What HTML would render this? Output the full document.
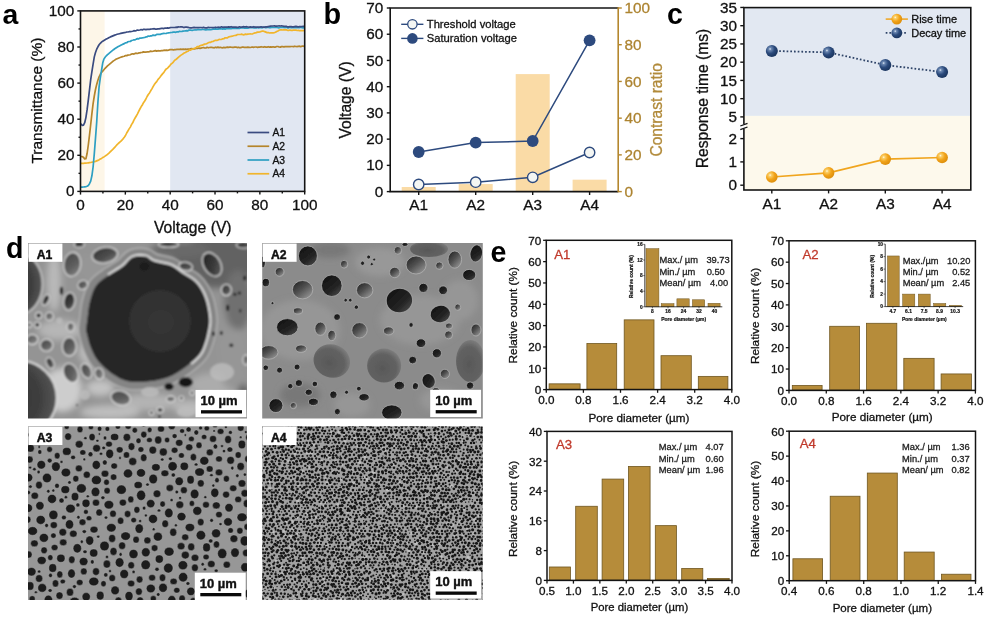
<!DOCTYPE html>
<html lang="en"><head><meta charset="utf-8"><title>Figure</title>
<style>html,body{margin:0;padding:0;background:#fff}svg{display:block}</style></head>
<body>
<svg width="987" height="618" viewBox="0 0 987 618" font-family='"Liberation Sans", Arial, sans-serif' fill="#111">
<rect width="987" height="618" fill="#fff"/>
<rect x="80.50" y="10.90" width="24.10" height="180.50" fill="#fdf6e8"/>
<rect x="170.18" y="10.90" width="134.52" height="180.50" fill="#e1e7f2"/>
<clipPath id="clipA"><rect x="80.5" y="10.9" width="224.2" height="180.5"/></clipPath>
<g clip-path="url(#clipA)" fill="none" stroke-width="1.7" stroke-linejoin="round" stroke-linecap="round">
<path d="M81.1,156.5 L82.3,156.7 L83.5,157.2 L84.7,158.9 L85.9,158.7 L87.1,153.5 L88.3,145.0 L89.5,135.2 L90.7,124.5 L91.9,113.7 L93.1,103.7 L94.3,96.0 L95.5,89.5 L96.7,84.4 L97.9,80.2 L99.1,76.8 L100.3,74.3 L101.5,72.5 L102.7,71.1 L103.9,69.7 L105.1,68.3 L106.3,67.1 L107.5,65.9 L108.7,64.9 L109.9,63.8 L111.1,62.8 L112.3,61.8 L113.5,60.9 L114.7,60.1 L115.9,59.3 L117.1,58.7 L118.3,58.2 L119.5,57.7 L120.7,57.3 L121.9,56.9 L123.1,56.5 L124.3,56.2 L125.5,55.6 L126.7,55.6 L127.9,55.1 L129.1,55.0 L130.3,54.7 L131.5,54.1 L132.7,53.8 L133.9,54.1 L135.1,53.4 L136.3,53.2 L137.5,53.5 L138.7,52.9 L139.9,52.9 L141.1,52.5 L142.3,52.4 L143.5,51.9 L144.7,52.1 L145.9,52.2 L147.1,51.8 L148.3,51.8 L149.5,51.6 L150.7,51.1 L151.9,51.5 L153.1,51.2 L154.3,50.9 L155.5,50.6 L156.7,51.1 L157.9,50.7 L159.1,50.8 L160.3,50.8 L161.5,50.6 L162.7,50.7 L163.9,50.2 L165.1,50.4 L166.3,50.1 L167.5,50.4 L168.7,50.2 L169.9,49.6 L171.1,49.6 L172.3,49.6 L173.5,50.0 L174.7,49.6 L175.9,49.6 L177.1,49.3 L178.3,49.4 L179.5,49.3 L180.7,49.2 L181.9,49.3 L183.1,49.2 L184.3,49.4 L185.5,49.1 L186.7,49.3 L187.9,49.1 L189.1,49.2 L190.3,48.9 L191.5,48.5 L192.7,48.9 L193.9,48.9 L195.1,48.8 L196.3,48.5 L197.5,48.5 L198.7,48.0 L199.9,48.4 L201.1,48.1 L202.3,47.8 L203.5,47.5 L204.7,48.0 L205.9,48.0 L207.1,47.3 L208.3,47.8 L209.5,47.5 L210.7,47.3 L211.9,47.4 L213.1,47.7 L214.3,47.8 L215.5,47.2 L216.7,47.6 L217.9,47.1 L219.1,47.6 L220.3,47.3 L221.5,47.7 L222.7,47.8 L223.9,47.4 L225.1,47.8 L226.3,47.3 L227.5,47.1 L228.7,47.4 L229.9,47.0 L231.1,47.2 L232.3,47.3 L233.5,47.4 L234.7,47.1 L235.9,47.0 L237.1,47.6 L238.3,47.2 L239.5,47.6 L240.7,47.6 L241.9,47.2 L243.1,47.2 L244.3,47.3 L245.5,47.3 L246.7,47.3 L247.9,47.2 L249.1,47.3 L250.3,47.5 L251.5,47.2 L252.7,47.1 L253.9,47.3 L255.1,47.0 L256.3,47.0 L257.5,47.4 L258.7,47.1 L259.9,47.1 L261.1,46.7 L262.3,47.0 L263.5,47.1 L264.7,46.7 L265.9,47.1 L267.1,47.1 L268.3,46.7 L269.5,47.1 L270.7,46.9 L271.9,47.1 L273.1,46.8 L274.3,47.1 L275.5,47.1 L276.7,46.5 L277.9,46.5 L279.1,47.0 L280.3,47.1 L281.5,46.6 L282.7,46.7 L283.9,46.8 L285.1,46.6 L286.3,46.6 L287.5,46.6 L288.7,46.6 L289.9,46.7 L291.1,46.5 L292.3,46.5 L293.5,46.7 L294.7,46.2 L295.9,46.5 L297.1,46.6 L298.3,46.3 L299.5,46.2 L300.7,46.6 L301.9,46.2 L303.1,46.1 L304.3,46.3" stroke="#b5852b"/>
<path d="M81.1,163.4 L82.3,163.4 L83.5,163.3 L84.7,163.2 L85.9,163.1 L87.1,163.0 L88.3,162.8 L89.5,162.6 L90.7,162.5 L91.9,162.2 L93.1,162.0 L94.3,161.7 L95.5,161.4 L96.7,160.9 L97.9,160.4 L99.1,159.8 L100.3,159.1 L101.5,158.4 L102.7,157.6 L103.9,156.9 L105.1,156.1 L106.3,155.3 L107.5,154.3 L108.7,153.3 L109.9,152.1 L111.1,151.0 L112.3,149.8 L113.5,148.6 L114.7,147.3 L115.9,146.0 L117.1,144.7 L118.3,143.5 L119.5,142.4 L120.7,141.3 L121.9,140.1 L123.1,138.8 L124.3,137.2 L125.5,135.5 L126.7,133.0 L127.9,131.0 L129.1,128.9 L130.3,127.1 L131.5,124.6 L132.7,122.8 L133.9,120.1 L135.1,118.0 L136.3,116.0 L137.5,113.9 L138.7,111.4 L139.9,109.0 L141.1,106.8 L142.3,105.0 L143.5,102.7 L144.7,101.0 L145.9,99.0 L147.1,96.5 L148.3,94.5 L149.5,92.9 L150.7,90.8 L151.9,88.9 L153.1,86.7 L154.3,84.6 L155.5,82.9 L156.7,81.6 L157.9,79.6 L159.1,78.2 L160.3,76.7 L161.5,75.1 L162.7,73.6 L163.9,72.4 L165.1,70.4 L166.3,68.9 L167.5,68.3 L168.7,66.9 L169.9,65.6 L171.1,64.0 L172.3,63.1 L173.5,61.8 L174.7,60.2 L175.9,59.5 L177.1,58.5 L178.3,57.4 L179.5,56.4 L180.7,55.4 L181.9,54.6 L183.1,53.8 L184.3,52.9 L185.5,52.5 L186.7,51.6 L187.9,51.3 L189.1,50.2 L190.3,50.2 L191.5,49.5 L192.7,49.1 L193.9,48.5 L195.1,48.1 L196.3,47.4 L197.5,46.5 L198.7,46.6 L199.9,45.7 L201.1,45.4 L202.3,45.2 L203.5,44.6 L204.7,44.1 L205.9,44.0 L207.1,43.4 L208.3,42.8 L209.5,42.3 L210.7,42.3 L211.9,41.6 L213.1,41.5 L214.3,40.8 L215.5,40.3 L216.7,40.3 L217.9,40.1 L219.1,39.4 L220.3,39.5 L221.5,39.3 L222.7,38.9 L223.9,38.7 L225.1,37.8 L226.3,37.9 L227.5,37.8 L228.7,36.9 L229.9,36.7 L231.1,36.3 L232.3,36.2 L233.5,35.8 L234.7,35.5 L235.9,35.4 L237.1,34.7 L238.3,34.5 L239.5,34.5 L240.7,34.4 L241.9,34.2 L243.1,34.8 L244.3,34.7 L245.5,34.1 L246.7,34.3 L247.9,34.1 L249.1,34.0 L250.3,33.9 L251.5,34.0 L252.7,33.8 L253.9,33.3 L255.1,32.9 L256.3,32.6 L257.5,32.1 L258.7,32.1 L259.9,31.9 L261.1,31.5 L262.3,31.1 L263.5,31.2 L264.7,31.6 L265.9,32.1 L267.1,32.6 L268.3,32.5 L269.5,33.0 L270.7,32.9 L271.9,32.8 L273.1,32.8 L274.3,32.6 L275.5,32.3 L276.7,31.5 L277.9,31.0 L279.1,30.3 L280.3,29.8 L281.5,29.9 L282.7,30.0 L283.9,29.6 L285.1,29.9 L286.3,29.9 L287.5,30.3 L288.7,30.4 L289.9,30.0 L291.1,30.4 L292.3,30.4 L293.5,30.0 L294.7,30.2 L295.9,30.0 L297.1,30.5 L298.3,30.4 L299.5,30.6 L300.7,30.6 L301.9,30.5 L303.1,30.6 L304.3,30.5" stroke="#f1b52c"/>
<path d="M81.1,187.1 L82.3,187.1 L83.5,187.0 L84.7,186.8 L85.9,186.6 L87.1,186.3 L88.3,185.5 L89.5,183.7 L90.7,181.1 L91.9,175.8 L93.1,167.0 L94.3,153.6 L95.5,138.1 L96.7,122.1 L97.9,102.2 L99.1,86.6 L100.3,77.9 L101.5,70.5 L102.7,63.1 L103.9,59.1 L105.1,57.2 L106.3,55.8 L107.5,54.6 L108.7,53.7 L109.9,52.7 L111.1,51.7 L112.3,50.7 L113.5,49.7 L114.7,48.8 L115.9,48.0 L117.1,47.2 L118.3,46.5 L119.5,45.9 L120.7,45.3 L121.9,44.7 L123.1,44.1 L124.3,43.6 L125.5,42.8 L126.7,42.7 L127.9,41.8 L129.1,41.5 L130.3,41.5 L131.5,40.5 L132.7,40.2 L133.9,39.8 L135.1,39.9 L136.3,39.1 L137.5,38.6 L138.7,38.9 L139.9,38.0 L141.1,38.2 L142.3,37.8 L143.5,37.7 L144.7,37.5 L145.9,36.9 L147.1,36.8 L148.3,36.0 L149.5,36.3 L150.7,35.9 L151.9,35.8 L153.1,35.1 L154.3,35.4 L155.5,35.3 L156.7,34.4 L157.9,34.4 L159.1,34.4 L160.3,34.4 L161.5,33.8 L162.7,33.6 L163.9,33.4 L165.1,33.5 L166.3,33.4 L167.5,33.0 L168.7,32.8 L169.9,32.7 L171.1,32.5 L172.3,32.4 L173.5,32.0 L174.7,32.1 L175.9,32.3 L177.1,31.8 L178.3,31.9 L179.5,31.3 L180.7,31.5 L181.9,31.4 L183.1,31.2 L184.3,31.0 L185.5,30.8 L186.7,30.7 L187.9,30.8 L189.1,30.1 L190.3,30.0 L191.5,30.3 L192.7,30.3 L193.9,30.0 L195.1,29.9 L196.3,30.0 L197.5,29.6 L198.7,29.6 L199.9,29.5 L201.1,29.7 L202.3,29.5 L203.5,29.4 L204.7,29.7 L205.9,29.9 L207.1,29.4 L208.3,29.6 L209.5,29.4 L210.7,29.7 L211.9,29.4 L213.1,29.2 L214.3,29.1 L215.5,28.9 L216.7,29.2 L217.9,29.1 L219.1,28.9 L220.3,28.9 L221.5,28.8 L222.7,29.1 L223.9,28.6 L225.1,29.1 L226.3,28.7 L227.5,28.7 L228.7,28.5 L229.9,28.7 L231.1,28.6 L232.3,28.4 L233.5,28.3 L234.7,28.4 L235.9,28.4 L237.1,28.1 L238.3,28.3 L239.5,28.4 L240.7,28.0 L241.9,27.8 L243.1,27.8 L244.3,28.1 L245.5,28.1 L246.7,28.2 L247.9,28.1 L249.1,27.7 L250.3,27.6 L251.5,27.6 L252.7,27.5 L253.9,27.9 L255.1,28.0 L256.3,28.0 L257.5,27.5 L258.7,27.9 L259.9,27.5 L261.1,27.6 L262.3,27.8 L263.5,27.3 L264.7,27.3 L265.9,27.8 L267.1,27.4 L268.3,27.4 L269.5,27.6 L270.7,27.6 L271.9,27.2 L273.1,27.4 L274.3,27.5 L275.5,27.5 L276.7,27.3 L277.9,27.6 L279.1,27.8 L280.3,27.4 L281.5,27.5 L282.7,27.2 L283.9,27.3 L285.1,27.6 L286.3,27.2 L287.5,27.8 L288.7,27.8 L289.9,27.2 L291.1,27.8 L292.3,27.4 L293.5,27.7 L294.7,27.7 L295.9,27.4 L297.1,27.6 L298.3,27.6 L299.5,27.7 L300.7,27.3 L301.9,27.7 L303.1,27.8 L304.3,27.6" stroke="#2d9fc2"/>
<path d="M81.1,124.2 L82.3,125.4 L83.5,125.1 L84.7,122.7 L85.9,117.6 L87.1,109.7 L88.3,100.1 L89.5,89.9 L90.7,79.7 L91.9,71.7 L93.1,64.1 L94.3,56.9 L95.5,52.5 L96.7,49.2 L97.9,46.8 L99.1,44.8 L100.3,43.3 L101.5,42.2 L102.7,41.2 L103.9,40.5 L105.1,39.8 L106.3,39.1 L107.5,38.5 L108.7,37.8 L109.9,37.2 L111.1,36.6 L112.3,36.1 L113.5,35.6 L114.7,35.1 L115.9,34.7 L117.1,34.3 L118.3,34.0 L119.5,33.7 L120.7,33.4 L121.9,33.1 L123.1,32.9 L124.3,32.7 L125.5,32.5 L126.7,32.0 L127.9,32.0 L129.1,31.7 L130.3,31.7 L131.5,31.5 L132.7,31.2 L133.9,30.7 L135.1,30.8 L136.3,30.6 L137.5,30.0 L138.7,30.3 L139.9,30.0 L141.1,29.5 L142.3,30.0 L143.5,29.3 L144.7,29.4 L145.9,29.6 L147.1,29.4 L148.3,29.3 L149.5,29.3 L150.7,29.1 L151.9,29.0 L153.1,28.8 L154.3,28.7 L155.5,29.1 L156.7,29.1 L157.9,28.9 L159.1,28.9 L160.3,28.6 L161.5,28.4 L162.7,28.4 L163.9,28.6 L165.1,28.0 L166.3,28.2 L167.5,27.9 L168.7,28.1 L169.9,27.7 L171.1,27.5 L172.3,27.5 L173.5,27.5 L174.7,27.5 L175.9,27.2 L177.1,27.4 L178.3,26.9 L179.5,27.0 L180.7,26.8 L181.9,26.8 L183.1,27.3 L184.3,27.4 L185.5,27.0 L186.7,27.1 L187.9,27.3 L189.1,27.6 L190.3,27.8 L191.5,27.8 L192.7,27.7 L193.9,27.4 L195.1,27.6 L196.3,27.5 L197.5,27.7 L198.7,27.7 L199.9,27.5 L201.1,27.5 L202.3,27.8 L203.5,27.3 L204.7,27.8 L205.9,27.8 L207.1,27.8 L208.3,27.4 L209.5,27.5 L210.7,27.5 L211.9,27.5 L213.1,27.7 L214.3,27.5 L215.5,27.2 L216.7,27.5 L217.9,27.2 L219.1,27.3 L220.3,27.4 L221.5,26.8 L222.7,27.3 L223.9,27.2 L225.1,27.1 L226.3,27.1 L227.5,27.1 L228.7,26.9 L229.9,27.1 L231.1,26.7 L232.3,27.1 L233.5,27.2 L234.7,27.0 L235.9,27.1 L237.1,27.4 L238.3,27.3 L239.5,26.8 L240.7,27.2 L241.9,27.1 L243.1,26.7 L244.3,26.9 L245.5,26.8 L246.7,26.7 L247.9,27.0 L249.1,27.3 L250.3,26.9 L251.5,27.2 L252.7,27.1 L253.9,26.7 L255.1,27.2 L256.3,27.0 L257.5,27.2 L258.7,27.1 L259.9,27.1 L261.1,26.8 L262.3,27.1 L263.5,27.2 L264.7,27.1 L265.9,26.8 L267.1,26.9 L268.3,26.6 L269.5,26.3 L270.7,26.1 L271.9,26.0 L273.1,26.0 L274.3,25.9 L275.5,26.1 L276.7,26.1 L277.9,26.0 L279.1,25.9 L280.3,26.0 L281.5,25.8 L282.7,26.0 L283.9,26.4 L285.1,26.3 L286.3,26.3 L287.5,26.9 L288.7,26.9 L289.9,26.7 L291.1,26.7 L292.3,26.8 L293.5,26.9 L294.7,26.6 L295.9,26.4 L297.1,26.6 L298.3,27.0 L299.5,26.5 L300.7,26.7 L301.9,26.5 L303.1,26.4 L304.3,26.4" stroke="#3a4b80"/>
</g>
<rect x="80.5" y="10.9" width="224.20" height="180.50" fill="none" stroke="#141414" stroke-width="1.6"/>
<line x1="80.50" y1="191.40" x2="80.50" y2="194.60" stroke="#141414" stroke-width="1.4"/>
<line x1="77.30" y1="191.40" x2="80.50" y2="191.40" stroke="#141414" stroke-width="1.4"/>
<line x1="102.92" y1="191.40" x2="102.92" y2="193.40" stroke="#141414" stroke-width="1.4"/>
<line x1="78.50" y1="173.35" x2="80.50" y2="173.35" stroke="#141414" stroke-width="1.4"/>
<line x1="125.34" y1="191.40" x2="125.34" y2="194.60" stroke="#141414" stroke-width="1.4"/>
<line x1="77.30" y1="155.30" x2="80.50" y2="155.30" stroke="#141414" stroke-width="1.4"/>
<line x1="147.76" y1="191.40" x2="147.76" y2="193.40" stroke="#141414" stroke-width="1.4"/>
<line x1="78.50" y1="137.25" x2="80.50" y2="137.25" stroke="#141414" stroke-width="1.4"/>
<line x1="170.18" y1="191.40" x2="170.18" y2="194.60" stroke="#141414" stroke-width="1.4"/>
<line x1="77.30" y1="119.20" x2="80.50" y2="119.20" stroke="#141414" stroke-width="1.4"/>
<line x1="192.60" y1="191.40" x2="192.60" y2="193.40" stroke="#141414" stroke-width="1.4"/>
<line x1="78.50" y1="101.15" x2="80.50" y2="101.15" stroke="#141414" stroke-width="1.4"/>
<line x1="215.02" y1="191.40" x2="215.02" y2="194.60" stroke="#141414" stroke-width="1.4"/>
<line x1="77.30" y1="83.10" x2="80.50" y2="83.10" stroke="#141414" stroke-width="1.4"/>
<line x1="237.44" y1="191.40" x2="237.44" y2="193.40" stroke="#141414" stroke-width="1.4"/>
<line x1="78.50" y1="65.05" x2="80.50" y2="65.05" stroke="#141414" stroke-width="1.4"/>
<line x1="259.86" y1="191.40" x2="259.86" y2="194.60" stroke="#141414" stroke-width="1.4"/>
<line x1="77.30" y1="47.00" x2="80.50" y2="47.00" stroke="#141414" stroke-width="1.4"/>
<line x1="282.28" y1="191.40" x2="282.28" y2="193.40" stroke="#141414" stroke-width="1.4"/>
<line x1="78.50" y1="28.95" x2="80.50" y2="28.95" stroke="#141414" stroke-width="1.4"/>
<line x1="304.70" y1="191.40" x2="304.70" y2="194.60" stroke="#141414" stroke-width="1.4"/>
<line x1="77.30" y1="10.90" x2="80.50" y2="10.90" stroke="#141414" stroke-width="1.4"/>
<text x="80.50" y="209.90" font-size="15.3" text-anchor="middle" stroke="#111" stroke-width="0.3">0</text>
<text x="74.40" y="196.40" font-size="15.3" text-anchor="end" stroke="#111" stroke-width="0.3">0</text>
<text x="125.34" y="209.90" font-size="15.3" text-anchor="middle" stroke="#111" stroke-width="0.3">20</text>
<text x="74.40" y="160.30" font-size="15.3" text-anchor="end" stroke="#111" stroke-width="0.3">20</text>
<text x="170.18" y="209.90" font-size="15.3" text-anchor="middle" stroke="#111" stroke-width="0.3">40</text>
<text x="74.40" y="124.20" font-size="15.3" text-anchor="end" stroke="#111" stroke-width="0.3">40</text>
<text x="215.02" y="209.90" font-size="15.3" text-anchor="middle" stroke="#111" stroke-width="0.3">60</text>
<text x="74.40" y="88.10" font-size="15.3" text-anchor="end" stroke="#111" stroke-width="0.3">60</text>
<text x="259.86" y="209.90" font-size="15.3" text-anchor="middle" stroke="#111" stroke-width="0.3">80</text>
<text x="74.40" y="52.00" font-size="15.3" text-anchor="end" stroke="#111" stroke-width="0.3">80</text>
<text x="304.70" y="209.90" font-size="15.3" text-anchor="middle" stroke="#111" stroke-width="0.3">100</text>
<text x="74.40" y="15.90" font-size="15.3" text-anchor="end" stroke="#111" stroke-width="0.3">100</text>
<text x="192.80" y="232.60" font-size="15.7" text-anchor="middle" stroke="#111" stroke-width="0.3">Voltage (V)</text>
<text x="42.40" y="100.60" font-size="15.5" text-anchor="middle" stroke="#111" stroke-width="0.3" transform="rotate(-90 42.40 100.60)">Transmittance (%)</text>
<line x1="247.50" y1="132.50" x2="269.20" y2="132.50" stroke="#3a4b80" stroke-width="1.7"/>
<text x="272.40" y="136.10" font-size="10.3" stroke="#111" stroke-width="0.3">A1</text>
<line x1="247.50" y1="146.25" x2="269.20" y2="146.25" stroke="#b5852b" stroke-width="1.7"/>
<text x="272.40" y="149.85" font-size="10.3" stroke="#111" stroke-width="0.3">A2</text>
<line x1="247.50" y1="160.00" x2="269.20" y2="160.00" stroke="#2d9fc2" stroke-width="1.7"/>
<text x="272.40" y="163.60" font-size="10.3" stroke="#111" stroke-width="0.3">A3</text>
<line x1="247.50" y1="173.75" x2="269.20" y2="173.75" stroke="#f1b52c" stroke-width="1.7"/>
<text x="272.40" y="177.35" font-size="10.3" stroke="#111" stroke-width="0.3">A4</text>
<text x="2.60" y="24.40" font-size="28.4" font-weight="bold" fill="#000">a</text>
<rect x="401.70" y="187.01" width="34.00" height="4.59" fill="#fadba6"/>
<rect x="458.70" y="184.07" width="34.00" height="7.53" fill="#fadba6"/>
<rect x="515.70" y="74.10" width="34.00" height="117.50" fill="#fadba6"/>
<rect x="572.60" y="179.67" width="34.00" height="11.93" fill="#fadba6"/>
<path d="M390.2,8.0 H618.2 M390.2,7.3 V191.6 H618.2" fill="none" stroke="#141414" stroke-width="1.6"/>
<line x1="618.20" y1="7.30" x2="618.20" y2="192.30" stroke="#b4872e" stroke-width="1.6"/>
<line x1="386.80" y1="191.60" x2="390.20" y2="191.60" stroke="#141414" stroke-width="1.4"/>
<text x="383.20" y="196.70" font-size="15.3" text-anchor="end" stroke="#111" stroke-width="0.3">0</text>
<line x1="386.80" y1="165.37" x2="390.20" y2="165.37" stroke="#141414" stroke-width="1.4"/>
<text x="383.20" y="170.47" font-size="15.3" text-anchor="end" stroke="#111" stroke-width="0.3">10</text>
<line x1="386.80" y1="139.14" x2="390.20" y2="139.14" stroke="#141414" stroke-width="1.4"/>
<text x="383.20" y="144.24" font-size="15.3" text-anchor="end" stroke="#111" stroke-width="0.3">20</text>
<line x1="386.80" y1="112.91" x2="390.20" y2="112.91" stroke="#141414" stroke-width="1.4"/>
<text x="383.20" y="118.01" font-size="15.3" text-anchor="end" stroke="#111" stroke-width="0.3">30</text>
<line x1="386.80" y1="86.69" x2="390.20" y2="86.69" stroke="#141414" stroke-width="1.4"/>
<text x="383.20" y="91.79" font-size="15.3" text-anchor="end" stroke="#111" stroke-width="0.3">40</text>
<line x1="386.80" y1="60.46" x2="390.20" y2="60.46" stroke="#141414" stroke-width="1.4"/>
<text x="383.20" y="65.56" font-size="15.3" text-anchor="end" stroke="#111" stroke-width="0.3">50</text>
<line x1="386.80" y1="34.23" x2="390.20" y2="34.23" stroke="#141414" stroke-width="1.4"/>
<text x="383.20" y="39.33" font-size="15.3" text-anchor="end" stroke="#111" stroke-width="0.3">60</text>
<line x1="386.80" y1="8.00" x2="390.20" y2="8.00" stroke="#141414" stroke-width="1.4"/>
<text x="383.20" y="13.10" font-size="15.3" text-anchor="end" stroke="#111" stroke-width="0.3">70</text>
<line x1="618.20" y1="191.60" x2="621.80" y2="191.60" stroke="#b4872e" stroke-width="1.4"/>
<text x="624.40" y="196.70" font-size="15.3" fill="#ad8431" stroke="#ad8431" stroke-width="0.3">0</text>
<line x1="618.20" y1="154.88" x2="621.80" y2="154.88" stroke="#b4872e" stroke-width="1.4"/>
<text x="624.40" y="159.98" font-size="15.3" fill="#ad8431" stroke="#ad8431" stroke-width="0.3">20</text>
<line x1="618.20" y1="118.16" x2="621.80" y2="118.16" stroke="#b4872e" stroke-width="1.4"/>
<text x="624.40" y="123.26" font-size="15.3" fill="#ad8431" stroke="#ad8431" stroke-width="0.3">40</text>
<line x1="618.20" y1="81.44" x2="621.80" y2="81.44" stroke="#b4872e" stroke-width="1.4"/>
<text x="624.40" y="86.54" font-size="15.3" fill="#ad8431" stroke="#ad8431" stroke-width="0.3">60</text>
<line x1="618.20" y1="44.72" x2="621.80" y2="44.72" stroke="#b4872e" stroke-width="1.4"/>
<text x="624.40" y="49.82" font-size="15.3" fill="#ad8431" stroke="#ad8431" stroke-width="0.3">80</text>
<line x1="618.20" y1="8.00" x2="621.80" y2="8.00" stroke="#b4872e" stroke-width="1.4"/>
<text x="624.40" y="13.10" font-size="15.3" fill="#ad8431" stroke="#ad8431" stroke-width="0.3">100</text>
<line x1="418.70" y1="191.60" x2="418.70" y2="195.00" stroke="#141414" stroke-width="1.4"/>
<text x="418.70" y="209.90" font-size="15.3" text-anchor="middle" stroke="#111" stroke-width="0.3">A1</text>
<line x1="475.70" y1="191.60" x2="475.70" y2="195.00" stroke="#141414" stroke-width="1.4"/>
<text x="475.70" y="209.90" font-size="15.3" text-anchor="middle" stroke="#111" stroke-width="0.3">A2</text>
<line x1="532.70" y1="191.60" x2="532.70" y2="195.00" stroke="#141414" stroke-width="1.4"/>
<text x="532.70" y="209.90" font-size="15.3" text-anchor="middle" stroke="#111" stroke-width="0.3">A3</text>
<line x1="589.60" y1="191.60" x2="589.60" y2="195.00" stroke="#141414" stroke-width="1.4"/>
<text x="589.60" y="209.90" font-size="15.3" text-anchor="middle" stroke="#111" stroke-width="0.3">A4</text>
<path d="M418.7,184.5 L475.7,182.2 L532.7,177.3 L589.6,152.5" fill="none" stroke="#2d4a7e" stroke-width="1.5"/>
<path d="M418.7,152.0 L475.7,142.6 L532.7,141.0 L589.6,40.3" fill="none" stroke="#2d4a7e" stroke-width="1.5"/>
<circle cx="418.7" cy="184.5" r="5.2" fill="#f4f6f3" stroke="#2d4a7e" stroke-width="1.4"/>
<circle cx="475.7" cy="182.2" r="5.2" fill="#f4f6f3" stroke="#2d4a7e" stroke-width="1.4"/>
<circle cx="532.7" cy="177.3" r="5.2" fill="#f4f6f3" stroke="#2d4a7e" stroke-width="1.4"/>
<circle cx="589.6" cy="152.5" r="5.2" fill="#f4f6f3" stroke="#2d4a7e" stroke-width="1.4"/>
<circle cx="418.7" cy="152.0" r="5.9" fill="#2d4a7e"/>
<circle cx="475.7" cy="142.6" r="5.9" fill="#2d4a7e"/>
<circle cx="532.7" cy="141.0" r="5.9" fill="#2d4a7e"/>
<circle cx="589.6" cy="40.3" r="5.9" fill="#2d4a7e"/>
<line x1="401.20" y1="24.30" x2="423.40" y2="24.30" stroke="#2d4a7e" stroke-width="1.4"/>
<circle cx="412.4" cy="24.3" r="4.7" fill="#f4f6f3" stroke="#2d4a7e" stroke-width="1.3"/>
<line x1="401.20" y1="38.40" x2="423.40" y2="38.40" stroke="#2d4a7e" stroke-width="1.4"/>
<circle cx="412.4" cy="38.4" r="5.3" fill="#2d4a7e"/>
<text x="426.80" y="28.20" font-size="11.2" stroke="#111" stroke-width="0.3">Threshold voltage</text>
<text x="426.80" y="42.30" font-size="11.2" stroke="#111" stroke-width="0.3">Saturation voltage</text>
<text x="351.00" y="100.00" font-size="15.6" text-anchor="middle" stroke="#111" stroke-width="0.3" transform="rotate(-90 351.00 100.00)">Voltage (V)</text>
<text x="661.80" y="109.80" font-size="15.6" text-anchor="middle" fill="#b18a3a" stroke="#b18a3a" stroke-width="0.3" transform="rotate(-90 661.80 109.80)">Contrast ratio</text>
<text x="323.60" y="24.30" font-size="28.8" font-weight="bold" fill="#000">b</text>
<rect x="743.90" y="7.60" width="226.90" height="108.30" fill="#e2e8f2"/>
<rect x="743.90" y="115.90" width="226.90" height="74.10" fill="#fdf9ec"/>
<defs><radialGradient id="gO" cx="0.36" cy="0.34" r="0.62"><stop offset="0" stop-color="#fffbe8"/><stop offset="0.18" stop-color="#fbd06a"/><stop offset="0.6" stop-color="#f2a41a"/><stop offset="1" stop-color="#e0920f"/></radialGradient><radialGradient id="gB" cx="0.36" cy="0.34" r="0.62"><stop offset="0" stop-color="#e6eef8"/><stop offset="0.18" stop-color="#6c88b2"/><stop offset="0.6" stop-color="#2b4a7c"/><stop offset="1" stop-color="#1d3863"/></radialGradient></defs>
<rect x="743.9" y="7.6" width="226.90" height="182.40" fill="none" stroke="#141414" stroke-width="1.6"/>
<rect x="741.90" y="124.20" width="4.00" height="4.40" fill="#fff"/>
<line x1="740.30" y1="126.00" x2="747.50" y2="123.40" stroke="#141414" stroke-width="1.3"/>
<line x1="740.30" y1="129.60" x2="747.50" y2="127.00" stroke="#141414" stroke-width="1.3"/>
<line x1="740.30" y1="116.90" x2="743.90" y2="116.90" stroke="#141414" stroke-width="1.4"/>
<text x="737.00" y="122.10" font-size="15.3" text-anchor="end" stroke="#111" stroke-width="0.3">5</text>
<line x1="740.30" y1="98.66" x2="743.90" y2="98.66" stroke="#141414" stroke-width="1.4"/>
<text x="737.00" y="103.86" font-size="15.3" text-anchor="end" stroke="#111" stroke-width="0.3">10</text>
<line x1="740.30" y1="80.42" x2="743.90" y2="80.42" stroke="#141414" stroke-width="1.4"/>
<text x="737.00" y="85.62" font-size="15.3" text-anchor="end" stroke="#111" stroke-width="0.3">15</text>
<line x1="740.30" y1="62.18" x2="743.90" y2="62.18" stroke="#141414" stroke-width="1.4"/>
<text x="737.00" y="67.38" font-size="15.3" text-anchor="end" stroke="#111" stroke-width="0.3">20</text>
<line x1="740.30" y1="43.94" x2="743.90" y2="43.94" stroke="#141414" stroke-width="1.4"/>
<text x="737.00" y="49.14" font-size="15.3" text-anchor="end" stroke="#111" stroke-width="0.3">25</text>
<line x1="740.30" y1="25.70" x2="743.90" y2="25.70" stroke="#141414" stroke-width="1.4"/>
<text x="737.00" y="30.90" font-size="15.3" text-anchor="end" stroke="#111" stroke-width="0.3">30</text>
<line x1="740.30" y1="7.46" x2="743.90" y2="7.46" stroke="#141414" stroke-width="1.4"/>
<text x="737.00" y="12.66" font-size="15.3" text-anchor="end" stroke="#111" stroke-width="0.3">35</text>
<line x1="740.30" y1="185.20" x2="743.90" y2="185.20" stroke="#141414" stroke-width="1.4"/>
<text x="737.00" y="190.40" font-size="15.3" text-anchor="end" stroke="#111" stroke-width="0.3">0</text>
<line x1="740.30" y1="161.90" x2="743.90" y2="161.90" stroke="#141414" stroke-width="1.4"/>
<text x="737.00" y="167.10" font-size="15.3" text-anchor="end" stroke="#111" stroke-width="0.3">1</text>
<line x1="740.30" y1="138.60" x2="743.90" y2="138.60" stroke="#141414" stroke-width="1.4"/>
<text x="737.00" y="143.80" font-size="15.3" text-anchor="end" stroke="#111" stroke-width="0.3">2</text>
<line x1="771.80" y1="190.00" x2="771.80" y2="193.40" stroke="#141414" stroke-width="1.4"/>
<text x="771.80" y="208.60" font-size="15.3" text-anchor="middle" stroke="#111" stroke-width="0.3">A1</text>
<line x1="828.60" y1="190.00" x2="828.60" y2="193.40" stroke="#141414" stroke-width="1.4"/>
<text x="828.60" y="208.60" font-size="15.3" text-anchor="middle" stroke="#111" stroke-width="0.3">A2</text>
<line x1="885.30" y1="190.00" x2="885.30" y2="193.40" stroke="#141414" stroke-width="1.4"/>
<text x="885.30" y="208.60" font-size="15.3" text-anchor="middle" stroke="#111" stroke-width="0.3">A3</text>
<line x1="942.10" y1="190.00" x2="942.10" y2="193.40" stroke="#141414" stroke-width="1.4"/>
<text x="942.10" y="208.60" font-size="15.3" text-anchor="middle" stroke="#111" stroke-width="0.3">A4</text>
<path d="M771.8,50.9 L828.6,52.4 L885.3,65.0 L942.1,72.0" fill="none" stroke="#2f4468" stroke-width="1.8" stroke-dasharray="1.7 2.0"/>
<path d="M771.8,177.0 L828.6,172.9 L885.3,159.1 L942.1,157.5" fill="none" stroke="#f0a51e" stroke-width="1.6"/>
<circle cx="771.8" cy="50.9" r="6" fill="url(#gB)"/>
<circle cx="828.6" cy="52.4" r="6" fill="url(#gB)"/>
<circle cx="885.3" cy="65.0" r="6" fill="url(#gB)"/>
<circle cx="942.1" cy="72.0" r="6" fill="url(#gB)"/>
<circle cx="771.8" cy="177.0" r="5.8" fill="url(#gO)"/>
<circle cx="828.6" cy="172.9" r="5.8" fill="url(#gO)"/>
<circle cx="885.3" cy="159.1" r="5.8" fill="url(#gO)"/>
<circle cx="942.1" cy="157.5" r="5.8" fill="url(#gO)"/>
<line x1="885.70" y1="19.10" x2="907.90" y2="19.10" stroke="#f0a51e" stroke-width="1.5"/>
<circle cx="896.8" cy="19.1" r="5.4" fill="url(#gO)"/>
<line x1="885.70" y1="32.90" x2="907.90" y2="32.90" stroke="#2f4468" stroke-width="1.8" stroke-dasharray="1.7 2.0"/>
<circle cx="896.8" cy="32.9" r="5.4" fill="url(#gB)"/>
<text x="911.20" y="23.00" font-size="11" stroke="#111" stroke-width="0.3">Rise time</text>
<text x="911.20" y="36.80" font-size="11" stroke="#111" stroke-width="0.3">Decay time</text>
<text x="708.30" y="98.50" font-size="15.6" text-anchor="middle" stroke="#111" stroke-width="0.3" transform="rotate(-90 708.30 98.50)">Response time (ms)</text>
<text x="667.00" y="24.00" font-size="28.6" font-weight="bold" fill="#000">c</text>
<text x="6.00" y="257.60" font-size="28.6" font-weight="bold" fill="#000">d</text>
<defs><filter id="bl" x="-2%" y="-2%" width="104%" height="104%"><feGaussianBlur stdDeviation="0.55"/></filter><filter id="bl1" x="-2%" y="-2%" width="104%" height="104%"><feGaussianBlur stdDeviation="0.85"/></filter><linearGradient id="gL0" x1="0.2" y1="0.1" x2="0.8" y2="0.95"><stop offset="0" stop-color="#262626"/><stop offset="0.55" stop-color="#3a3a3a"/><stop offset="1" stop-color="#5c5c5c"/></linearGradient><linearGradient id="gL1" x1="0.2" y1="0.1" x2="0.8" y2="0.95"><stop offset="0" stop-color="#383838"/><stop offset="0.55" stop-color="#4c4c4c"/><stop offset="1" stop-color="#6e6e6e"/></linearGradient><linearGradient id="gL2" x1="0.2" y1="0.1" x2="0.8" y2="0.95"><stop offset="0" stop-color="#4a4a4a"/><stop offset="0.55" stop-color="#5e5e5e"/><stop offset="1" stop-color="#808080"/></linearGradient><linearGradient id="gL3" x1="0.2" y1="0.1" x2="0.8" y2="0.95"><stop offset="0" stop-color="#5c5c5c"/><stop offset="0.55" stop-color="#707070"/><stop offset="1" stop-color="#929292"/></linearGradient><filter id="bl2" x="-2%" y="-2%" width="104%" height="104%"><feGaussianBlur stdDeviation="0.4"/></filter><filter id="bl3" x="-10%" y="-10%" width="120%" height="120%"><feGaussianBlur stdDeviation="3"/></filter><radialGradient id="gP" cx="0.55" cy="0.52" r="0.55"><stop offset="0" stop-color="#3f3f3f"/><stop offset="0.55" stop-color="#333"/><stop offset="0.9" stop-color="#222"/><stop offset="1" stop-color="#1c1c1c"/></radialGradient><linearGradient id="gK" x1="0.2" y1="0.1" x2="0.85" y2="0.95"><stop offset="0" stop-color="#151515"/><stop offset="0.6" stop-color="#232323"/><stop offset="1" stop-color="#474747"/></linearGradient><linearGradient id="gS" x1="0.15" y1="0.1" x2="0.85" y2="0.9"><stop offset="0" stop-color="#2a2a2a"/><stop offset="0.45" stop-color="#505050"/><stop offset="1" stop-color="#909090"/></linearGradient><radialGradient id="gS2" cx="0.45" cy="0.58" r="0.6"><stop offset="0" stop-color="#585858"/><stop offset="0.7" stop-color="#626262"/><stop offset="1" stop-color="#7e7e7e"/></radialGradient><radialGradient id="gD1" cx="0.35" cy="0.5" r="0.7"><stop offset="0" stop-color="#333"/><stop offset="0.6" stop-color="#3e3e3e"/><stop offset="1" stop-color="#5c5c5c"/></radialGradient><clipPath id="c1"><rect x="28" y="243" width="219" height="175.5"/></clipPath><clipPath id="c2"><rect x="262.2" y="243" width="220.6" height="175.5"/></clipPath><clipPath id="c3"><rect x="28" y="426.2" width="219" height="173.8"/></clipPath><clipPath id="c4"><rect x="262.2" y="426.2" width="220.6" height="173.5"/></clipPath></defs>
<g clip-path="url(#c1)"><g filter="url(#bl1)">
<rect x="26" y="241" width="223" height="180" fill="#949494"/>
<g filter="url(#bl3)">
<ellipse cx="215" cy="262" rx="42" ry="26" fill="#626262"/>
<ellipse cx="238" cy="300" rx="14" ry="30" fill="#707070"/>
<ellipse cx="180" cy="250" rx="30" ry="8" fill="#696969"/>
<ellipse cx="62" cy="390" rx="20" ry="22" fill="#cdcdcd"/>
<ellipse cx="95" cy="352" rx="16" ry="14" fill="#bebebe"/>
<ellipse cx="60" cy="330" rx="22" ry="10" fill="#b6b6b6"/>
<ellipse cx="54" cy="282" rx="7" ry="30" fill="#b9b9b9"/>
<ellipse cx="100" cy="388" rx="14" ry="8" fill="#c3c3c3"/>
<ellipse cx="95" cy="268" rx="16" ry="14" fill="#969696"/>
<ellipse cx="232" cy="350" rx="14" ry="22" fill="#969696"/>
<ellipse cx="215" cy="385" rx="26" ry="12" fill="#acacac"/>
<ellipse cx="234" cy="376" rx="12" ry="14" fill="#969696"/>
<ellipse cx="150" cy="402" rx="30" ry="8" fill="#b4b4b4"/>
<ellipse cx="110" cy="412" rx="30" ry="7" fill="#bebebe"/>
<ellipse cx="190" cy="408" rx="16" ry="8" fill="#b9b9b9"/>
<ellipse cx="243" cy="400" rx="6" ry="16" fill="#5a5a5a"/>
</g>
<ellipse cx="19.5" cy="284" rx="23" ry="30" fill="url(#gD1)" stroke="#c4c4c4" stroke-width="1.6"/>
<ellipse cx="19.5" cy="398" rx="37.3" ry="37.3" fill="url(#gD1)" stroke="#d6d6d6" stroke-width="2"/>
<path d="M86.4,328.0 C86.5,325.5 86.9,323.3 87.5,319.0 C88.1,314.7 88.6,307.4 90.0,302.0 C91.4,296.6 92.9,290.8 95.7,286.5 C98.5,282.2 102.6,279.8 107.1,276.5 C111.6,273.2 118.4,269.7 122.7,266.5 C127.0,263.3 128.9,259.0 132.7,257.3 C136.5,255.6 141.9,255.8 145.5,256.5 C149.1,257.2 149.8,259.9 154.1,261.5 C158.4,263.1 166.4,263.8 171.2,265.8 C175.9,267.8 178.8,271.1 182.6,273.6 C186.4,276.1 190.9,278.2 194.0,280.8 C197.1,283.4 199.0,286.0 201.0,289.3 C203.0,292.6 204.8,296.9 206.0,300.7 C207.2,304.5 207.9,308.4 208.5,312.0 C209.1,315.6 209.4,319.0 209.3,322.0 C209.2,325.0 208.8,326.8 208.2,330.0 C207.5,333.2 206.8,337.4 205.4,341.4 C204.0,345.4 203.0,349.9 199.7,354.2 C196.4,358.5 190.6,363.2 185.4,367.0 C180.2,370.8 174.5,374.6 168.3,377.0 C162.1,379.4 155.1,380.6 148.4,381.3 C141.8,382.0 134.3,382.5 128.4,381.3 C122.5,380.1 117.8,377.4 112.8,374.1 C107.8,370.8 102.1,365.6 98.5,361.3 C94.9,357.0 93.3,353.0 91.4,348.5 C89.5,344.0 87.9,337.6 87.1,334.2 C86.3,330.8 86.3,330.5 86.4,328.0Z" fill="#868686" stroke="#b4b4b4" stroke-width="17" stroke-linejoin="round"/>
<path d="M86.4,328.0 C86.5,325.5 86.9,323.3 87.5,319.0 C88.1,314.7 88.6,307.4 90.0,302.0 C91.4,296.6 92.9,290.8 95.7,286.5 C98.5,282.2 102.6,279.8 107.1,276.5 C111.6,273.2 118.4,269.7 122.7,266.5 C127.0,263.3 128.9,259.0 132.7,257.3 C136.5,255.6 141.9,255.8 145.5,256.5 C149.1,257.2 149.8,259.9 154.1,261.5 C158.4,263.1 166.4,263.8 171.2,265.8 C175.9,267.8 178.8,271.1 182.6,273.6 C186.4,276.1 190.9,278.2 194.0,280.8 C197.1,283.4 199.0,286.0 201.0,289.3 C203.0,292.6 204.8,296.9 206.0,300.7 C207.2,304.5 207.9,308.4 208.5,312.0 C209.1,315.6 209.4,319.0 209.3,322.0 C209.2,325.0 208.8,326.8 208.2,330.0 C207.5,333.2 206.8,337.4 205.4,341.4 C204.0,345.4 203.0,349.9 199.7,354.2 C196.4,358.5 190.6,363.2 185.4,367.0 C180.2,370.8 174.5,374.6 168.3,377.0 C162.1,379.4 155.1,380.6 148.4,381.3 C141.8,382.0 134.3,382.5 128.4,381.3 C122.5,380.1 117.8,377.4 112.8,374.1 C107.8,370.8 102.1,365.6 98.5,361.3 C94.9,357.0 93.3,353.0 91.4,348.5 C89.5,344.0 87.9,337.6 87.1,334.2 C86.3,330.8 86.3,330.5 86.4,328.0Z" fill="#868686" stroke="#858585" stroke-width="14.5" stroke-linejoin="round"/>
<ellipse cx="72.2" cy="264.4" rx="8.5" ry="12.0" fill="url(#gL2)" stroke="#e2e2e2" stroke-opacity="0.85" stroke-width="1.3" transform="rotate(8 72.2 264.4)"/>
<ellipse cx="69.3" cy="301.4" rx="5.7" ry="8.8" fill="url(#gL0)" stroke="#e2e2e2" stroke-opacity="0.85" stroke-width="1.3" transform="rotate(8 69.3 301.4)"/>
<ellipse cx="45.8" cy="300" rx="3.1" ry="5.7" fill="url(#gL0)" stroke="#e2e2e2" stroke-opacity="0.85" stroke-width="1.3" transform="rotate(25 45.8 300)"/>
<ellipse cx="82.8" cy="285" rx="5.0" ry="4.3" fill="url(#gL2)" stroke="#e2e2e2" stroke-opacity="0.85" stroke-width="1.3" transform="rotate(-20 82.8 285)"/>
<ellipse cx="38.7" cy="315.6" rx="3.1" ry="3.1" fill="url(#gL0)" stroke="#e2e2e2" stroke-opacity="0.85" stroke-width="1.3" transform="rotate(0 38.7 315.6)"/>
<ellipse cx="49.4" cy="316.4" rx="4.0" ry="4.0" fill="url(#gL3)" stroke="#e2e2e2" stroke-opacity="0.85" stroke-width="1.3" transform="rotate(0 49.4 316.4)"/>
<ellipse cx="37.3" cy="324.9" rx="2.8" ry="2.8" fill="url(#gL0)" stroke="#e2e2e2" stroke-opacity="0.85" stroke-width="1.3" transform="rotate(0 37.3 324.9)"/>
<ellipse cx="29.4" cy="324.9" rx="2.2" ry="2.4" fill="url(#gL1)" stroke="#e2e2e2" stroke-opacity="0.85" stroke-width="1.3" transform="rotate(0 29.4 324.9)"/>
<ellipse cx="70.7" cy="327" rx="3.6" ry="4.3" fill="url(#gL3)" stroke="#e2e2e2" stroke-opacity="0.85" stroke-width="1.3" transform="rotate(0 70.7 327)"/>
<ellipse cx="104.9" cy="255.1" rx="12.8" ry="7.8" fill="url(#gL1)" stroke="#e2e2e2" stroke-opacity="0.85" stroke-width="1.3" transform="rotate(-8 104.9 255.1)"/>
<ellipse cx="79.3" cy="244.4" rx="5" ry="3" fill="url(#gL0)" stroke="#e2e2e2" stroke-opacity="0.85" stroke-width="1.3" transform="rotate(0 79.3 244.4)"/>
<ellipse cx="32.3" cy="339.5" rx="5.7" ry="5.0" fill="url(#gL3)" stroke="#e2e2e2" stroke-opacity="0.85" stroke-width="1.3" transform="rotate(0 32.3 339.5)"/>
<ellipse cx="46.5" cy="345.2" rx="6.4" ry="6.0" fill="url(#gL2)" stroke="#e2e2e2" stroke-opacity="0.85" stroke-width="1.3" transform="rotate(0 46.5 345.2)"/>
<ellipse cx="69.3" cy="346.7" rx="7.0" ry="9.3" fill="url(#gL2)" stroke="#e2e2e2" stroke-opacity="0.85" stroke-width="1.3" transform="rotate(0 69.3 346.7)"/>
<ellipse cx="50.1" cy="363" rx="3.6" ry="5.7" fill="url(#gL1)" stroke="#e2e2e2" stroke-opacity="0.85" stroke-width="1.3" transform="rotate(-25 50.1 363)"/>
<ellipse cx="70.7" cy="373" rx="7.0" ry="10.0" fill="url(#gL2)" stroke="#e2e2e2" stroke-opacity="0.85" stroke-width="1.3" transform="rotate(-25 70.7 373)"/>
<ellipse cx="86.4" cy="370.9" rx="5.0" ry="7.8" fill="url(#gL2)" stroke="#e2e2e2" stroke-opacity="0.85" stroke-width="1.3" transform="rotate(-25 86.4 370.9)"/>
<ellipse cx="99.2" cy="373.7" rx="4.3" ry="5.7" fill="url(#gL3)" stroke="#e2e2e2" stroke-opacity="0.85" stroke-width="1.3" transform="rotate(-15 99.2 373.7)"/>
<ellipse cx="120.6" cy="398" rx="10.0" ry="7.1" fill="url(#gL2)" stroke="#e2e2e2" stroke-opacity="0.85" stroke-width="1.3" transform="rotate(15 120.6 398)"/>
<ellipse cx="212" cy="264.4" rx="8.5" ry="12.8" fill="url(#gL0)" stroke="#e2e2e2" stroke-opacity="0.85" stroke-width="1.3" transform="rotate(-30 212 264.4)"/>
<ellipse cx="185.7" cy="266.5" rx="6.8" ry="4.3" fill="url(#gL1)" stroke="#e2e2e2" stroke-opacity="0.85" stroke-width="1.3" transform="rotate(10 185.7 266.5)"/>
<ellipse cx="168.6" cy="244.4" rx="10" ry="2.8" fill="url(#gL0)" stroke="#e2e2e2" stroke-opacity="0.85" stroke-width="1.3" transform="rotate(0 168.6 244.4)"/>
<ellipse cx="243.4" cy="245" rx="7" ry="3.2" fill="url(#gL0)" stroke="#e2e2e2" stroke-opacity="0.85" stroke-width="1.3" transform="rotate(0 243.4 245)"/>
<ellipse cx="226.3" cy="290" rx="5.0" ry="5.7" fill="url(#gL1)" stroke="#e2e2e2" stroke-opacity="0.85" stroke-width="1.3" transform="rotate(0 226.3 290)"/>
<ellipse cx="170.8" cy="399.1" rx="4.3" ry="3.1" fill="url(#gL3)" stroke="#e2e2e2" stroke-opacity="0.85" stroke-width="1.3" transform="rotate(0 170.8 399.1)"/>
<ellipse cx="181.4" cy="398.2" rx="2.1" ry="2.1" fill="url(#gL1)" stroke="#e2e2e2" stroke-opacity="0.85" stroke-width="1.3" transform="rotate(0 181.4 398.2)"/>
<ellipse cx="192.1" cy="393" rx="2.1" ry="2.1" fill="url(#gL1)" stroke="#e2e2e2" stroke-opacity="0.85" stroke-width="1.3" transform="rotate(0 192.1 393)"/>
<ellipse cx="160.1" cy="410" rx="3.1" ry="2.6" fill="url(#gL0)" stroke="#e2e2e2" stroke-opacity="0.85" stroke-width="1.3" transform="rotate(0 160.1 410)"/>
<ellipse cx="151.5" cy="412.9" rx="2.1" ry="2.1" fill="url(#gL0)" stroke="#e2e2e2" stroke-opacity="0.85" stroke-width="1.3" transform="rotate(0 151.5 412.9)"/>
<ellipse cx="246" cy="360" rx="3" ry="5" fill="url(#gL3)" stroke="#e2e2e2" stroke-opacity="0.85" stroke-width="1.3" transform="rotate(0 246 360)"/>
<ellipse cx="85" cy="395" rx="5" ry="5" fill="#bdbdbd" opacity="0.8"/>
<ellipse cx="59.3" cy="320.6" rx="3.2" ry="3.2" fill="#bdbdbd" opacity="0.8"/>
<ellipse cx="150" cy="392" rx="9" ry="5" fill="#bdbdbd" opacity="0.8"/>
<ellipse cx="186" cy="412" rx="9" ry="5" fill="#bdbdbd" opacity="0.8"/>
<ellipse cx="222" cy="372" rx="12" ry="9" fill="#bdbdbd" opacity="0.8"/>
<ellipse cx="169" cy="386.6" rx="4.6" ry="3.6" fill="#161616"/>
<ellipse cx="185.7" cy="382.3" rx="7.1" ry="5.0" fill="#161616"/>
<ellipse cx="61.5" cy="290.7" rx="1.7" ry="4.0" fill="#161616"/>
<ellipse cx="76.9" cy="405.1" rx="0.9" ry="0.9" fill="#161616"/>
<ellipse cx="244.8" cy="278" rx="1.5" ry="2.6" fill="#161616"/>
<ellipse cx="234.9" cy="294.3" rx="1.5" ry="1.5" fill="#161616"/>
<ellipse cx="239.4" cy="292.9" rx="1.5" ry="1.5" fill="#161616"/>
<ellipse cx="227.7" cy="307.8" rx="1.5" ry="3.1" fill="#161616"/>
<ellipse cx="240.3" cy="310.7" rx="1.0" ry="1.7" fill="#161616"/>
<ellipse cx="231.3" cy="345.2" rx="1.9" ry="1.7" fill="#161616"/>
<ellipse cx="221.3" cy="333.1" rx="1.4" ry="2.0" fill="#161616"/>
<ellipse cx="213.5" cy="333.8" rx="1.4" ry="2.4" fill="#161616"/>
<ellipse cx="159.4" cy="416.5" rx="1.4" ry="1.2" fill="#161616"/>
<path d="M86.4,328.0 C86.5,325.5 86.9,323.3 87.5,319.0 C88.1,314.7 88.6,307.4 90.0,302.0 C91.4,296.6 92.9,290.8 95.7,286.5 C98.5,282.2 102.6,279.8 107.1,276.5 C111.6,273.2 118.4,269.7 122.7,266.5 C127.0,263.3 128.9,259.0 132.7,257.3 C136.5,255.6 141.9,255.8 145.5,256.5 C149.1,257.2 149.8,259.9 154.1,261.5 C158.4,263.1 166.4,263.8 171.2,265.8 C175.9,267.8 178.8,271.1 182.6,273.6 C186.4,276.1 190.9,278.2 194.0,280.8 C197.1,283.4 199.0,286.0 201.0,289.3 C203.0,292.6 204.8,296.9 206.0,300.7 C207.2,304.5 207.9,308.4 208.5,312.0 C209.1,315.6 209.4,319.0 209.3,322.0 C209.2,325.0 208.8,326.8 208.2,330.0 C207.5,333.2 206.8,337.4 205.4,341.4 C204.0,345.4 203.0,349.9 199.7,354.2 C196.4,358.5 190.6,363.2 185.4,367.0 C180.2,370.8 174.5,374.6 168.3,377.0 C162.1,379.4 155.1,380.6 148.4,381.3 C141.8,382.0 134.3,382.5 128.4,381.3 C122.5,380.1 117.8,377.4 112.8,374.1 C107.8,370.8 102.1,365.6 98.5,361.3 C94.9,357.0 93.3,353.0 91.4,348.5 C89.5,344.0 87.9,337.6 87.1,334.2 C86.3,330.8 86.3,330.5 86.4,328.0Z" fill="#272727" stroke="#dadada" stroke-width="4.2" stroke-dasharray="0 60 190 400"/>
<path d="M86.4,328.0 C86.5,325.5 86.9,323.3 87.5,319.0 C88.1,314.7 88.6,307.4 90.0,302.0 C91.4,296.6 92.9,290.8 95.7,286.5 C98.5,282.2 102.6,279.8 107.1,276.5 C111.6,273.2 118.4,269.7 122.7,266.5 C127.0,263.3 128.9,259.0 132.7,257.3 C136.5,255.6 141.9,255.8 145.5,256.5 C149.1,257.2 149.8,259.9 154.1,261.5 C158.4,263.1 166.4,263.8 171.2,265.8 C175.9,267.8 178.8,271.1 182.6,273.6 C186.4,276.1 190.9,278.2 194.0,280.8 C197.1,283.4 199.0,286.0 201.0,289.3 C203.0,292.6 204.8,296.9 206.0,300.7 C207.2,304.5 207.9,308.4 208.5,312.0 C209.1,315.6 209.4,319.0 209.3,322.0 C209.2,325.0 208.8,326.8 208.2,330.0 C207.5,333.2 206.8,337.4 205.4,341.4 C204.0,345.4 203.0,349.9 199.7,354.2 C196.4,358.5 190.6,363.2 185.4,367.0 C180.2,370.8 174.5,374.6 168.3,377.0 C162.1,379.4 155.1,380.6 148.4,381.3 C141.8,382.0 134.3,382.5 128.4,381.3 C122.5,380.1 117.8,377.4 112.8,374.1 C107.8,370.8 102.1,365.6 98.5,361.3 C94.9,357.0 93.3,353.0 91.4,348.5 C89.5,344.0 87.9,337.6 87.1,334.2 C86.3,330.8 86.3,330.5 86.4,328.0Z" fill="#272727"/>
<ellipse cx="160" cy="321" rx="31" ry="31" fill="#353535" opacity="0.8"/>
<ellipse cx="161" cy="322" rx="13" ry="12" fill="#3b3b3b" opacity="0.6"/>
<ellipse cx="144.4" cy="266.5" rx="5" ry="4.2" fill="#1c1c1c"/>
</g></g>
<rect x="28.6" y="243.6" width="33.8" height="18.2" fill="#fff"/>
<text x="44.60" y="258.90" font-size="12.2" text-anchor="middle" font-weight="bold" stroke="#111" stroke-width="0.45">A1</text>
<rect x="195.5" y="389.9" width="50.9" height="27.3" fill="#fff"/>
<text x="200.50" y="405.00" font-size="13.0" font-weight="bold" stroke="#111" stroke-width="0.4">10 µm</text>
<rect x="201.0" y="410.2" width="41.0" height="3.3" fill="#0a0a0a"/>
<g clip-path="url(#c2)"><g filter="url(#bl)">
<rect x="260" y="241" width="225" height="180" fill="#8b8b8b"/>
<g filter="url(#bl3)">
<ellipse cx="300" cy="330" rx="40" ry="30" fill="#969696"/>
<ellipse cx="420" cy="320" rx="40" ry="25" fill="#969696"/>
<ellipse cx="380" cy="262" rx="25" ry="14" fill="#989898"/>
<ellipse cx="330" cy="250" rx="20" ry="8" fill="#787878"/>
<ellipse cx="460" cy="300" rx="18" ry="20" fill="#969696"/>
<ellipse cx="300" cy="395" rx="20" ry="12" fill="#787878"/>
<ellipse cx="352" cy="405" rx="18" ry="12" fill="#969696"/>
<ellipse cx="440" cy="400" rx="20" ry="12" fill="#969696"/>
</g>
<ellipse cx="331.8" cy="361" rx="18.5" ry="16.5" fill="url(#gS2)" transform="rotate(20 331.8 361)"/>
<ellipse cx="384.1" cy="365.6" rx="17" ry="17" fill="url(#gS2)" transform="rotate(0 384.1 365.6)"/>
<ellipse cx="470.5" cy="361" rx="14.5" ry="21" fill="url(#gS2)" transform="rotate(0 470.5 361)"/>
<ellipse cx="429" cy="249" rx="19" ry="8" fill="url(#gS2)" transform="rotate(0 429 249)"/>
<ellipse cx="307.9" cy="255.9" rx="9.5" ry="10" fill="url(#gK)" stroke="#ababab" stroke-opacity="0.8" stroke-width="1.0" transform="rotate(0 307.9 255.9)"/>
<ellipse cx="265.8" cy="282.6" rx="3.7" ry="4.2" fill="url(#gK)" stroke="#ababab" stroke-opacity="0.8" stroke-width="1.0" transform="rotate(0 265.8 282.6)"/>
<ellipse cx="331.8" cy="285.7" rx="10.3" ry="10.8" fill="url(#gK)" stroke="#ababab" stroke-opacity="0.8" stroke-width="1.0" transform="rotate(0 331.8 285.7)"/>
<ellipse cx="399.4" cy="300.5" rx="13.2" ry="12.3" fill="url(#gK)" stroke="#ababab" stroke-opacity="0.8" stroke-width="1.0" transform="rotate(-10 399.4 300.5)"/>
<ellipse cx="469.2" cy="275" rx="6.6" ry="5.6" fill="url(#gK)" stroke="#ababab" stroke-opacity="0.8" stroke-width="1.0" transform="rotate(0 469.2 275)"/>
<ellipse cx="476.3" cy="253.4" rx="6.2" ry="8.6" fill="url(#gK)" stroke="#ababab" stroke-opacity="0.8" stroke-width="1.0" transform="rotate(10 476.3 253.4)"/>
<ellipse cx="440.3" cy="314" rx="10.2" ry="8.6" fill="url(#gK)" stroke="#ababab" stroke-opacity="0.8" stroke-width="1.0" transform="rotate(-10 440.3 314)"/>
<ellipse cx="287.3" cy="327.2" rx="10.8" ry="8.6" fill="url(#gK)" stroke="#ababab" stroke-opacity="0.8" stroke-width="1.0" transform="rotate(0 287.3 327.2)"/>
<ellipse cx="272.5" cy="303.2" rx="1.5" ry="1.5" fill="url(#gK)" stroke="#ababab" stroke-opacity="0.8" stroke-width="1.0" transform="rotate(0 272.5 303.2)"/>
<ellipse cx="337.1" cy="317.1" rx="3.4" ry="3.4" fill="url(#gK)" stroke="#ababab" stroke-opacity="0.8" stroke-width="1.0" transform="rotate(0 337.1 317.1)"/>
<ellipse cx="345.7" cy="300.2" rx="1.8" ry="1.9" fill="url(#gK)" stroke="#ababab" stroke-opacity="0.8" stroke-width="1.0" transform="rotate(0 345.7 300.2)"/>
<ellipse cx="350.3" cy="300.2" rx="1.8" ry="1.9" fill="url(#gK)" stroke="#ababab" stroke-opacity="0.8" stroke-width="1.0" transform="rotate(0 350.3 300.2)"/>
<ellipse cx="356.4" cy="307.2" rx="2.2" ry="2.2" fill="url(#gK)" stroke="#ababab" stroke-opacity="0.8" stroke-width="1.0" transform="rotate(0 356.4 307.2)"/>
<ellipse cx="411.1" cy="325" rx="2.2" ry="2.4" fill="url(#gK)" stroke="#ababab" stroke-opacity="0.8" stroke-width="1.0" transform="rotate(0 411.1 325)"/>
<ellipse cx="421" cy="343.2" rx="4.8" ry="4.4" fill="url(#gK)" stroke="#ababab" stroke-opacity="0.8" stroke-width="1.0" transform="rotate(0 421 343.2)"/>
<ellipse cx="436.9" cy="353.3" rx="4.6" ry="4.6" fill="url(#gK)" stroke="#ababab" stroke-opacity="0.8" stroke-width="1.0" transform="rotate(0 436.9 353.3)"/>
<ellipse cx="412.7" cy="360.1" rx="4.0" ry="3.8" fill="url(#gK)" stroke="#ababab" stroke-opacity="0.8" stroke-width="1.0" transform="rotate(0 412.7 360.1)"/>
<ellipse cx="265.8" cy="367.8" rx="2.8" ry="2.8" fill="url(#gK)" stroke="#ababab" stroke-opacity="0.8" stroke-width="1.0" transform="rotate(0 265.8 367.8)"/>
<ellipse cx="279.6" cy="370.2" rx="3.0" ry="3.0" fill="url(#gK)" stroke="#ababab" stroke-opacity="0.8" stroke-width="1.0" transform="rotate(0 279.6 370.2)"/>
<ellipse cx="297.1" cy="367.1" rx="3.0" ry="3.0" fill="url(#gK)" stroke="#ababab" stroke-opacity="0.8" stroke-width="1.0" transform="rotate(0 297.1 367.1)"/>
<ellipse cx="290.3" cy="386.2" rx="2.7" ry="2.7" fill="url(#gK)" stroke="#ababab" stroke-opacity="0.8" stroke-width="1.0" transform="rotate(0 290.3 386.2)"/>
<ellipse cx="298.9" cy="383.1" rx="3.7" ry="3.5" fill="url(#gK)" stroke="#ababab" stroke-opacity="0.8" stroke-width="1.0" transform="rotate(0 298.9 383.1)"/>
<ellipse cx="314.9" cy="384" rx="2.8" ry="2.8" fill="url(#gK)" stroke="#ababab" stroke-opacity="0.8" stroke-width="1.0" transform="rotate(0 314.9 384)"/>
<ellipse cx="308.8" cy="392.3" rx="3.7" ry="3.2" fill="url(#gK)" stroke="#ababab" stroke-opacity="0.8" stroke-width="1.0" transform="rotate(0 308.8 392.3)"/>
<ellipse cx="313.4" cy="401.9" rx="5.0" ry="3.7" fill="url(#gK)" stroke="#ababab" stroke-opacity="0.8" stroke-width="1.0" transform="rotate(0 313.4 401.9)"/>
<ellipse cx="275.9" cy="405.6" rx="7.0" ry="7.0" fill="url(#gK)" stroke="#ababab" stroke-opacity="0.8" stroke-width="1.0" transform="rotate(0 275.9 405.6)"/>
<ellipse cx="333.4" cy="394.8" rx="3.7" ry="3.9" fill="url(#gK)" stroke="#ababab" stroke-opacity="0.8" stroke-width="1.0" transform="rotate(0 333.4 394.8)"/>
<ellipse cx="346.6" cy="392.3" rx="2.0" ry="2.0" fill="url(#gK)" stroke="#ababab" stroke-opacity="0.8" stroke-width="1.0" transform="rotate(0 346.6 392.3)"/>
<ellipse cx="358.9" cy="388.7" rx="2.4" ry="2.4" fill="url(#gK)" stroke="#ababab" stroke-opacity="0.8" stroke-width="1.0" transform="rotate(0 358.9 388.7)"/>
<ellipse cx="364.1" cy="397.3" rx="5.2" ry="3.7" fill="url(#gK)" stroke="#ababab" stroke-opacity="0.8" stroke-width="1.0" transform="rotate(0 364.1 397.3)"/>
<ellipse cx="337.4" cy="411.7" rx="3.0" ry="3.2" fill="url(#gK)" stroke="#ababab" stroke-opacity="0.8" stroke-width="1.0" transform="rotate(0 337.4 411.7)"/>
<ellipse cx="391.8" cy="412.6" rx="10.2" ry="7.7" fill="url(#gK)" stroke="#ababab" stroke-opacity="0.8" stroke-width="1.0" transform="rotate(0 391.8 412.6)"/>
<ellipse cx="399.4" cy="385.6" rx="5.2" ry="4.3" fill="url(#gK)" stroke="#ababab" stroke-opacity="0.8" stroke-width="1.0" transform="rotate(0 399.4 385.6)"/>
<ellipse cx="415.4" cy="386.2" rx="3.0" ry="3.6" fill="url(#gK)" stroke="#ababab" stroke-opacity="0.8" stroke-width="1.0" transform="rotate(10 415.4 386.2)"/>
<ellipse cx="428.6" cy="381" rx="6.5" ry="7.5" fill="url(#gK)" stroke="#ababab" stroke-opacity="0.8" stroke-width="1.0" transform="rotate(-20 428.6 381)"/>
<ellipse cx="470.1" cy="385.6" rx="3.7" ry="3.7" fill="url(#gK)" stroke="#ababab" stroke-opacity="0.8" stroke-width="1.0" transform="rotate(0 470.1 385.6)"/>
<ellipse cx="368.7" cy="257.1" rx="2.0" ry="2.0" fill="url(#gK)" stroke="#ababab" stroke-opacity="0.8" stroke-width="1.0" transform="rotate(0 368.7 257.1)"/>
<ellipse cx="362.6" cy="263.3" rx="2.0" ry="2.2" fill="url(#gK)" stroke="#ababab" stroke-opacity="0.8" stroke-width="1.0" transform="rotate(0 362.6 263.3)"/>
<ellipse cx="371.8" cy="264.2" rx="1.6" ry="1.6" fill="url(#gK)" stroke="#ababab" stroke-opacity="0.8" stroke-width="1.0" transform="rotate(0 371.8 264.2)"/>
<ellipse cx="374.2" cy="259.6" rx="1.5" ry="1.5" fill="url(#gK)" stroke="#ababab" stroke-opacity="0.8" stroke-width="1.0" transform="rotate(0 374.2 259.6)"/>
<ellipse cx="423.4" cy="287.9" rx="4.6" ry="4.6" fill="url(#gK)" stroke="#ababab" stroke-opacity="0.8" stroke-width="1.0" transform="rotate(0 423.4 287.9)"/>
<ellipse cx="443.1" cy="290.3" rx="4.4" ry="4.4" fill="url(#gK)" stroke="#ababab" stroke-opacity="0.8" stroke-width="1.0" transform="rotate(0 443.1 290.3)"/>
<ellipse cx="263" cy="262" rx="2.5" ry="6" fill="url(#gK)" stroke="#ababab" stroke-opacity="0.8" stroke-width="1.0" transform="rotate(0 263 262)"/>
<ellipse cx="405" cy="244.5" rx="3" ry="2" fill="url(#gK)" stroke="#ababab" stroke-opacity="0.8" stroke-width="1.0" transform="rotate(0 405 244.5)"/>
<ellipse cx="416.1" cy="265" rx="10" ry="9" fill="url(#gS)" stroke="#b6b6b6" stroke-opacity="0.8" stroke-width="0.9"/>
<ellipse cx="279.6" cy="271.9" rx="4.4" ry="4.4" fill="url(#gS)" stroke="#b6b6b6" stroke-opacity="0.8" stroke-width="0.9"/>
<ellipse cx="302.6" cy="289.7" rx="10.2" ry="9.2" fill="url(#gS)" stroke="#b6b6b6" stroke-opacity="0.8" stroke-width="0.9"/>
<ellipse cx="364.7" cy="290.3" rx="8.2" ry="7.6" fill="url(#gS)" stroke="#b6b6b6" stroke-opacity="0.8" stroke-width="0.9"/>
<ellipse cx="344.1" cy="264.2" rx="3.7" ry="3.9" fill="url(#gS)" stroke="#b6b6b6" stroke-opacity="0.8" stroke-width="0.9"/>
<ellipse cx="397.9" cy="250.4" rx="3.7" ry="3.9" fill="url(#gS)" stroke="#b6b6b6" stroke-opacity="0.8" stroke-width="0.9"/>
<ellipse cx="394.8" cy="272.5" rx="5.2" ry="5.2" fill="url(#gS)" stroke="#b6b6b6" stroke-opacity="0.8" stroke-width="0.9"/>
<ellipse cx="439.4" cy="265.7" rx="3.7" ry="3.7" fill="url(#gS)" stroke="#b6b6b6" stroke-opacity="0.8" stroke-width="0.9"/>
<ellipse cx="454.8" cy="259.6" rx="6.8" ry="8.6" fill="url(#gS)" stroke="#b6b6b6" stroke-opacity="0.8" stroke-width="0.9"/>
<ellipse cx="457.8" cy="307.2" rx="3.0" ry="3.2" fill="url(#gS)" stroke="#b6b6b6" stroke-opacity="0.8" stroke-width="0.9"/>
<ellipse cx="298" cy="310.9" rx="4.6" ry="3.1" fill="url(#gS)" stroke="#b6b6b6" stroke-opacity="0.8" stroke-width="0.9"/>
<ellipse cx="320.5" cy="328.7" rx="5.6" ry="6.6" fill="url(#gS)" stroke="#b6b6b6" stroke-opacity="0.8" stroke-width="0.9"/>
<ellipse cx="331.8" cy="335.5" rx="4.0" ry="5.2" fill="url(#gS)" stroke="#b6b6b6" stroke-opacity="0.8" stroke-width="0.9"/>
<ellipse cx="359.5" cy="330.3" rx="7.7" ry="7.7" fill="url(#gS)" stroke="#b6b6b6" stroke-opacity="0.8" stroke-width="0.9"/>
<ellipse cx="388.7" cy="330.9" rx="5.2" ry="4.0" fill="url(#gS)" stroke="#b6b6b6" stroke-opacity="0.8" stroke-width="0.9"/>
<ellipse cx="448.6" cy="334.9" rx="4.0" ry="4.0" fill="url(#gS)" stroke="#b6b6b6" stroke-opacity="0.8" stroke-width="0.9"/>
<ellipse cx="268.8" cy="352.4" rx="9.2" ry="6.8" fill="url(#gS)" stroke="#b6b6b6" stroke-opacity="0.8" stroke-width="0.9"/>
<ellipse cx="301.1" cy="348.7" rx="5.6" ry="3.7" fill="url(#gS)" stroke="#b6b6b6" stroke-opacity="0.8" stroke-width="0.9"/>
<ellipse cx="444.9" cy="373.9" rx="4.6" ry="4.6" fill="url(#gS)" stroke="#b6b6b6" stroke-opacity="0.8" stroke-width="0.9"/>
<ellipse cx="293.4" cy="405.6" rx="3.1" ry="3.1" fill="url(#gS)" stroke="#b6b6b6" stroke-opacity="0.8" stroke-width="0.9"/>
<ellipse cx="449" cy="326" rx="3.6" ry="3.0" fill="url(#gS)" stroke="#b6b6b6" stroke-opacity="0.8" stroke-width="0.9"/>
<ellipse cx="436" cy="392" rx="4.5" ry="4.5" fill="url(#gS)" stroke="#b6b6b6" stroke-opacity="0.8" stroke-width="0.9"/>
<ellipse cx="476" cy="330" rx="5" ry="6" fill="url(#gS)" stroke="#b6b6b6" stroke-opacity="0.8" stroke-width="0.9"/>
</g></g>
<rect x="262.8" y="243.6" width="33.8" height="18.2" fill="#fff"/>
<text x="278.80" y="258.90" font-size="12.2" text-anchor="middle" font-weight="bold" stroke="#111" stroke-width="0.45">A2</text>
<rect x="430.2" y="389.8" width="50.9" height="27.3" fill="#fff"/>
<text x="435.20" y="404.90" font-size="13.0" font-weight="bold" stroke="#111" stroke-width="0.4">10 µm</text>
<rect x="435.7" y="410.1" width="41.0" height="3.3" fill="#0a0a0a"/>
<g clip-path="url(#c3)"><g filter="url(#bl2)">
<rect x="26" y="424" width="223" height="178" fill="#979797"/>
<g fill="#1f1f1f" stroke="#bdbdbd" stroke-opacity="0.5" stroke-width="0.7">
<ellipse cx="150.8" cy="588.5" rx="4.5" ry="4.2"/>
<ellipse cx="139.2" cy="528.6" rx="4.1" ry="4.7"/>
<ellipse cx="47.0" cy="478.0" rx="4.6" ry="4.7"/>
<ellipse cx="206.6" cy="547.4" rx="3.8" ry="4.4"/>
<ellipse cx="163.3" cy="452.0" rx="4.0" ry="3.9"/>
<ellipse cx="143.8" cy="434.6" rx="3.0" ry="3.3"/>
<ellipse cx="80.0" cy="429.4" rx="2.9" ry="3.3"/>
<ellipse cx="124.2" cy="574.0" rx="4.3" ry="4.5"/>
<ellipse cx="168.8" cy="513.0" rx="4.2" ry="4.7"/>
<ellipse cx="128.0" cy="473.5" rx="4.6" ry="4.4"/>
<ellipse cx="96.3" cy="464.9" rx="4.1" ry="4.5"/>
<ellipse cx="41.7" cy="560.4" rx="4.5" ry="4.0"/>
<ellipse cx="214.8" cy="492.8" rx="4.0" ry="4.6"/>
<ellipse cx="215.0" cy="424.1" rx="3.2" ry="3.6"/>
<ellipse cx="229.0" cy="507.7" rx="4.1" ry="4.2"/>
<ellipse cx="114.6" cy="437.0" rx="4.1" ry="3.5"/>
<ellipse cx="199.6" cy="472.0" rx="4.8" ry="4.1"/>
<ellipse cx="100.2" cy="595.6" rx="3.8" ry="4.3"/>
<ellipse cx="150.7" cy="503.6" rx="4.2" ry="4.1"/>
<ellipse cx="189.2" cy="447.3" rx="3.6" ry="3.4"/>
<ellipse cx="52.0" cy="498.9" rx="4.5" ry="4.5"/>
<ellipse cx="86.2" cy="596.8" rx="4.1" ry="4.2"/>
<ellipse cx="93.8" cy="581.5" rx="5.0" ry="4.3"/>
<ellipse cx="48.4" cy="600.1" rx="4.2" ry="4.9"/>
<ellipse cx="83.6" cy="561.5" rx="4.3" ry="4.1"/>
<ellipse cx="92.1" cy="437.1" rx="3.1" ry="3.7"/>
<ellipse cx="155.9" cy="467.3" rx="4.2" ry="3.6"/>
<ellipse cx="108.9" cy="504.7" rx="4.8" ry="4.2"/>
<ellipse cx="66.8" cy="451.4" rx="4.3" ry="3.9"/>
<ellipse cx="190.9" cy="591.4" rx="4.1" ry="4.2"/>
<ellipse cx="240.7" cy="466.4" rx="3.7" ry="4.0"/>
<ellipse cx="41.3" cy="464.7" rx="4.3" ry="4.3"/>
<ellipse cx="216.1" cy="533.3" rx="4.5" ry="4.4"/>
<ellipse cx="230.6" cy="460.3" rx="3.8" ry="3.9"/>
<ellipse cx="86.0" cy="503.3" rx="3.9" ry="4.1"/>
<ellipse cx="65.3" cy="489.6" rx="4.3" ry="3.9"/>
<ellipse cx="244.7" cy="540.9" rx="4.5" ry="5.0"/>
<ellipse cx="30.0" cy="586.0" rx="3.9" ry="4.2"/>
<ellipse cx="240.7" cy="427.8" rx="3.3" ry="3.5"/>
<ellipse cx="133.5" cy="554.0" rx="4.5" ry="4.6"/>
<ellipse cx="248.9" cy="437.4" rx="3.3" ry="3.4"/>
<ellipse cx="182.9" cy="565.2" rx="4.7" ry="4.5"/>
<ellipse cx="104.5" cy="546.0" rx="4.7" ry="4.8"/>
<ellipse cx="111.3" cy="527.7" rx="4.8" ry="4.2"/>
<ellipse cx="43.9" cy="537.8" rx="4.6" ry="4.4"/>
<ellipse cx="222.2" cy="553.6" rx="4.6" ry="5.0"/>
<ellipse cx="189.9" cy="527.4" rx="4.7" ry="4.0"/>
<ellipse cx="213.0" cy="438.9" rx="3.5" ry="3.4"/>
<ellipse cx="32.6" cy="531.0" rx="4.9" ry="4.3"/>
<ellipse cx="77.3" cy="548.3" rx="4.2" ry="4.6"/>
<ellipse cx="163.0" cy="587.8" rx="4.3" ry="4.5"/>
<ellipse cx="28.5" cy="477.6" rx="4.2" ry="4.2"/>
<ellipse cx="96.6" cy="448.2" rx="3.9" ry="3.7"/>
<ellipse cx="126.9" cy="437.3" rx="3.7" ry="3.9"/>
<ellipse cx="220.6" cy="431.4" rx="3.3" ry="2.9"/>
<ellipse cx="153.2" cy="479.0" rx="4.3" ry="4.8"/>
<ellipse cx="30.3" cy="448.2" rx="4.0" ry="3.9"/>
<ellipse cx="31.5" cy="571.7" rx="4.5" ry="4.2"/>
<ellipse cx="125.6" cy="536.1" rx="4.8" ry="4.2"/>
<ellipse cx="70.5" cy="508.6" rx="4.8" ry="4.3"/>
<ellipse cx="28.4" cy="508.1" rx="4.1" ry="4.2"/>
<ellipse cx="65.9" cy="472.5" rx="4.7" ry="4.3"/>
<ellipse cx="181.5" cy="516.6" rx="4.4" ry="4.2"/>
<ellipse cx="194.6" cy="494.0" rx="4.3" ry="4.7"/>
<ellipse cx="228.1" cy="439.5" rx="3.4" ry="4.0"/>
<ellipse cx="169.1" cy="551.7" rx="4.9" ry="4.4"/>
<ellipse cx="145.7" cy="564.8" rx="4.7" ry="4.8"/>
<ellipse cx="197.3" cy="510.8" rx="4.5" ry="4.4"/>
<ellipse cx="95.5" cy="491.9" rx="4.3" ry="4.6"/>
<ellipse cx="242.0" cy="517.3" rx="5.0" ry="4.3"/>
<ellipse cx="161.0" cy="428.9" rx="3.5" ry="3.1"/>
<ellipse cx="141.1" cy="495.3" rx="4.5" ry="5.1"/>
<ellipse cx="40.7" cy="519.9" rx="4.6" ry="4.5"/>
<ellipse cx="131.5" cy="446.6" rx="3.3" ry="3.8"/>
<ellipse cx="179.2" cy="481.3" rx="4.1" ry="4.3"/>
<ellipse cx="53.4" cy="514.9" rx="4.5" ry="4.7"/>
<ellipse cx="96.4" cy="480.1" rx="5.0" ry="4.5"/>
<ellipse cx="74.6" cy="601.7" rx="5.1" ry="4.4"/>
<ellipse cx="55.9" cy="466.6" rx="4.3" ry="4.7"/>
<ellipse cx="241.9" cy="444.5" rx="3.7" ry="4.2"/>
<ellipse cx="68.1" cy="436.6" rx="3.4" ry="3.7"/>
<ellipse cx="152.8" cy="450.1" rx="3.8" ry="3.9"/>
<ellipse cx="71.5" cy="573.6" rx="3.8" ry="4.5"/>
<ellipse cx="183.1" cy="577.2" rx="4.6" ry="4.7"/>
<ellipse cx="245.1" cy="567.3" rx="4.3" ry="4.5"/>
<ellipse cx="153.0" cy="518.9" rx="4.5" ry="4.5"/>
<ellipse cx="228.0" cy="521.9" rx="4.3" ry="4.1"/>
<ellipse cx="168.3" cy="568.1" rx="4.7" ry="4.9"/>
<ellipse cx="159.3" cy="559.1" rx="4.0" ry="4.1"/>
<ellipse cx="89.7" cy="540.6" rx="4.0" ry="4.6"/>
<ellipse cx="60.9" cy="558.3" rx="4.1" ry="4.0"/>
<ellipse cx="235.0" cy="552.6" rx="4.2" ry="4.7"/>
<ellipse cx="119.6" cy="562.5" rx="4.3" ry="4.7"/>
<ellipse cx="248.5" cy="593.6" rx="4.4" ry="4.4"/>
<ellipse cx="79.2" cy="444.3" rx="3.9" ry="3.7"/>
<ellipse cx="200.9" cy="535.2" rx="4.7" ry="4.7"/>
<ellipse cx="157.9" cy="536.7" rx="4.5" ry="4.4"/>
<ellipse cx="132.7" cy="461.5" rx="4.0" ry="3.9"/>
<ellipse cx="52.7" cy="568.0" rx="3.9" ry="4.3"/>
<ellipse cx="171.8" cy="600.1" rx="4.1" ry="4.5"/>
<ellipse cx="121.4" cy="489.7" rx="4.9" ry="4.6"/>
<ellipse cx="93.7" cy="553.0" rx="4.1" ry="4.0"/>
<ellipse cx="115.1" cy="590.4" rx="4.2" ry="4.3"/>
<ellipse cx="81.4" cy="488.4" rx="4.9" ry="4.6"/>
<ellipse cx="69.5" cy="524.4" rx="4.1" ry="4.6"/>
<ellipse cx="145.8" cy="552.3" rx="4.3" ry="4.5"/>
<ellipse cx="109.7" cy="453.8" rx="3.9" ry="4.6"/>
<ellipse cx="39.9" cy="505.7" rx="4.1" ry="4.2"/>
<ellipse cx="141.0" cy="472.9" rx="4.5" ry="4.2"/>
<ellipse cx="172.6" cy="466.3" rx="4.6" ry="4.6"/>
<ellipse cx="179.2" cy="442.8" rx="3.7" ry="3.4"/>
<ellipse cx="129.0" cy="596.1" rx="4.0" ry="4.7"/>
<ellipse cx="171.8" cy="426.2" rx="3.5" ry="3.4"/>
<ellipse cx="184.3" cy="466.3" rx="4.1" ry="4.1"/>
<ellipse cx="128.2" cy="425.9" rx="3.2" ry="3.3"/>
<ellipse cx="204.3" cy="460.8" rx="4.5" ry="4.3"/>
<ellipse cx="158.2" cy="440.0" rx="3.6" ry="3.9"/>
<ellipse cx="42.2" cy="587.9" rx="4.4" ry="4.3"/>
<ellipse cx="117.9" cy="426.7" rx="2.6" ry="2.4"/>
<ellipse cx="182.1" cy="598.8" rx="3.2" ry="3.7"/>
<ellipse cx="173.2" cy="532.3" rx="3.5" ry="4.0"/>
<ellipse cx="70.0" cy="592.2" rx="3.6" ry="3.9"/>
<ellipse cx="154.6" cy="548.1" rx="3.3" ry="3.3"/>
<ellipse cx="233.2" cy="488.3" rx="3.6" ry="3.2"/>
<ellipse cx="29.6" cy="459.5" rx="3.5" ry="3.4"/>
<ellipse cx="34.4" cy="543.4" rx="3.8" ry="3.4"/>
<ellipse cx="239.9" cy="530.8" rx="3.1" ry="3.3"/>
<ellipse cx="195.0" cy="557.8" rx="3.8" ry="3.5"/>
<ellipse cx="94.0" cy="529.6" rx="4.0" ry="3.4"/>
<ellipse cx="114.2" cy="466.0" rx="3.3" ry="3.0"/>
<ellipse cx="226.4" cy="478.8" rx="3.0" ry="3.3"/>
<ellipse cx="222.2" cy="601.2" rx="3.2" ry="3.3"/>
<ellipse cx="75.8" cy="478.7" rx="3.0" ry="3.3"/>
<ellipse cx="173.6" cy="581.4" rx="3.6" ry="3.2"/>
<ellipse cx="169.8" cy="488.0" rx="3.7" ry="3.4"/>
<ellipse cx="238.2" cy="455.0" rx="3.0" ry="3.3"/>
<ellipse cx="62.8" cy="532.2" rx="3.8" ry="3.7"/>
<ellipse cx="122.9" cy="502.6" rx="3.6" ry="3.4"/>
<ellipse cx="204.1" cy="436.9" rx="2.7" ry="2.5"/>
<ellipse cx="82.8" cy="452.4" rx="3.0" ry="2.7"/>
<ellipse cx="211.3" cy="564.0" rx="3.8" ry="3.5"/>
<ellipse cx="79.7" cy="582.4" rx="3.3" ry="3.0"/>
<ellipse cx="113.6" cy="477.1" rx="3.2" ry="3.2"/>
<ellipse cx="82.5" cy="522.2" rx="3.4" ry="3.2"/>
<ellipse cx="34.8" cy="495.7" rx="3.7" ry="3.5"/>
<ellipse cx="39.0" cy="485.1" rx="3.4" ry="3.8"/>
<ellipse cx="120.6" cy="520.8" rx="3.2" ry="3.5"/>
<ellipse cx="174.6" cy="450.2" rx="3.3" ry="3.0"/>
<ellipse cx="112.2" cy="578.1" rx="3.3" ry="3.5"/>
<ellipse cx="167.1" cy="440.0" rx="2.6" ry="2.7"/>
<ellipse cx="99.2" cy="512.5" rx="3.3" ry="3.5"/>
<ellipse cx="63.2" cy="542.4" rx="3.7" ry="3.3"/>
<ellipse cx="136.1" cy="539.7" rx="3.2" ry="3.4"/>
<ellipse cx="165.2" cy="523.8" rx="3.3" ry="3.8"/>
<ellipse cx="242.0" cy="483.4" rx="3.8" ry="3.7"/>
<ellipse cx="181.1" cy="546.2" rx="3.8" ry="3.6"/>
<ellipse cx="209.8" cy="452.4" rx="3.5" ry="3.3"/>
<ellipse cx="78.9" cy="468.4" rx="3.5" ry="3.3"/>
<ellipse cx="113.5" cy="551.4" rx="3.5" ry="4.0"/>
<ellipse cx="99.6" cy="428.7" rx="2.2" ry="2.5"/>
<ellipse cx="244.8" cy="493.3" rx="3.7" ry="3.7"/>
<ellipse cx="164.9" cy="473.3" rx="3.9" ry="3.3"/>
<ellipse cx="105.0" cy="473.7" rx="3.8" ry="3.4"/>
<ellipse cx="49.6" cy="449.4" rx="2.8" ry="2.8"/>
<ellipse cx="75.0" cy="496.7" rx="3.7" ry="4.1"/>
<ellipse cx="73.3" cy="533.7" rx="3.8" ry="3.5"/>
<ellipse cx="179.8" cy="504.7" rx="3.9" ry="3.7"/>
<ellipse cx="190.6" cy="479.7" rx="3.6" ry="4.2"/>
<ellipse cx="140.1" cy="600.9" rx="3.5" ry="4.0"/>
<ellipse cx="206.0" cy="504.8" rx="3.4" ry="3.2"/>
<ellipse cx="219.0" cy="458.9" rx="3.4" ry="3.0"/>
<ellipse cx="54.6" cy="547.5" rx="3.4" ry="3.1"/>
<ellipse cx="138.9" cy="591.6" rx="3.4" ry="3.6"/>
<ellipse cx="216.5" cy="544.4" rx="3.1" ry="3.5"/>
<ellipse cx="55.5" cy="583.4" rx="3.2" ry="3.6"/>
<ellipse cx="107.1" cy="490.7" rx="3.1" ry="3.2"/>
<ellipse cx="191.4" cy="438.9" rx="2.9" ry="2.6"/>
<ellipse cx="199.0" cy="445.3" rx="3.0" ry="3.2"/>
<ellipse cx="53.8" cy="525.1" rx="3.6" ry="3.4"/>
<ellipse cx="162.5" cy="577.8" rx="3.2" ry="3.7"/>
<ellipse cx="196.3" cy="432.5" rx="2.3" ry="2.6"/>
<ellipse cx="86.8" cy="474.7" rx="3.5" ry="3.5"/>
<ellipse cx="139.6" cy="579.5" rx="3.3" ry="3.4"/>
<ellipse cx="106.9" cy="564.1" rx="3.7" ry="4.0"/>
<ellipse cx="174.6" cy="436.1" rx="2.5" ry="2.4"/>
<ellipse cx="153.3" cy="598.9" rx="3.0" ry="3.3"/>
<ellipse cx="194.9" cy="567.8" rx="3.4" ry="3.7"/>
<ellipse cx="200.8" cy="483.3" rx="3.4" ry="3.6"/>
<ellipse cx="229.9" cy="449.5" rx="2.8" ry="2.6"/>
<ellipse cx="66.7" cy="426.7" rx="2.5" ry="2.6"/>
<ellipse cx="136.9" cy="509.8" rx="3.0" ry="3.4"/>
<ellipse cx="138.2" cy="485.0" rx="4.1" ry="3.5"/>
<ellipse cx="233.9" cy="538.7" rx="3.9" ry="3.8"/>
<ellipse cx="39.1" cy="578.5" rx="3.6" ry="3.8"/>
<ellipse cx="134.8" cy="430.3" rx="2.6" ry="2.7"/>
<ellipse cx="143.7" cy="457.7" rx="3.2" ry="3.8"/>
<ellipse cx="219.0" cy="514.6" rx="3.3" ry="3.2"/>
<ellipse cx="247.6" cy="459.0" rx="2.9" ry="3.4"/>
<ellipse cx="119.7" cy="449.8" rx="3.4" ry="3.1"/>
<ellipse cx="96.0" cy="502.7" rx="3.6" ry="3.4"/>
<ellipse cx="59.5" cy="595.6" rx="3.5" ry="3.7"/>
<ellipse cx="181.4" cy="455.4" rx="2.9" ry="2.7"/>
<ellipse cx="113.0" cy="513.7" rx="3.3" ry="3.5"/>
<ellipse cx="83.8" cy="571.4" rx="3.3" ry="3.4"/>
<ellipse cx="209.7" cy="468.9" rx="3.4" ry="3.2"/>
<ellipse cx="32.2" cy="599.0" rx="3.0" ry="3.3"/>
<ellipse cx="157.0" cy="493.8" rx="3.8" ry="3.8"/>
<ellipse cx="183.9" cy="490.2" rx="3.4" ry="3.4"/>
<ellipse cx="26.2" cy="424.2" rx="2.5" ry="2.3"/>
<ellipse cx="109.0" cy="444.1" rx="3.4" ry="2.9"/>
<ellipse cx="127.6" cy="514.0" rx="3.2" ry="3.4"/>
<ellipse cx="226.8" cy="564.7" rx="3.6" ry="3.4"/>
<ellipse cx="112.1" cy="538.4" rx="3.5" ry="4.0"/>
<ellipse cx="188.6" cy="429.4" rx="2.5" ry="2.5"/>
<ellipse cx="247.2" cy="526.9" rx="3.2" ry="3.3"/>
<ellipse cx="131.2" cy="565.3" rx="3.3" ry="3.5"/>
<ellipse cx="90.9" cy="427.0" rx="2.6" ry="2.6"/>
<ellipse cx="44.1" cy="550.3" rx="3.2" ry="3.4"/>
<ellipse cx="246.9" cy="503.6" rx="3.6" ry="4.0"/>
<ellipse cx="226.1" cy="494.6" rx="3.5" ry="3.4"/>
<ellipse cx="143.6" cy="424.2" rx="2.6" ry="2.7"/>
<ellipse cx="182.1" cy="431.0" rx="2.5" ry="2.2"/>
<ellipse cx="149.4" cy="440.0" rx="2.9" ry="2.5"/>
<ellipse cx="216.3" cy="505.4" rx="3.9" ry="3.5"/>
<ellipse cx="193.4" cy="601.2" rx="3.4" ry="3.7"/>
<ellipse cx="122.1" cy="545.7" rx="3.5" ry="3.7"/>
<ellipse cx="200.7" cy="522.1" rx="3.3" ry="3.6"/>
<ellipse cx="28.8" cy="554.6" rx="3.3" ry="3.5"/>
<ellipse cx="96.0" cy="571.6" rx="3.5" ry="3.8"/>
<ellipse cx="138.5" cy="440.8" rx="2.5" ry="2.7"/>
<ellipse cx="71.8" cy="559.7" rx="3.2" ry="3.7"/>
<ellipse cx="26.4" cy="434.8" rx="2.9" ry="2.5"/>
<ellipse cx="238.2" cy="499.4" rx="3.4" ry="3.2"/>
<ellipse cx="191.2" cy="546.9" rx="3.5" ry="3.8"/>
<ellipse cx="185.2" cy="537.2" rx="3.5" ry="3.2"/>
<ellipse cx="206.8" cy="428.2" rx="2.6" ry="2.6"/>
<ellipse cx="147.4" cy="540.4" rx="3.5" ry="3.4"/>
<ellipse cx="185.3" cy="555.1" rx="4.0" ry="3.8"/>
<ellipse cx="219.0" cy="472.4" rx="3.7" ry="3.3"/>
<ellipse cx="130.8" cy="499.4" rx="3.0" ry="3.4"/>
<ellipse cx="152.1" cy="577.7" rx="3.5" ry="3.2"/>
<ellipse cx="107.4" cy="428.9" rx="2.3" ry="2.4"/>
<ellipse cx="59.8" cy="574.4" rx="3.0" ry="3.5"/>
<ellipse cx="27.2" cy="519.6" rx="3.7" ry="3.7"/>
<ellipse cx="246.5" cy="552.9" rx="4.0" ry="3.7"/>
<ellipse cx="126.5" cy="454.9" rx="3.1" ry="3.2"/>
<ellipse cx="203.6" cy="601.9" rx="3.7" ry="3.5"/>
<ellipse cx="149.7" cy="429.9" rx="2.3" ry="2.6"/>
<ellipse cx="131.1" cy="583.5" rx="3.6" ry="3.3"/>
<ellipse cx="140.9" cy="449.5" rx="2.9" ry="2.8"/>
<ellipse cx="193.4" cy="457.2" rx="3.1" ry="3.6"/>
<ellipse cx="118.4" cy="601.0" rx="3.5" ry="3.9"/>
<ellipse cx="57.2" cy="455.7" rx="2.8" ry="3.2"/>
<ellipse cx="62.8" cy="581.5" rx="2.6" ry="2.3"/>
<ellipse cx="230.4" cy="432.4" rx="1.9" ry="1.9"/>
<ellipse cx="133.7" cy="520.1" rx="2.8" ry="2.6"/>
<ellipse cx="39.8" cy="452.0" rx="2.0" ry="2.3"/>
<ellipse cx="191.9" cy="503.4" rx="2.6" ry="2.9"/>
<ellipse cx="176.8" cy="590.2" rx="3.1" ry="2.8"/>
<ellipse cx="217.0" cy="480.2" rx="2.2" ry="2.6"/>
<ellipse cx="50.3" cy="557.6" rx="2.6" ry="2.9"/>
<ellipse cx="63.9" cy="517.5" rx="2.4" ry="2.3"/>
<ellipse cx="230.6" cy="530.4" rx="2.7" ry="2.7"/>
<ellipse cx="61.5" cy="500.5" rx="2.5" ry="2.5"/>
<ellipse cx="85.9" cy="511.9" rx="2.4" ry="2.3"/>
<ellipse cx="206.1" cy="557.0" rx="3.1" ry="2.8"/>
<ellipse cx="106.5" cy="482.2" rx="2.8" ry="3.0"/>
<ellipse cx="53.4" cy="535.6" rx="2.7" ry="2.6"/>
<ellipse cx="162.6" cy="504.1" rx="2.7" ry="3.0"/>
<ellipse cx="89.0" cy="518.2" rx="2.8" ry="2.5"/>
<ellipse cx="73.1" cy="457.4" rx="2.4" ry="2.1"/>
<ellipse cx="105.0" cy="437.9" rx="1.7" ry="2.0"/>
<ellipse cx="57.0" cy="485.8" rx="2.3" ry="2.5"/>
<ellipse cx="103.5" cy="583.7" rx="2.7" ry="3.0"/>
<ellipse cx="49.7" cy="460.6" rx="2.4" ry="2.3"/>
<ellipse cx="104.8" cy="462.5" rx="2.3" ry="2.6"/>
<ellipse cx="200.6" cy="427.9" rx="1.9" ry="1.9"/>
<ellipse cx="90.5" cy="454.2" rx="2.4" ry="2.5"/>
<ellipse cx="215.4" cy="446.4" rx="2.2" ry="2.5"/>
<ellipse cx="230.0" cy="601.4" rx="1.8" ry="2.2"/>
<ellipse cx="245.8" cy="432.1" rx="1.3" ry="1.4"/>
<ellipse cx="211.6" cy="520.4" rx="1.8" ry="1.8"/>
<ellipse cx="48.3" cy="491.2" rx="1.6" ry="1.8"/>
<ellipse cx="158.2" cy="594.5" rx="1.7" ry="1.8"/>
<ellipse cx="65.9" cy="497.2" rx="1.6" ry="1.6"/>
<ellipse cx="214.1" cy="430.9" rx="1.2" ry="1.2"/>
<ellipse cx="30.1" cy="467.6" rx="1.5" ry="1.3"/>
<ellipse cx="61.5" cy="461.9" rx="1.5" ry="1.3"/>
<ellipse cx="205.0" cy="569.3" rx="1.6" ry="1.5"/>
<ellipse cx="101.0" cy="453.7" rx="1.7" ry="1.5"/>
<ellipse cx="240.1" cy="600.7" rx="1.6" ry="1.8"/>
<ellipse cx="103.7" cy="447.9" rx="1.8" ry="1.7"/>
<ellipse cx="240.7" cy="437.2" rx="1.3" ry="1.2"/>
<ellipse cx="244.9" cy="474.6" rx="1.5" ry="1.7"/>
<ellipse cx="147.5" cy="484.6" rx="1.7" ry="1.5"/>
<ellipse cx="225.9" cy="427.1" rx="1.5" ry="1.4"/>
<ellipse cx="216.2" cy="570.7" rx="1.9" ry="1.6"/>
<ellipse cx="180.1" cy="497.9" rx="1.4" ry="1.5"/>
<ellipse cx="46.6" cy="525.4" rx="1.8" ry="2.0"/>
<ellipse cx="157.0" cy="569.3" rx="2.1" ry="2.0"/>
<ellipse cx="39.2" cy="447.0" rx="1.2" ry="1.4"/>
<ellipse cx="145.9" cy="515.5" rx="1.4" ry="1.4"/>
<ellipse cx="175.9" cy="525.3" rx="1.4" ry="1.5"/>
<ellipse cx="78.4" cy="517.2" rx="1.6" ry="1.8"/>
<ellipse cx="99.3" cy="434.0" rx="1.0" ry="1.2"/>
<ellipse cx="159.0" cy="510.4" rx="1.7" ry="1.5"/>
<ellipse cx="232.3" cy="468.1" rx="1.6" ry="1.8"/>
<ellipse cx="120.0" cy="458.0" rx="1.3" ry="1.4"/>
<ellipse cx="237.3" cy="475.7" rx="1.7" ry="1.7"/>
<ellipse cx="110.0" cy="571.1" rx="1.4" ry="1.5"/>
<ellipse cx="133.6" cy="571.9" rx="1.6" ry="1.6"/>
<ellipse cx="220.5" cy="524.1" rx="1.6" ry="1.4"/>
<ellipse cx="102.9" cy="497.7" rx="2.0" ry="1.8"/>
<ellipse cx="205.3" cy="497.2" rx="1.4" ry="1.4"/>
<ellipse cx="53.3" cy="490.5" rx="1.4" ry="1.5"/>
<ellipse cx="153.7" cy="529.2" rx="1.4" ry="1.5"/>
<ellipse cx="107.0" cy="556.9" rx="1.6" ry="1.6"/>
<ellipse cx="84.3" cy="459.4" rx="1.3" ry="1.4"/>
<ellipse cx="105.8" cy="574.9" rx="2.1" ry="2.1"/>
<ellipse cx="176.8" cy="492.0" rx="1.7" ry="1.8"/>
<ellipse cx="210.7" cy="540.9" rx="2.2" ry="2.0"/>
<ellipse cx="74.4" cy="586.6" rx="1.9" ry="1.8"/>
<ellipse cx="171.6" cy="500.1" rx="1.6" ry="1.5"/>
<ellipse cx="30.4" cy="486.6" rx="1.8" ry="1.6"/>
<ellipse cx="196.1" cy="464.4" rx="1.8" ry="1.5"/>
<ellipse cx="144.1" cy="508.1" rx="1.7" ry="1.9"/>
<ellipse cx="39.1" cy="571.5" rx="1.6" ry="1.5"/>
<ellipse cx="85.4" cy="438.2" rx="1.6" ry="1.4"/>
<ellipse cx="87.8" cy="496.3" rx="1.5" ry="1.4"/>
<ellipse cx="162.2" cy="459.5" rx="1.7" ry="1.5"/>
<ellipse cx="120.6" cy="554.4" rx="1.5" ry="1.8"/>
<ellipse cx="222.0" cy="446.1" rx="1.5" ry="1.3"/>
<ellipse cx="140.1" cy="521.0" rx="1.5" ry="1.5"/>
<ellipse cx="185.3" cy="435.1" rx="1.1" ry="1.3"/>
<ellipse cx="106.0" cy="517.6" rx="1.7" ry="1.6"/>
<ellipse cx="35.9" cy="592.2" rx="1.5" ry="1.3"/>
<ellipse cx="187.9" cy="583.5" rx="1.9" ry="1.8"/>
<ellipse cx="211.4" cy="475.2" rx="1.7" ry="1.4"/>
<ellipse cx="173.3" cy="475.0" rx="2.1" ry="2.0"/>
<ellipse cx="69.5" cy="482.4" rx="1.7" ry="1.7"/>
<ellipse cx="28.3" cy="492.5" rx="2.2" ry="1.9"/>
<ellipse cx="85.0" cy="551.8" rx="2.1" ry="1.8"/>
<ellipse cx="170.4" cy="458.8" rx="1.9" ry="1.7"/>
<ellipse cx="77.9" cy="504.9" rx="2.0" ry="2.0"/>
<ellipse cx="50.1" cy="590.5" rx="2.0" ry="1.8"/>
<ellipse cx="38.6" cy="472.0" rx="1.6" ry="1.7"/>
<ellipse cx="50.5" cy="575.4" rx="1.9" ry="2.1"/>
<ellipse cx="81.8" cy="541.7" rx="1.5" ry="1.7"/>
<ellipse cx="202.7" cy="564.2" rx="1.6" ry="1.7"/>
<ellipse cx="194.2" cy="424.1" rx="1.4" ry="1.3"/>
<ellipse cx="34.4" cy="469.2" rx="1.7" ry="1.6"/>
<ellipse cx="97.4" cy="440.7" rx="1.5" ry="1.3"/>
<ellipse cx="213.3" cy="485.6" rx="1.4" ry="1.5"/>
<ellipse cx="224.0" cy="451.1" rx="1.6" ry="1.7"/>
<ellipse cx="84.3" cy="531.6" rx="2.1" ry="1.8"/>
<ellipse cx="92.3" cy="561.9" rx="1.8" ry="2.1"/>
<ellipse cx="98.2" cy="536.7" rx="1.6" ry="1.4"/>
</g></g></g>
<rect x="28.6" y="426.8" width="33.8" height="18.2" fill="#fff"/>
<text x="44.60" y="442.10" font-size="12.2" text-anchor="middle" font-weight="bold" stroke="#111" stroke-width="0.45">A3</text>
<rect x="194.8" y="572.7" width="50.9" height="27.3" fill="#fff"/>
<text x="199.80" y="587.80" font-size="13.0" font-weight="bold" stroke="#111" stroke-width="0.4">10 µm</text>
<rect x="200.3" y="593.0" width="41.0" height="3.3" fill="#0a0a0a"/>
<g clip-path="url(#c4)"><g filter="url(#bl2)">
<rect x="260" y="424" width="225" height="178" fill="#a2a2a2"/>
<g fill="#d8d8d8" opacity="0.55">
<circle cx="439.0" cy="438.6" r="1.2"/>
<circle cx="358.2" cy="531.3" r="1.2"/>
<circle cx="311.4" cy="457.5" r="0.9"/>
<circle cx="340.5" cy="464.5" r="1.2"/>
<circle cx="303.6" cy="519.2" r="1.2"/>
<circle cx="378.5" cy="531.0" r="1.7"/>
<circle cx="327.0" cy="482.9" r="1.4"/>
<circle cx="346.4" cy="430.0" r="0.9"/>
<circle cx="377.3" cy="550.6" r="1.6"/>
<circle cx="374.6" cy="503.9" r="1.2"/>
<circle cx="292.1" cy="521.7" r="1.7"/>
<circle cx="465.8" cy="551.7" r="1.6"/>
<circle cx="262.2" cy="552.7" r="1.0"/>
<circle cx="295.6" cy="473.1" r="0.9"/>
<circle cx="380.0" cy="516.8" r="1.4"/>
<circle cx="400.9" cy="472.3" r="1.5"/>
<circle cx="392.0" cy="506.7" r="1.4"/>
<circle cx="476.3" cy="441.8" r="1.0"/>
<circle cx="416.1" cy="518.9" r="1.5"/>
<circle cx="445.7" cy="503.4" r="1.2"/>
<circle cx="334.6" cy="492.9" r="1.5"/>
<circle cx="416.3" cy="506.9" r="1.4"/>
<circle cx="369.7" cy="549.1" r="1.0"/>
<circle cx="474.1" cy="434.3" r="1.0"/>
<circle cx="386.3" cy="555.3" r="1.3"/>
<circle cx="381.0" cy="500.8" r="1.2"/>
<circle cx="367.1" cy="564.5" r="1.1"/>
<circle cx="305.6" cy="576.1" r="1.4"/>
<circle cx="429.8" cy="470.1" r="1.4"/>
<circle cx="274.4" cy="587.9" r="1.0"/>
<circle cx="451.9" cy="545.9" r="1.5"/>
<circle cx="303.9" cy="564.5" r="1.1"/>
<circle cx="388.8" cy="562.6" r="1.1"/>
<circle cx="428.8" cy="576.9" r="1.5"/>
<circle cx="344.8" cy="577.0" r="1.0"/>
<circle cx="304.6" cy="501.6" r="1.5"/>
<circle cx="317.4" cy="476.5" r="1.6"/>
<circle cx="309.4" cy="467.5" r="1.3"/>
<circle cx="342.3" cy="565.0" r="1.3"/>
<circle cx="335.6" cy="461.5" r="1.4"/>
<circle cx="290.2" cy="472.4" r="1.2"/>
<circle cx="366.9" cy="479.4" r="1.4"/>
<circle cx="459.0" cy="538.7" r="1.1"/>
<circle cx="437.1" cy="433.2" r="1.3"/>
<circle cx="291.4" cy="587.8" r="1.1"/>
<circle cx="453.9" cy="536.2" r="1.0"/>
<circle cx="403.1" cy="428.1" r="1.4"/>
<circle cx="319.1" cy="540.2" r="1.0"/>
<circle cx="472.8" cy="536.9" r="1.4"/>
<circle cx="403.4" cy="594.1" r="1.1"/>
<circle cx="341.3" cy="479.6" r="1.2"/>
<circle cx="292.0" cy="529.5" r="1.6"/>
<circle cx="292.6" cy="460.4" r="1.1"/>
<circle cx="311.0" cy="516.3" r="1.1"/>
<circle cx="334.1" cy="550.3" r="1.1"/>
<circle cx="416.6" cy="466.8" r="1.4"/>
<circle cx="426.8" cy="501.9" r="1.5"/>
<circle cx="422.0" cy="539.3" r="1.2"/>
<circle cx="379.7" cy="481.2" r="1.0"/>
<circle cx="275.9" cy="561.0" r="1.2"/>
<circle cx="343.2" cy="486.5" r="0.9"/>
<circle cx="431.0" cy="576.4" r="1.6"/>
<circle cx="366.6" cy="452.0" r="1.0"/>
<circle cx="378.6" cy="500.2" r="1.1"/>
<circle cx="268.6" cy="518.0" r="1.2"/>
<circle cx="337.6" cy="568.6" r="1.2"/>
<circle cx="288.4" cy="572.6" r="1.6"/>
<circle cx="293.3" cy="556.5" r="1.2"/>
<circle cx="473.1" cy="494.2" r="1.2"/>
<circle cx="391.2" cy="514.8" r="0.9"/>
<circle cx="341.5" cy="599.4" r="1.5"/>
<circle cx="408.7" cy="480.5" r="1.3"/>
<circle cx="434.7" cy="455.0" r="1.4"/>
<circle cx="479.5" cy="478.7" r="1.5"/>
<circle cx="386.0" cy="574.6" r="1.2"/>
<circle cx="383.0" cy="548.0" r="1.4"/>
<circle cx="447.2" cy="467.3" r="1.0"/>
<circle cx="418.1" cy="434.1" r="1.2"/>
<circle cx="286.8" cy="514.7" r="1.2"/>
<circle cx="316.2" cy="571.4" r="1.0"/>
<circle cx="424.7" cy="556.8" r="1.2"/>
<circle cx="337.9" cy="504.5" r="1.5"/>
<circle cx="382.9" cy="510.2" r="1.1"/>
<circle cx="298.9" cy="533.6" r="1.3"/>
<circle cx="421.3" cy="459.1" r="1.4"/>
<circle cx="440.1" cy="543.8" r="1.4"/>
<circle cx="388.4" cy="587.7" r="1.2"/>
<circle cx="350.3" cy="547.0" r="1.6"/>
<circle cx="345.9" cy="447.6" r="1.5"/>
<circle cx="463.0" cy="441.3" r="1.2"/>
<circle cx="393.6" cy="541.4" r="1.4"/>
<circle cx="296.8" cy="517.6" r="1.7"/>
<circle cx="292.9" cy="493.2" r="1.7"/>
<circle cx="280.0" cy="577.8" r="1.2"/>
<circle cx="442.6" cy="477.3" r="1.2"/>
<circle cx="352.0" cy="490.2" r="1.4"/>
<circle cx="415.5" cy="428.3" r="1.4"/>
<circle cx="294.8" cy="521.7" r="1.0"/>
<circle cx="396.0" cy="437.1" r="1.7"/>
<circle cx="320.9" cy="503.5" r="1.0"/>
<circle cx="263.7" cy="450.7" r="1.0"/>
<circle cx="414.4" cy="463.6" r="0.9"/>
<circle cx="441.8" cy="505.3" r="1.4"/>
<circle cx="364.6" cy="547.6" r="1.6"/>
<circle cx="386.1" cy="519.4" r="1.4"/>
<circle cx="270.4" cy="578.9" r="1.3"/>
<circle cx="286.1" cy="589.6" r="0.9"/>
<circle cx="349.2" cy="451.4" r="1.4"/>
<circle cx="360.5" cy="531.7" r="1.7"/>
<circle cx="325.3" cy="478.2" r="1.0"/>
<circle cx="407.9" cy="461.4" r="0.9"/>
<circle cx="302.7" cy="464.0" r="1.0"/>
<circle cx="449.2" cy="475.8" r="0.9"/>
<circle cx="412.8" cy="503.1" r="1.1"/>
<circle cx="369.2" cy="444.6" r="1.0"/>
<circle cx="289.4" cy="558.6" r="1.5"/>
<circle cx="299.1" cy="587.5" r="1.0"/>
<circle cx="477.8" cy="433.4" r="1.5"/>
<circle cx="403.4" cy="506.0" r="1.2"/>
<circle cx="349.1" cy="506.5" r="1.0"/>
<circle cx="432.2" cy="491.3" r="1.2"/>
<circle cx="414.7" cy="568.6" r="1.0"/>
<circle cx="358.7" cy="586.6" r="1.4"/>
<circle cx="277.0" cy="523.3" r="1.0"/>
<circle cx="390.5" cy="426.9" r="1.7"/>
<circle cx="269.3" cy="481.8" r="1.4"/>
<circle cx="331.5" cy="436.4" r="0.9"/>
<circle cx="388.4" cy="504.7" r="1.1"/>
<circle cx="477.6" cy="582.3" r="1.5"/>
<circle cx="339.1" cy="432.2" r="1.6"/>
<circle cx="367.1" cy="514.2" r="1.5"/>
<circle cx="482.4" cy="468.5" r="1.1"/>
<circle cx="452.9" cy="431.3" r="1.5"/>
<circle cx="441.3" cy="556.6" r="1.3"/>
<circle cx="280.8" cy="507.1" r="1.4"/>
<circle cx="351.9" cy="470.8" r="1.6"/>
<circle cx="377.4" cy="541.7" r="1.7"/>
<circle cx="323.5" cy="428.9" r="1.6"/>
<circle cx="365.6" cy="430.3" r="1.2"/>
<circle cx="466.7" cy="589.5" r="1.4"/>
<circle cx="458.4" cy="431.8" r="1.1"/>
<circle cx="394.1" cy="445.7" r="1.2"/>
<circle cx="343.3" cy="571.8" r="1.5"/>
<circle cx="326.1" cy="456.5" r="1.4"/>
<circle cx="331.1" cy="432.4" r="0.9"/>
<circle cx="384.0" cy="542.2" r="1.2"/>
<circle cx="341.8" cy="596.4" r="1.4"/>
<circle cx="477.6" cy="589.0" r="1.2"/>
<circle cx="290.0" cy="499.5" r="1.1"/>
<circle cx="427.0" cy="546.4" r="1.1"/>
<circle cx="474.5" cy="519.2" r="1.6"/>
<circle cx="345.2" cy="441.1" r="1.4"/>
<circle cx="342.0" cy="465.1" r="1.2"/>
<circle cx="370.4" cy="541.6" r="1.7"/>
<circle cx="359.0" cy="439.4" r="0.9"/>
<circle cx="425.2" cy="569.5" r="1.1"/>
<circle cx="474.4" cy="490.4" r="1.7"/>
<circle cx="420.7" cy="442.6" r="1.5"/>
<circle cx="323.8" cy="579.0" r="1.3"/>
<circle cx="455.9" cy="593.2" r="1.0"/>
<circle cx="333.9" cy="450.3" r="1.4"/>
<circle cx="467.8" cy="435.2" r="1.1"/>
<circle cx="414.1" cy="445.1" r="1.3"/>
<circle cx="369.7" cy="580.3" r="1.0"/>
<circle cx="365.6" cy="556.7" r="1.7"/>
<circle cx="290.5" cy="536.3" r="1.5"/>
<circle cx="330.5" cy="483.7" r="1.3"/>
<circle cx="478.8" cy="516.0" r="1.3"/>
<circle cx="420.2" cy="468.0" r="1.1"/>
<circle cx="347.6" cy="512.5" r="1.3"/>
<circle cx="290.6" cy="547.7" r="1.3"/>
<circle cx="459.2" cy="460.9" r="1.2"/>
<circle cx="364.4" cy="477.2" r="1.4"/>
<circle cx="482.1" cy="461.0" r="1.5"/>
<circle cx="377.3" cy="534.0" r="1.2"/>
<circle cx="462.9" cy="534.9" r="1.1"/>
<circle cx="323.9" cy="582.7" r="1.4"/>
<circle cx="478.4" cy="520.8" r="1.2"/>
<circle cx="349.1" cy="436.1" r="1.2"/>
<circle cx="355.3" cy="481.9" r="1.6"/>
<circle cx="437.9" cy="487.2" r="0.9"/>
<circle cx="447.8" cy="523.8" r="1.6"/>
<circle cx="468.4" cy="560.4" r="1.3"/>
<circle cx="450.0" cy="429.3" r="1.6"/>
<circle cx="281.9" cy="573.8" r="1.6"/>
<circle cx="324.8" cy="502.4" r="1.3"/>
<circle cx="319.1" cy="518.3" r="0.9"/>
<circle cx="295.7" cy="547.4" r="1.6"/>
<circle cx="452.6" cy="438.9" r="1.4"/>
<circle cx="310.1" cy="512.0" r="1.3"/>
<circle cx="472.3" cy="504.7" r="1.3"/>
<circle cx="463.9" cy="509.8" r="1.1"/>
<circle cx="329.2" cy="559.9" r="1.2"/>
<circle cx="459.9" cy="520.7" r="1.2"/>
<circle cx="468.8" cy="587.7" r="1.7"/>
<circle cx="293.2" cy="442.4" r="1.0"/>
<circle cx="372.0" cy="531.1" r="1.6"/>
<circle cx="308.5" cy="587.4" r="0.9"/>
<circle cx="264.1" cy="548.1" r="1.2"/>
<circle cx="439.3" cy="586.8" r="1.1"/>
<circle cx="399.7" cy="521.9" r="1.0"/>
<circle cx="396.5" cy="563.8" r="0.9"/>
<circle cx="358.5" cy="431.4" r="1.1"/>
<circle cx="300.3" cy="497.2" r="1.4"/>
<circle cx="408.8" cy="550.8" r="1.6"/>
<circle cx="425.8" cy="536.0" r="0.9"/>
<circle cx="416.3" cy="496.1" r="1.0"/>
<circle cx="429.1" cy="440.0" r="1.5"/>
<circle cx="397.7" cy="532.9" r="1.6"/>
<circle cx="313.6" cy="444.0" r="1.7"/>
<circle cx="269.3" cy="598.3" r="1.2"/>
<circle cx="468.6" cy="520.8" r="1.1"/>
<circle cx="446.7" cy="540.6" r="1.1"/>
<circle cx="272.1" cy="525.2" r="1.0"/>
<circle cx="335.7" cy="571.1" r="1.0"/>
<circle cx="368.5" cy="590.6" r="1.3"/>
<circle cx="415.1" cy="568.5" r="1.6"/>
<circle cx="387.6" cy="489.8" r="1.6"/>
<circle cx="333.9" cy="454.7" r="1.5"/>
<circle cx="364.7" cy="445.6" r="1.4"/>
<circle cx="434.6" cy="589.1" r="1.6"/>
<circle cx="399.3" cy="482.3" r="1.3"/>
<circle cx="329.6" cy="516.1" r="1.1"/>
<circle cx="426.4" cy="497.2" r="1.2"/>
<circle cx="442.8" cy="438.6" r="1.1"/>
<circle cx="391.5" cy="520.9" r="1.0"/>
<circle cx="473.9" cy="533.9" r="1.7"/>
<circle cx="342.1" cy="583.8" r="1.1"/>
<circle cx="280.0" cy="582.2" r="1.6"/>
<circle cx="298.5" cy="485.2" r="1.3"/>
<circle cx="361.2" cy="595.5" r="1.4"/>
<circle cx="413.3" cy="560.9" r="1.4"/>
<circle cx="347.0" cy="574.3" r="0.9"/>
<circle cx="295.8" cy="540.1" r="1.5"/>
<circle cx="294.9" cy="581.6" r="0.9"/>
<circle cx="297.8" cy="500.7" r="1.6"/>
<circle cx="397.2" cy="593.5" r="1.3"/>
<circle cx="481.1" cy="595.1" r="0.9"/>
<circle cx="333.8" cy="514.3" r="1.6"/>
<circle cx="364.9" cy="457.4" r="1.3"/>
<circle cx="456.6" cy="470.9" r="1.5"/>
<circle cx="262.8" cy="592.4" r="1.1"/>
<circle cx="296.0" cy="451.9" r="1.7"/>
<circle cx="286.3" cy="493.1" r="1.5"/>
<circle cx="390.4" cy="582.3" r="1.0"/>
<circle cx="371.2" cy="505.8" r="1.2"/>
<circle cx="458.6" cy="571.7" r="1.3"/>
<circle cx="384.6" cy="450.2" r="1.4"/>
<circle cx="284.9" cy="535.7" r="1.6"/>
<circle cx="302.4" cy="470.8" r="1.1"/>
<circle cx="273.4" cy="476.5" r="1.4"/>
<circle cx="459.4" cy="540.9" r="1.0"/>
<circle cx="333.6" cy="471.5" r="1.3"/>
<circle cx="467.5" cy="477.2" r="1.6"/>
<circle cx="297.1" cy="534.3" r="1.6"/>
<circle cx="315.4" cy="492.2" r="1.6"/>
<circle cx="264.1" cy="434.0" r="1.0"/>
<circle cx="314.7" cy="593.9" r="1.1"/>
<circle cx="381.3" cy="582.7" r="1.6"/>
<circle cx="379.9" cy="518.8" r="1.1"/>
<circle cx="270.6" cy="517.5" r="1.2"/>
<circle cx="355.9" cy="539.3" r="1.0"/>
<circle cx="424.1" cy="585.5" r="1.2"/>
<circle cx="384.4" cy="449.2" r="1.5"/>
<circle cx="354.7" cy="431.3" r="1.0"/>
<circle cx="358.2" cy="446.1" r="1.7"/>
<circle cx="381.7" cy="535.2" r="1.5"/>
<circle cx="460.8" cy="498.2" r="1.1"/>
<circle cx="338.5" cy="577.0" r="1.5"/>
<circle cx="403.7" cy="479.7" r="1.3"/>
<circle cx="434.6" cy="495.3" r="1.5"/>
<circle cx="284.0" cy="530.9" r="1.5"/>
<circle cx="320.4" cy="584.9" r="1.1"/>
<circle cx="467.2" cy="529.2" r="1.2"/>
<circle cx="463.5" cy="436.2" r="1.0"/>
<circle cx="300.7" cy="555.2" r="1.6"/>
<circle cx="452.5" cy="524.8" r="1.6"/>
<circle cx="286.2" cy="571.1" r="1.5"/>
<circle cx="337.3" cy="573.3" r="1.5"/>
<circle cx="411.2" cy="533.3" r="1.5"/>
<circle cx="309.9" cy="597.7" r="1.0"/>
<circle cx="315.4" cy="599.6" r="1.5"/>
<circle cx="421.0" cy="570.0" r="1.3"/>
<circle cx="471.1" cy="570.3" r="1.2"/>
<circle cx="476.5" cy="457.9" r="1.3"/>
<circle cx="284.4" cy="427.7" r="1.3"/>
<circle cx="453.6" cy="487.5" r="1.2"/>
<circle cx="301.8" cy="430.2" r="1.4"/>
<circle cx="299.5" cy="443.7" r="1.0"/>
<circle cx="262.6" cy="477.2" r="0.9"/>
<circle cx="270.9" cy="565.6" r="0.9"/>
<circle cx="360.4" cy="514.6" r="1.6"/>
<circle cx="342.2" cy="502.9" r="0.9"/>
<circle cx="269.3" cy="455.0" r="1.1"/>
<circle cx="479.1" cy="566.0" r="1.5"/>
<circle cx="325.4" cy="590.0" r="1.7"/>
<circle cx="368.3" cy="470.8" r="1.5"/>
<circle cx="393.4" cy="553.5" r="1.3"/>
<circle cx="427.8" cy="527.2" r="1.7"/>
<circle cx="454.6" cy="531.1" r="1.2"/>
<circle cx="444.1" cy="476.3" r="1.0"/>
<circle cx="323.2" cy="505.4" r="1.0"/>
<circle cx="326.5" cy="545.7" r="1.3"/>
<circle cx="373.6" cy="472.2" r="1.7"/>
<circle cx="329.5" cy="458.2" r="1.4"/>
<circle cx="425.5" cy="446.3" r="1.3"/>
<circle cx="281.3" cy="566.7" r="1.3"/>
<circle cx="315.0" cy="525.8" r="1.1"/>
<circle cx="278.9" cy="478.0" r="1.5"/>
<circle cx="406.8" cy="543.0" r="1.4"/>
<circle cx="311.0" cy="453.6" r="1.7"/>
<circle cx="348.3" cy="519.2" r="1.3"/>
<circle cx="267.8" cy="503.3" r="1.5"/>
<circle cx="304.2" cy="524.0" r="1.5"/>
<circle cx="355.9" cy="521.6" r="1.1"/>
<circle cx="396.5" cy="552.7" r="1.2"/>
<circle cx="428.3" cy="543.1" r="1.4"/>
<circle cx="306.7" cy="514.2" r="1.4"/>
<circle cx="423.9" cy="596.4" r="1.6"/>
<circle cx="331.0" cy="487.6" r="1.6"/>
<circle cx="432.2" cy="449.3" r="0.9"/>
<circle cx="301.3" cy="560.1" r="1.2"/>
<circle cx="420.6" cy="482.3" r="1.5"/>
<circle cx="294.6" cy="435.5" r="1.6"/>
<circle cx="381.1" cy="551.4" r="1.2"/>
<circle cx="330.8" cy="430.8" r="1.2"/>
<circle cx="300.8" cy="591.4" r="0.9"/>
<circle cx="325.7" cy="474.2" r="1.5"/>
<circle cx="363.7" cy="542.5" r="1.0"/>
<circle cx="285.9" cy="522.2" r="1.4"/>
<circle cx="418.6" cy="563.5" r="1.3"/>
<circle cx="408.3" cy="468.6" r="1.5"/>
<circle cx="435.5" cy="553.5" r="1.0"/>
<circle cx="349.2" cy="587.4" r="1.6"/>
<circle cx="300.1" cy="598.7" r="1.0"/>
<circle cx="453.1" cy="510.6" r="1.3"/>
<circle cx="362.8" cy="556.5" r="1.5"/>
<circle cx="276.3" cy="598.7" r="1.0"/>
<circle cx="386.0" cy="584.2" r="1.3"/>
<circle cx="445.0" cy="494.5" r="1.2"/>
<circle cx="425.7" cy="574.8" r="1.2"/>
<circle cx="355.1" cy="437.7" r="1.0"/>
<circle cx="434.3" cy="595.7" r="1.0"/>
<circle cx="293.9" cy="596.2" r="0.9"/>
<circle cx="393.5" cy="575.9" r="1.6"/>
<circle cx="362.4" cy="491.5" r="1.1"/>
<circle cx="269.6" cy="488.6" r="1.5"/>
<circle cx="296.4" cy="593.8" r="1.7"/>
<circle cx="462.8" cy="578.1" r="1.0"/>
<circle cx="458.1" cy="492.9" r="1.5"/>
<circle cx="423.6" cy="552.5" r="1.5"/>
<circle cx="406.8" cy="565.1" r="1.0"/>
<circle cx="279.5" cy="456.3" r="1.1"/>
<circle cx="451.6" cy="566.7" r="0.9"/>
<circle cx="450.5" cy="526.9" r="1.3"/>
<circle cx="329.9" cy="544.6" r="1.5"/>
<circle cx="373.9" cy="477.9" r="1.7"/>
<circle cx="346.6" cy="527.2" r="1.3"/>
<circle cx="359.4" cy="462.3" r="1.5"/>
<circle cx="405.6" cy="489.2" r="0.9"/>
<circle cx="436.0" cy="438.4" r="1.6"/>
<circle cx="432.6" cy="545.3" r="1.5"/>
<circle cx="394.0" cy="536.9" r="1.6"/>
<circle cx="307.8" cy="492.9" r="1.4"/>
<circle cx="389.1" cy="550.9" r="1.4"/>
<circle cx="477.5" cy="500.5" r="1.6"/>
<circle cx="313.6" cy="511.7" r="1.0"/>
<circle cx="458.6" cy="523.9" r="1.4"/>
<circle cx="337.2" cy="541.6" r="1.2"/>
<circle cx="289.1" cy="444.1" r="0.9"/>
<circle cx="457.2" cy="469.9" r="0.9"/>
<circle cx="475.2" cy="526.7" r="1.2"/>
<circle cx="320.2" cy="469.7" r="1.2"/>
<circle cx="435.8" cy="475.1" r="1.5"/>
<circle cx="265.6" cy="470.1" r="1.2"/>
<circle cx="350.8" cy="516.5" r="0.9"/>
<circle cx="424.7" cy="478.9" r="1.6"/>
<circle cx="395.7" cy="543.7" r="1.1"/>
<circle cx="401.9" cy="432.2" r="1.3"/>
<circle cx="273.3" cy="531.7" r="1.2"/>
<circle cx="267.2" cy="598.4" r="1.3"/>
<circle cx="342.5" cy="556.7" r="1.7"/>
<circle cx="412.9" cy="565.0" r="1.4"/>
<circle cx="450.5" cy="559.5" r="1.3"/>
<circle cx="332.0" cy="575.5" r="1.4"/>
<circle cx="363.9" cy="589.1" r="1.2"/>
<circle cx="416.8" cy="529.3" r="1.2"/>
<circle cx="468.2" cy="557.7" r="1.7"/>
<circle cx="319.2" cy="543.6" r="1.3"/>
<circle cx="316.0" cy="517.2" r="1.2"/>
<circle cx="301.4" cy="446.3" r="1.5"/>
<circle cx="302.5" cy="557.2" r="1.2"/>
<circle cx="393.8" cy="464.8" r="1.4"/>
<circle cx="451.5" cy="446.0" r="1.0"/>
<circle cx="436.5" cy="466.5" r="1.7"/>
<circle cx="284.7" cy="451.9" r="1.2"/>
<circle cx="321.7" cy="460.6" r="1.1"/>
<circle cx="396.9" cy="529.4" r="1.4"/>
<circle cx="467.1" cy="546.7" r="0.9"/>
<circle cx="344.2" cy="434.1" r="1.2"/>
<circle cx="424.2" cy="548.4" r="1.6"/>
<circle cx="410.3" cy="457.3" r="1.5"/>
<circle cx="434.6" cy="596.3" r="1.2"/>
<circle cx="348.4" cy="500.1" r="1.0"/>
<circle cx="307.4" cy="452.7" r="1.5"/>
<circle cx="473.3" cy="572.9" r="1.4"/>
<circle cx="412.2" cy="568.3" r="0.9"/>
<circle cx="266.5" cy="441.0" r="1.3"/>
<circle cx="288.3" cy="461.0" r="1.2"/>
<circle cx="385.7" cy="576.1" r="1.5"/>
<circle cx="381.9" cy="446.9" r="1.5"/>
<circle cx="322.0" cy="559.6" r="1.0"/>
<circle cx="352.7" cy="482.9" r="1.3"/>
<circle cx="451.4" cy="485.9" r="1.6"/>
<circle cx="311.9" cy="427.2" r="0.9"/>
<circle cx="470.2" cy="464.4" r="1.5"/>
<circle cx="469.5" cy="596.3" r="1.2"/>
<circle cx="295.0" cy="453.5" r="1.4"/>
<circle cx="475.4" cy="523.2" r="1.1"/>
<circle cx="415.9" cy="543.4" r="1.6"/>
</g>
<g fill="#151515">
<circle cx="260.3" cy="424.5" r="1.43"/>
<circle cx="264.1" cy="424.9" r="0.97"/>
<circle cx="268.2" cy="424.3" r="1.49"/>
<circle cx="270.8" cy="423.4" r="1.28"/>
<circle cx="273.4" cy="423.4" r="1.12"/>
<circle cx="278.7" cy="423.3" r="1.43"/>
<circle cx="282.0" cy="423.2" r="0.95"/>
<circle cx="284.7" cy="423.4" r="1.54"/>
<circle cx="288.5" cy="425.0" r="1.27"/>
<circle cx="291.9" cy="425.0" r="1.36"/>
<circle cx="297.1" cy="423.6" r="1.17"/>
<circle cx="299.0" cy="423.0" r="1.13"/>
<circle cx="302.3" cy="424.4" r="1.15"/>
<circle cx="307.8" cy="424.0" r="1.14"/>
<circle cx="311.1" cy="423.0" r="0.70"/>
<circle cx="314.8" cy="424.8" r="0.96"/>
<circle cx="317.6" cy="424.2" r="0.96"/>
<circle cx="320.8" cy="425.0" r="1.07"/>
<circle cx="326.1" cy="425.0" r="1.16"/>
<circle cx="328.8" cy="424.6" r="1.01"/>
<circle cx="333.1" cy="424.8" r="0.97"/>
<circle cx="335.1" cy="423.6" r="1.32"/>
<circle cx="339.3" cy="424.9" r="1.28"/>
<circle cx="342.9" cy="423.3" r="1.00"/>
<circle cx="347.3" cy="425.1" r="1.05"/>
<circle cx="351.6" cy="424.1" r="1.19"/>
<circle cx="354.3" cy="424.7" r="1.22"/>
<circle cx="356.8" cy="424.9" r="0.97"/>
<circle cx="362.1" cy="423.2" r="1.39"/>
<circle cx="365.3" cy="424.6" r="1.01"/>
<circle cx="367.8" cy="424.8" r="1.13"/>
<circle cx="373.3" cy="424.8" r="1.54"/>
<circle cx="375.8" cy="424.5" r="1.24"/>
<circle cx="379.2" cy="423.2" r="1.18"/>
<circle cx="384.1" cy="424.3" r="1.25"/>
<circle cx="385.8" cy="423.5" r="1.42"/>
<circle cx="390.0" cy="424.6" r="1.41"/>
<circle cx="394.3" cy="424.6" r="1.17"/>
<circle cx="397.1" cy="424.0" r="1.41"/>
<circle cx="400.7" cy="425.0" r="1.34"/>
<circle cx="403.7" cy="424.1" r="1.10"/>
<circle cx="408.3" cy="424.7" r="1.34"/>
<circle cx="411.7" cy="424.3" r="1.39"/>
<circle cx="415.3" cy="424.8" r="1.47"/>
<circle cx="420.3" cy="425.0" r="1.26"/>
<circle cx="422.2" cy="424.7" r="1.51"/>
<circle cx="426.9" cy="424.5" r="1.39"/>
<circle cx="430.8" cy="424.2" r="1.35"/>
<circle cx="434.0" cy="424.6" r="1.33"/>
<circle cx="436.3" cy="423.3" r="1.21"/>
<circle cx="440.4" cy="424.4" r="1.33"/>
<circle cx="444.6" cy="423.4" r="0.98"/>
<circle cx="447.8" cy="423.3" r="0.70"/>
<circle cx="451.8" cy="423.7" r="1.32"/>
<circle cx="454.9" cy="424.9" r="0.95"/>
<circle cx="458.6" cy="423.8" r="1.02"/>
<circle cx="462.4" cy="423.0" r="1.32"/>
<circle cx="466.4" cy="423.6" r="1.30"/>
<circle cx="470.7" cy="423.8" r="1.44"/>
<circle cx="473.3" cy="423.2" r="1.31"/>
<circle cx="478.2" cy="425.0" r="1.32"/>
<circle cx="481.7" cy="422.9" r="1.01"/>
<circle cx="484.7" cy="423.2" r="1.33"/>
<circle cx="261.5" cy="427.0" r="1.09"/>
<circle cx="298.6" cy="426.7" r="1.27"/>
<circle cx="301.2" cy="427.2" r="1.23"/>
<circle cx="305.8" cy="427.3" r="0.97"/>
<circle cx="308.8" cy="428.1" r="1.48"/>
<circle cx="311.4" cy="427.7" r="1.21"/>
<circle cx="316.6" cy="427.4" r="1.24"/>
<circle cx="319.5" cy="426.9" r="1.46"/>
<circle cx="322.9" cy="427.9" r="0.99"/>
<circle cx="327.4" cy="427.0" r="1.12"/>
<circle cx="331.5" cy="426.3" r="1.24"/>
<circle cx="334.2" cy="426.8" r="1.04"/>
<circle cx="338.5" cy="426.2" r="1.09"/>
<circle cx="342.1" cy="427.5" r="0.97"/>
<circle cx="346.1" cy="428.2" r="1.37"/>
<circle cx="349.4" cy="426.5" r="1.34"/>
<circle cx="352.8" cy="426.3" r="1.13"/>
<circle cx="355.2" cy="427.4" r="1.20"/>
<circle cx="359.8" cy="426.1" r="1.01"/>
<circle cx="362.2" cy="426.2" r="1.30"/>
<circle cx="367.6" cy="426.3" r="1.21"/>
<circle cx="370.6" cy="427.1" r="1.51"/>
<circle cx="373.1" cy="427.6" r="1.04"/>
<circle cx="377.7" cy="428.0" r="1.28"/>
<circle cx="380.7" cy="427.2" r="1.10"/>
<circle cx="384.9" cy="426.3" r="1.09"/>
<circle cx="389.0" cy="426.4" r="1.38"/>
<circle cx="391.2" cy="427.5" r="1.00"/>
<circle cx="396.0" cy="426.6" r="1.48"/>
<circle cx="399.0" cy="427.8" r="0.97"/>
<circle cx="402.0" cy="426.4" r="1.52"/>
<circle cx="406.0" cy="426.3" r="1.53"/>
<circle cx="410.9" cy="426.3" r="1.32"/>
<circle cx="413.3" cy="426.8" r="1.32"/>
<circle cx="417.2" cy="426.3" r="1.45"/>
<circle cx="421.8" cy="427.0" r="1.46"/>
<circle cx="424.9" cy="427.3" r="1.39"/>
<circle cx="427.4" cy="426.1" r="0.70"/>
<circle cx="432.8" cy="427.1" r="0.70"/>
<circle cx="435.5" cy="428.0" r="1.32"/>
<circle cx="439.1" cy="426.3" r="1.04"/>
<circle cx="442.5" cy="426.9" r="1.48"/>
<circle cx="445.9" cy="426.6" r="1.05"/>
<circle cx="449.5" cy="427.1" r="0.97"/>
<circle cx="453.4" cy="428.1" r="1.36"/>
<circle cx="457.2" cy="428.1" r="1.02"/>
<circle cx="460.5" cy="427.5" r="1.39"/>
<circle cx="463.9" cy="426.1" r="1.09"/>
<circle cx="467.9" cy="428.2" r="1.17"/>
<circle cx="471.7" cy="426.7" r="1.39"/>
<circle cx="474.6" cy="426.6" r="1.35"/>
<circle cx="479.3" cy="427.0" r="0.70"/>
<circle cx="481.7" cy="427.7" r="1.20"/>
<circle cx="260.1" cy="431.3" r="1.26"/>
<circle cx="299.0" cy="429.9" r="1.00"/>
<circle cx="304.1" cy="429.9" r="1.03"/>
<circle cx="306.5" cy="429.4" r="1.21"/>
<circle cx="310.1" cy="429.3" r="1.37"/>
<circle cx="313.6" cy="429.8" r="1.17"/>
<circle cx="317.7" cy="429.9" r="1.40"/>
<circle cx="322.4" cy="430.6" r="1.41"/>
<circle cx="325.0" cy="431.0" r="1.34"/>
<circle cx="329.3" cy="430.7" r="1.11"/>
<circle cx="332.1" cy="429.5" r="0.99"/>
<circle cx="335.5" cy="430.7" r="1.12"/>
<circle cx="340.2" cy="430.4" r="0.97"/>
<circle cx="342.4" cy="430.0" r="1.47"/>
<circle cx="347.1" cy="429.7" r="1.21"/>
<circle cx="350.1" cy="429.2" r="1.30"/>
<circle cx="354.6" cy="429.4" r="1.27"/>
<circle cx="358.2" cy="430.2" r="1.51"/>
<circle cx="360.5" cy="429.9" r="1.50"/>
<circle cx="364.8" cy="430.1" r="1.41"/>
<circle cx="368.7" cy="431.3" r="1.31"/>
<circle cx="372.9" cy="430.1" r="0.98"/>
<circle cx="374.8" cy="430.4" r="1.24"/>
<circle cx="379.2" cy="429.6" r="1.12"/>
<circle cx="383.2" cy="430.0" r="1.40"/>
<circle cx="386.4" cy="429.7" r="1.54"/>
<circle cx="391.1" cy="430.5" r="1.19"/>
<circle cx="394.7" cy="430.2" r="0.97"/>
<circle cx="396.7" cy="430.7" r="1.49"/>
<circle cx="401.8" cy="429.9" r="1.36"/>
<circle cx="405.1" cy="430.9" r="0.70"/>
<circle cx="408.4" cy="430.5" r="1.06"/>
<circle cx="411.6" cy="429.2" r="1.14"/>
<circle cx="415.6" cy="430.7" r="1.19"/>
<circle cx="420.0" cy="431.2" r="1.37"/>
<circle cx="423.0" cy="430.9" r="1.17"/>
<circle cx="426.9" cy="430.3" r="1.12"/>
<circle cx="429.2" cy="430.0" r="1.30"/>
<circle cx="434.2" cy="429.8" r="1.51"/>
<circle cx="437.9" cy="429.3" r="1.40"/>
<circle cx="442.0" cy="431.1" r="1.36"/>
<circle cx="445.1" cy="430.5" r="1.08"/>
<circle cx="449.1" cy="429.7" r="1.53"/>
<circle cx="451.6" cy="429.2" r="1.18"/>
<circle cx="455.8" cy="431.1" r="1.50"/>
<circle cx="458.9" cy="429.4" r="1.36"/>
<circle cx="463.2" cy="430.0" r="1.48"/>
<circle cx="465.9" cy="429.8" r="1.32"/>
<circle cx="469.2" cy="430.6" r="1.41"/>
<circle cx="472.6" cy="430.4" r="1.45"/>
<circle cx="477.7" cy="430.1" r="1.21"/>
<circle cx="481.7" cy="429.8" r="1.12"/>
<circle cx="485.5" cy="429.6" r="0.97"/>
<circle cx="261.9" cy="433.6" r="1.06"/>
<circle cx="297.7" cy="433.3" r="1.36"/>
<circle cx="300.7" cy="433.2" r="1.28"/>
<circle cx="304.4" cy="433.6" r="1.17"/>
<circle cx="308.9" cy="434.4" r="1.52"/>
<circle cx="313.1" cy="433.9" r="1.13"/>
<circle cx="316.1" cy="433.1" r="1.39"/>
<circle cx="319.5" cy="432.9" r="1.25"/>
<circle cx="324.0" cy="433.6" r="1.13"/>
<circle cx="327.7" cy="433.4" r="0.98"/>
<circle cx="330.0" cy="433.8" r="0.99"/>
<circle cx="333.3" cy="433.4" r="1.54"/>
<circle cx="337.6" cy="434.4" r="1.01"/>
<circle cx="342.1" cy="432.3" r="1.41"/>
<circle cx="344.0" cy="432.9" r="1.22"/>
<circle cx="348.7" cy="432.4" r="1.08"/>
<circle cx="352.2" cy="433.3" r="1.00"/>
<circle cx="356.9" cy="433.8" r="1.25"/>
<circle cx="359.3" cy="434.0" r="1.21"/>
<circle cx="364.1" cy="433.7" r="0.70"/>
<circle cx="365.7" cy="434.0" r="1.20"/>
<circle cx="371.1" cy="434.3" r="1.18"/>
<circle cx="374.6" cy="434.3" r="1.04"/>
<circle cx="377.5" cy="434.4" r="1.55"/>
<circle cx="381.1" cy="432.9" r="1.23"/>
<circle cx="385.3" cy="432.6" r="1.05"/>
<circle cx="387.6" cy="433.1" r="1.49"/>
<circle cx="391.5" cy="432.3" r="1.45"/>
<circle cx="396.0" cy="432.6" r="1.09"/>
<circle cx="400.3" cy="432.4" r="1.06"/>
<circle cx="402.5" cy="434.0" r="1.17"/>
<circle cx="405.8" cy="433.4" r="1.53"/>
<circle cx="409.3" cy="432.5" r="1.34"/>
<circle cx="413.6" cy="433.4" r="1.30"/>
<circle cx="416.9" cy="433.6" r="1.11"/>
<circle cx="421.6" cy="432.6" r="1.24"/>
<circle cx="423.6" cy="434.0" r="1.20"/>
<circle cx="428.6" cy="434.0" r="0.98"/>
<circle cx="430.9" cy="433.2" r="0.70"/>
<circle cx="435.1" cy="433.3" r="1.34"/>
<circle cx="438.9" cy="433.5" r="1.38"/>
<circle cx="443.8" cy="434.5" r="1.13"/>
<circle cx="447.4" cy="432.5" r="1.22"/>
<circle cx="450.1" cy="433.2" r="1.50"/>
<circle cx="453.8" cy="434.1" r="1.03"/>
<circle cx="457.3" cy="433.5" r="1.07"/>
<circle cx="459.9" cy="432.5" r="1.16"/>
<circle cx="465.6" cy="432.9" r="1.12"/>
<circle cx="468.7" cy="432.9" r="1.45"/>
<circle cx="471.5" cy="433.7" r="1.10"/>
<circle cx="476.2" cy="433.3" r="1.49"/>
<circle cx="478.2" cy="432.4" r="1.39"/>
<circle cx="481.6" cy="432.4" r="1.44"/>
<circle cx="260.8" cy="435.5" r="1.30"/>
<circle cx="300.2" cy="436.4" r="1.29"/>
<circle cx="302.7" cy="436.0" r="1.25"/>
<circle cx="307.9" cy="436.7" r="1.35"/>
<circle cx="311.3" cy="437.3" r="1.13"/>
<circle cx="313.8" cy="436.2" r="1.48"/>
<circle cx="318.2" cy="436.8" r="1.52"/>
<circle cx="322.1" cy="436.2" r="1.01"/>
<circle cx="325.9" cy="436.7" r="0.98"/>
<circle cx="328.5" cy="436.8" r="1.38"/>
<circle cx="332.2" cy="436.2" r="1.01"/>
<circle cx="336.5" cy="436.3" r="1.47"/>
<circle cx="339.2" cy="435.8" r="1.52"/>
<circle cx="344.1" cy="436.6" r="1.01"/>
<circle cx="346.3" cy="435.5" r="1.29"/>
<circle cx="349.6" cy="436.6" r="1.51"/>
<circle cx="354.0" cy="435.7" r="1.41"/>
<circle cx="357.8" cy="435.6" r="1.54"/>
<circle cx="361.2" cy="436.0" r="1.28"/>
<circle cx="364.8" cy="435.9" r="1.26"/>
<circle cx="368.3" cy="436.8" r="1.50"/>
<circle cx="372.9" cy="436.6" r="1.03"/>
<circle cx="376.8" cy="436.5" r="1.22"/>
<circle cx="379.6" cy="436.5" r="1.12"/>
<circle cx="382.5" cy="436.5" r="1.41"/>
<circle cx="385.9" cy="435.9" r="1.37"/>
<circle cx="389.4" cy="437.6" r="1.03"/>
<circle cx="393.0" cy="436.4" r="1.32"/>
<circle cx="396.8" cy="437.0" r="1.01"/>
<circle cx="400.6" cy="436.2" r="0.98"/>
<circle cx="404.0" cy="437.1" r="1.15"/>
<circle cx="408.7" cy="436.5" r="1.47"/>
<circle cx="411.6" cy="436.2" r="1.48"/>
<circle cx="415.5" cy="436.4" r="1.54"/>
<circle cx="419.6" cy="437.1" r="0.70"/>
<circle cx="423.9" cy="436.1" r="1.46"/>
<circle cx="426.3" cy="437.3" r="1.36"/>
<circle cx="430.7" cy="436.6" r="1.38"/>
<circle cx="434.4" cy="435.8" r="0.70"/>
<circle cx="438.0" cy="437.1" r="1.45"/>
<circle cx="441.1" cy="436.5" r="1.02"/>
<circle cx="445.7" cy="437.3" r="1.09"/>
<circle cx="448.6" cy="436.3" r="1.34"/>
<circle cx="451.4" cy="435.5" r="1.34"/>
<circle cx="456.0" cy="436.5" r="1.21"/>
<circle cx="459.6" cy="436.3" r="1.31"/>
<circle cx="462.6" cy="436.9" r="0.99"/>
<circle cx="467.1" cy="435.8" r="0.70"/>
<circle cx="470.5" cy="435.7" r="1.22"/>
<circle cx="474.2" cy="436.5" r="0.70"/>
<circle cx="477.8" cy="437.1" r="1.32"/>
<circle cx="481.1" cy="437.0" r="1.46"/>
<circle cx="483.4" cy="437.4" r="1.54"/>
<circle cx="260.9" cy="439.3" r="1.01"/>
<circle cx="297.3" cy="439.7" r="1.45"/>
<circle cx="300.7" cy="439.9" r="1.17"/>
<circle cx="304.8" cy="438.6" r="1.04"/>
<circle cx="308.0" cy="438.6" r="1.28"/>
<circle cx="313.2" cy="439.3" r="1.50"/>
<circle cx="315.3" cy="438.6" r="0.99"/>
<circle cx="320.3" cy="439.6" r="1.43"/>
<circle cx="324.3" cy="439.9" r="1.27"/>
<circle cx="326.8" cy="439.5" r="1.44"/>
<circle cx="330.1" cy="440.4" r="0.99"/>
<circle cx="333.6" cy="440.0" r="1.31"/>
<circle cx="338.3" cy="439.5" r="1.14"/>
<circle cx="342.1" cy="439.3" r="1.36"/>
<circle cx="345.1" cy="438.8" r="1.33"/>
<circle cx="349.0" cy="438.7" r="1.26"/>
<circle cx="352.2" cy="438.9" r="1.12"/>
<circle cx="355.0" cy="440.1" r="1.10"/>
<circle cx="358.6" cy="439.2" r="1.51"/>
<circle cx="362.3" cy="439.3" r="1.52"/>
<circle cx="366.4" cy="439.0" r="1.36"/>
<circle cx="369.5" cy="440.5" r="1.15"/>
<circle cx="373.9" cy="440.5" r="0.98"/>
<circle cx="377.2" cy="439.2" r="1.44"/>
<circle cx="380.9" cy="439.7" r="1.46"/>
<circle cx="384.8" cy="440.0" r="1.32"/>
<circle cx="388.3" cy="438.9" r="1.21"/>
<circle cx="391.7" cy="439.4" r="1.31"/>
<circle cx="395.0" cy="439.6" r="1.39"/>
<circle cx="398.5" cy="440.2" r="1.49"/>
<circle cx="402.1" cy="440.0" r="1.12"/>
<circle cx="405.6" cy="439.6" r="1.05"/>
<circle cx="410.7" cy="439.7" r="1.46"/>
<circle cx="414.1" cy="440.4" r="1.06"/>
<circle cx="417.1" cy="439.9" r="1.02"/>
<circle cx="420.8" cy="440.3" r="1.52"/>
<circle cx="424.5" cy="440.5" r="1.55"/>
<circle cx="428.9" cy="440.2" r="1.22"/>
<circle cx="431.2" cy="439.5" r="1.51"/>
<circle cx="435.0" cy="439.9" r="1.21"/>
<circle cx="439.1" cy="439.2" r="0.97"/>
<circle cx="443.2" cy="439.1" r="1.25"/>
<circle cx="446.4" cy="440.6" r="1.42"/>
<circle cx="449.7" cy="439.9" r="1.05"/>
<circle cx="452.7" cy="439.7" r="1.11"/>
<circle cx="456.3" cy="439.1" r="1.54"/>
<circle cx="460.3" cy="439.6" r="0.97"/>
<circle cx="463.9" cy="440.7" r="1.14"/>
<circle cx="467.2" cy="438.8" r="1.55"/>
<circle cx="472.7" cy="440.4" r="1.42"/>
<circle cx="474.7" cy="439.2" r="0.99"/>
<circle cx="479.5" cy="439.7" r="0.96"/>
<circle cx="483.4" cy="440.4" r="1.39"/>
<circle cx="260.9" cy="442.9" r="1.18"/>
<circle cx="296.7" cy="443.3" r="1.24"/>
<circle cx="300.1" cy="443.2" r="1.00"/>
<circle cx="303.4" cy="442.9" r="1.01"/>
<circle cx="306.7" cy="442.8" r="1.26"/>
<circle cx="310.2" cy="442.9" r="1.31"/>
<circle cx="313.9" cy="442.3" r="1.23"/>
<circle cx="318.2" cy="442.0" r="1.22"/>
<circle cx="320.9" cy="441.9" r="0.70"/>
<circle cx="325.2" cy="442.4" r="0.97"/>
<circle cx="328.0" cy="442.6" r="1.50"/>
<circle cx="332.1" cy="443.2" r="0.70"/>
<circle cx="335.4" cy="442.3" r="1.49"/>
<circle cx="339.1" cy="442.8" r="1.24"/>
<circle cx="343.6" cy="443.3" r="1.24"/>
<circle cx="347.5" cy="443.8" r="1.32"/>
<circle cx="350.5" cy="443.2" r="1.15"/>
<circle cx="353.8" cy="443.1" r="1.32"/>
<circle cx="358.7" cy="443.3" r="1.38"/>
<circle cx="360.8" cy="443.1" r="1.32"/>
<circle cx="365.5" cy="442.2" r="1.25"/>
<circle cx="369.1" cy="443.4" r="1.23"/>
<circle cx="372.1" cy="443.0" r="1.54"/>
<circle cx="376.3" cy="443.8" r="1.00"/>
<circle cx="379.8" cy="442.9" r="1.42"/>
<circle cx="382.3" cy="442.8" r="1.32"/>
<circle cx="387.7" cy="443.5" r="1.45"/>
<circle cx="390.2" cy="443.7" r="1.52"/>
<circle cx="393.6" cy="443.4" r="1.27"/>
<circle cx="397.9" cy="443.6" r="1.38"/>
<circle cx="401.2" cy="442.8" r="1.34"/>
<circle cx="403.8" cy="443.8" r="1.14"/>
<circle cx="407.4" cy="442.1" r="1.51"/>
<circle cx="411.6" cy="443.5" r="1.09"/>
<circle cx="415.8" cy="443.7" r="1.24"/>
<circle cx="418.7" cy="442.5" r="0.95"/>
<circle cx="422.1" cy="442.4" r="1.41"/>
<circle cx="426.2" cy="442.3" r="1.13"/>
<circle cx="430.1" cy="442.0" r="1.26"/>
<circle cx="433.0" cy="443.4" r="1.01"/>
<circle cx="438.0" cy="442.9" r="1.47"/>
<circle cx="442.0" cy="441.8" r="1.49"/>
<circle cx="443.5" cy="442.3" r="1.54"/>
<circle cx="448.8" cy="443.5" r="0.95"/>
<circle cx="451.8" cy="443.7" r="1.49"/>
<circle cx="456.6" cy="442.9" r="1.13"/>
<circle cx="458.9" cy="442.9" r="1.22"/>
<circle cx="463.7" cy="442.8" r="1.13"/>
<circle cx="465.8" cy="442.6" r="1.01"/>
<circle cx="471.1" cy="443.1" r="1.26"/>
<circle cx="474.0" cy="442.9" r="1.17"/>
<circle cx="476.2" cy="442.0" r="0.70"/>
<circle cx="481.2" cy="442.5" r="1.09"/>
<circle cx="484.4" cy="442.2" r="1.46"/>
<circle cx="260.9" cy="445.0" r="1.48"/>
<circle cx="265.0" cy="446.4" r="0.98"/>
<circle cx="270.0" cy="446.3" r="0.98"/>
<circle cx="273.4" cy="446.2" r="1.08"/>
<circle cx="275.3" cy="446.0" r="1.06"/>
<circle cx="280.8" cy="446.8" r="1.25"/>
<circle cx="282.7" cy="446.9" r="1.47"/>
<circle cx="288.0" cy="445.5" r="1.54"/>
<circle cx="291.7" cy="446.7" r="1.51"/>
<circle cx="293.5" cy="445.5" r="1.34"/>
<circle cx="298.4" cy="444.9" r="1.16"/>
<circle cx="300.9" cy="445.3" r="1.26"/>
<circle cx="304.7" cy="445.8" r="1.52"/>
<circle cx="309.4" cy="446.9" r="0.97"/>
<circle cx="311.6" cy="445.3" r="1.39"/>
<circle cx="316.4" cy="445.9" r="1.38"/>
<circle cx="319.1" cy="445.3" r="0.70"/>
<circle cx="324.3" cy="446.9" r="1.16"/>
<circle cx="326.5" cy="446.6" r="1.25"/>
<circle cx="331.4" cy="446.9" r="0.98"/>
<circle cx="333.6" cy="446.3" r="1.17"/>
<circle cx="337.4" cy="446.2" r="1.25"/>
<circle cx="341.8" cy="445.9" r="1.52"/>
<circle cx="345.7" cy="446.9" r="1.32"/>
<circle cx="349.3" cy="446.4" r="1.07"/>
<circle cx="351.6" cy="444.9" r="1.36"/>
<circle cx="355.4" cy="444.9" r="0.96"/>
<circle cx="359.2" cy="445.8" r="1.36"/>
<circle cx="363.6" cy="445.3" r="1.54"/>
<circle cx="367.0" cy="446.3" r="1.12"/>
<circle cx="370.7" cy="446.4" r="1.03"/>
<circle cx="373.6" cy="446.2" r="1.39"/>
<circle cx="377.1" cy="445.6" r="1.54"/>
<circle cx="381.2" cy="446.1" r="1.34"/>
<circle cx="384.0" cy="445.1" r="1.30"/>
<circle cx="389.6" cy="446.2" r="1.46"/>
<circle cx="392.1" cy="445.8" r="1.23"/>
<circle cx="396.3" cy="446.1" r="1.02"/>
<circle cx="399.4" cy="446.5" r="1.28"/>
<circle cx="403.2" cy="445.1" r="1.03"/>
<circle cx="406.3" cy="445.1" r="1.44"/>
<circle cx="410.8" cy="445.7" r="1.03"/>
<circle cx="413.2" cy="446.3" r="1.37"/>
<circle cx="416.4" cy="446.1" r="1.42"/>
<circle cx="422.2" cy="445.3" r="1.39"/>
<circle cx="424.9" cy="445.5" r="1.09"/>
<circle cx="428.6" cy="446.8" r="1.31"/>
<circle cx="432.3" cy="446.2" r="1.19"/>
<circle cx="436.0" cy="445.7" r="0.97"/>
<circle cx="438.9" cy="446.4" r="1.34"/>
<circle cx="443.5" cy="445.6" r="1.16"/>
<circle cx="446.8" cy="445.8" r="0.70"/>
<circle cx="450.1" cy="446.7" r="1.48"/>
<circle cx="454.3" cy="446.0" r="1.51"/>
<circle cx="457.7" cy="446.3" r="1.54"/>
<circle cx="460.7" cy="445.1" r="1.36"/>
<circle cx="465.3" cy="445.2" r="1.06"/>
<circle cx="468.1" cy="446.5" r="1.16"/>
<circle cx="471.5" cy="447.0" r="1.07"/>
<circle cx="476.2" cy="446.3" r="1.11"/>
<circle cx="479.9" cy="446.1" r="1.08"/>
<circle cx="483.6" cy="446.1" r="1.04"/>
<circle cx="260.3" cy="448.1" r="0.95"/>
<circle cx="263.1" cy="449.1" r="0.99"/>
<circle cx="267.6" cy="448.7" r="1.30"/>
<circle cx="271.5" cy="449.2" r="1.33"/>
<circle cx="275.2" cy="448.2" r="1.02"/>
<circle cx="278.8" cy="448.0" r="1.49"/>
<circle cx="282.5" cy="449.5" r="1.18"/>
<circle cx="285.9" cy="449.5" r="1.23"/>
<circle cx="288.7" cy="450.0" r="1.23"/>
<circle cx="293.6" cy="450.1" r="1.06"/>
<circle cx="296.7" cy="448.8" r="1.23"/>
<circle cx="299.3" cy="449.3" r="1.07"/>
<circle cx="303.5" cy="448.9" r="1.49"/>
<circle cx="308.0" cy="448.6" r="1.16"/>
<circle cx="310.3" cy="450.1" r="1.17"/>
<circle cx="315.3" cy="449.5" r="1.06"/>
<circle cx="317.2" cy="448.5" r="1.15"/>
<circle cx="321.9" cy="449.1" r="1.12"/>
<circle cx="324.4" cy="448.2" r="1.21"/>
<circle cx="328.8" cy="448.5" r="1.41"/>
<circle cx="333.2" cy="450.1" r="1.51"/>
<circle cx="337.0" cy="449.0" r="1.48"/>
<circle cx="339.7" cy="448.5" r="1.40"/>
<circle cx="344.1" cy="449.5" r="0.70"/>
<circle cx="346.4" cy="448.9" r="1.17"/>
<circle cx="349.4" cy="449.0" r="1.49"/>
<circle cx="354.5" cy="449.5" r="1.31"/>
<circle cx="358.4" cy="449.0" r="1.25"/>
<circle cx="361.5" cy="449.3" r="1.13"/>
<circle cx="365.0" cy="450.1" r="1.55"/>
<circle cx="369.6" cy="448.1" r="0.99"/>
<circle cx="372.9" cy="449.2" r="1.10"/>
<circle cx="375.3" cy="448.3" r="1.04"/>
<circle cx="378.8" cy="448.3" r="1.32"/>
<circle cx="383.8" cy="449.4" r="1.48"/>
<circle cx="387.2" cy="448.6" r="1.20"/>
<circle cx="390.1" cy="450.0" r="1.21"/>
<circle cx="394.2" cy="448.2" r="1.08"/>
<circle cx="398.2" cy="448.5" r="1.10"/>
<circle cx="401.1" cy="448.9" r="1.50"/>
<circle cx="404.3" cy="448.7" r="1.25"/>
<circle cx="408.2" cy="448.1" r="1.34"/>
<circle cx="412.9" cy="449.3" r="1.18"/>
<circle cx="415.8" cy="448.4" r="1.27"/>
<circle cx="418.6" cy="449.0" r="1.45"/>
<circle cx="422.5" cy="448.5" r="1.33"/>
<circle cx="426.1" cy="449.0" r="1.19"/>
<circle cx="431.0" cy="448.8" r="1.27"/>
<circle cx="434.1" cy="448.5" r="1.10"/>
<circle cx="436.6" cy="449.5" r="1.11"/>
<circle cx="440.9" cy="448.5" r="1.06"/>
<circle cx="443.6" cy="448.3" r="1.39"/>
<circle cx="447.6" cy="449.7" r="1.54"/>
<circle cx="452.3" cy="448.9" r="1.55"/>
<circle cx="456.3" cy="449.4" r="1.03"/>
<circle cx="459.6" cy="448.3" r="1.00"/>
<circle cx="463.7" cy="449.4" r="0.99"/>
<circle cx="467.4" cy="449.7" r="1.38"/>
<circle cx="470.3" cy="450.0" r="1.25"/>
<circle cx="472.8" cy="450.1" r="1.38"/>
<circle cx="476.4" cy="448.2" r="1.36"/>
<circle cx="480.7" cy="448.5" r="1.41"/>
<circle cx="484.9" cy="448.9" r="1.24"/>
<circle cx="261.7" cy="451.8" r="1.23"/>
<circle cx="266.1" cy="451.4" r="1.35"/>
<circle cx="268.7" cy="453.1" r="1.51"/>
<circle cx="272.9" cy="452.0" r="1.23"/>
<circle cx="277.1" cy="452.5" r="1.48"/>
<circle cx="280.6" cy="452.0" r="1.06"/>
<circle cx="283.7" cy="451.6" r="1.49"/>
<circle cx="287.5" cy="453.3" r="1.15"/>
<circle cx="290.9" cy="451.7" r="1.27"/>
<circle cx="294.8" cy="451.7" r="1.36"/>
<circle cx="297.7" cy="452.6" r="1.18"/>
<circle cx="301.4" cy="452.9" r="1.13"/>
<circle cx="304.9" cy="451.4" r="1.47"/>
<circle cx="308.7" cy="451.6" r="1.48"/>
<circle cx="311.9" cy="451.8" r="1.25"/>
<circle cx="315.5" cy="452.0" r="1.02"/>
<circle cx="320.0" cy="451.8" r="1.50"/>
<circle cx="323.7" cy="451.7" r="1.41"/>
<circle cx="327.8" cy="452.0" r="1.37"/>
<circle cx="331.0" cy="452.8" r="1.16"/>
<circle cx="333.9" cy="453.2" r="0.97"/>
<circle cx="337.4" cy="452.1" r="1.47"/>
<circle cx="340.6" cy="451.2" r="1.15"/>
<circle cx="345.0" cy="452.5" r="1.26"/>
<circle cx="348.5" cy="451.2" r="1.52"/>
<circle cx="351.4" cy="451.6" r="1.42"/>
<circle cx="356.5" cy="452.8" r="1.04"/>
<circle cx="358.9" cy="451.4" r="1.40"/>
<circle cx="362.7" cy="452.0" r="1.39"/>
<circle cx="366.7" cy="453.3" r="1.03"/>
<circle cx="371.3" cy="453.3" r="1.10"/>
<circle cx="373.9" cy="451.5" r="1.50"/>
<circle cx="378.4" cy="452.2" r="1.25"/>
<circle cx="380.4" cy="451.6" r="1.46"/>
<circle cx="385.5" cy="453.3" r="1.41"/>
<circle cx="389.1" cy="452.3" r="1.08"/>
<circle cx="393.1" cy="452.3" r="0.97"/>
<circle cx="396.8" cy="452.5" r="1.25"/>
<circle cx="399.7" cy="452.5" r="1.24"/>
<circle cx="403.8" cy="452.8" r="1.39"/>
<circle cx="405.9" cy="452.2" r="1.11"/>
<circle cx="411.2" cy="451.6" r="1.44"/>
<circle cx="413.6" cy="451.2" r="1.06"/>
<circle cx="417.9" cy="451.9" r="1.31"/>
<circle cx="421.4" cy="452.8" r="1.42"/>
<circle cx="424.9" cy="451.1" r="1.11"/>
<circle cx="427.4" cy="451.3" r="1.52"/>
<circle cx="432.1" cy="452.6" r="1.47"/>
<circle cx="435.4" cy="452.0" r="1.53"/>
<circle cx="438.4" cy="452.9" r="1.34"/>
<circle cx="443.2" cy="451.7" r="1.40"/>
<circle cx="446.6" cy="451.2" r="1.49"/>
<circle cx="450.6" cy="451.8" r="1.38"/>
<circle cx="453.8" cy="451.9" r="1.23"/>
<circle cx="456.3" cy="452.1" r="1.09"/>
<circle cx="460.5" cy="451.4" r="0.96"/>
<circle cx="463.6" cy="453.1" r="1.20"/>
<circle cx="468.0" cy="452.2" r="0.98"/>
<circle cx="470.7" cy="451.8" r="1.38"/>
<circle cx="474.7" cy="452.0" r="1.52"/>
<circle cx="478.2" cy="451.7" r="1.47"/>
<circle cx="483.0" cy="453.2" r="1.32"/>
<circle cx="260.0" cy="455.0" r="1.24"/>
<circle cx="264.7" cy="455.8" r="1.26"/>
<circle cx="267.3" cy="454.7" r="1.35"/>
<circle cx="270.2" cy="455.1" r="0.70"/>
<circle cx="274.2" cy="456.4" r="1.26"/>
<circle cx="278.0" cy="455.8" r="1.25"/>
<circle cx="281.9" cy="454.9" r="1.36"/>
<circle cx="285.8" cy="455.0" r="1.33"/>
<circle cx="288.9" cy="455.3" r="0.96"/>
<circle cx="292.5" cy="455.9" r="1.44"/>
<circle cx="296.9" cy="456.4" r="1.07"/>
<circle cx="299.0" cy="456.0" r="1.06"/>
<circle cx="302.6" cy="456.2" r="1.08"/>
<circle cx="307.3" cy="455.8" r="0.97"/>
<circle cx="310.7" cy="455.5" r="1.26"/>
<circle cx="315.0" cy="456.1" r="1.15"/>
<circle cx="317.9" cy="454.3" r="1.33"/>
<circle cx="322.1" cy="456.1" r="1.39"/>
<circle cx="324.8" cy="455.8" r="1.33"/>
<circle cx="329.6" cy="455.3" r="1.27"/>
<circle cx="333.1" cy="455.3" r="1.40"/>
<circle cx="336.1" cy="455.5" r="1.23"/>
<circle cx="340.3" cy="456.3" r="0.70"/>
<circle cx="343.2" cy="454.4" r="1.21"/>
<circle cx="346.3" cy="456.0" r="1.30"/>
<circle cx="349.8" cy="455.1" r="1.32"/>
<circle cx="354.0" cy="454.7" r="1.18"/>
<circle cx="358.8" cy="455.7" r="1.46"/>
<circle cx="361.2" cy="455.4" r="1.45"/>
<circle cx="364.8" cy="454.7" r="1.39"/>
<circle cx="368.1" cy="454.8" r="1.36"/>
<circle cx="373.2" cy="455.5" r="1.24"/>
<circle cx="375.0" cy="455.5" r="1.54"/>
<circle cx="378.7" cy="454.5" r="0.97"/>
<circle cx="382.9" cy="456.1" r="0.70"/>
<circle cx="386.3" cy="454.8" r="0.70"/>
<circle cx="389.8" cy="455.0" r="1.22"/>
<circle cx="395.0" cy="454.5" r="1.03"/>
<circle cx="397.1" cy="455.4" r="1.13"/>
<circle cx="402.1" cy="455.5" r="1.01"/>
<circle cx="405.2" cy="455.5" r="1.12"/>
<circle cx="407.5" cy="455.1" r="1.44"/>
<circle cx="412.0" cy="454.6" r="1.38"/>
<circle cx="415.4" cy="456.0" r="1.13"/>
<circle cx="419.6" cy="455.9" r="0.98"/>
<circle cx="423.7" cy="455.4" r="1.19"/>
<circle cx="426.1" cy="455.5" r="1.50"/>
<circle cx="431.2" cy="455.1" r="0.99"/>
<circle cx="433.5" cy="454.4" r="1.00"/>
<circle cx="438.2" cy="454.5" r="1.00"/>
<circle cx="440.3" cy="454.9" r="1.09"/>
<circle cx="443.6" cy="455.3" r="1.42"/>
<circle cx="448.2" cy="454.5" r="1.42"/>
<circle cx="452.7" cy="455.4" r="1.04"/>
<circle cx="454.5" cy="456.0" r="1.13"/>
<circle cx="458.6" cy="455.9" r="1.25"/>
<circle cx="462.7" cy="455.2" r="1.04"/>
<circle cx="466.4" cy="455.8" r="1.15"/>
<circle cx="469.3" cy="455.4" r="1.09"/>
<circle cx="472.9" cy="454.9" r="0.99"/>
<circle cx="477.3" cy="454.8" r="1.02"/>
<circle cx="480.4" cy="454.7" r="1.19"/>
<circle cx="485.0" cy="456.2" r="1.28"/>
<circle cx="261.8" cy="457.5" r="1.36"/>
<circle cx="266.3" cy="459.2" r="1.34"/>
<circle cx="268.6" cy="458.6" r="1.05"/>
<circle cx="272.7" cy="457.8" r="1.54"/>
<circle cx="275.7" cy="459.2" r="1.33"/>
<circle cx="280.7" cy="458.1" r="1.12"/>
<circle cx="282.9" cy="458.9" r="1.24"/>
<circle cx="286.3" cy="457.7" r="1.30"/>
<circle cx="291.4" cy="459.3" r="1.29"/>
<circle cx="294.0" cy="458.2" r="1.49"/>
<circle cx="298.3" cy="458.6" r="0.98"/>
<circle cx="302.3" cy="459.3" r="1.20"/>
<circle cx="304.2" cy="459.4" r="1.36"/>
<circle cx="308.8" cy="458.7" r="1.45"/>
<circle cx="311.8" cy="459.0" r="1.48"/>
<circle cx="316.2" cy="458.5" r="1.14"/>
<circle cx="319.3" cy="459.1" r="1.20"/>
<circle cx="324.4" cy="457.7" r="0.70"/>
<circle cx="326.6" cy="457.4" r="1.04"/>
<circle cx="330.0" cy="459.0" r="0.70"/>
<circle cx="333.1" cy="457.7" r="1.52"/>
<circle cx="337.3" cy="457.5" r="1.33"/>
<circle cx="340.7" cy="458.3" r="1.38"/>
<circle cx="345.2" cy="457.8" r="1.29"/>
<circle cx="349.6" cy="459.4" r="1.30"/>
<circle cx="352.1" cy="459.0" r="1.30"/>
<circle cx="355.8" cy="458.3" r="1.38"/>
<circle cx="359.2" cy="457.9" r="1.07"/>
<circle cx="362.8" cy="459.0" r="0.98"/>
<circle cx="366.7" cy="459.0" r="1.01"/>
<circle cx="371.1" cy="458.0" r="1.01"/>
<circle cx="374.6" cy="459.1" r="0.99"/>
<circle cx="378.6" cy="458.0" r="1.00"/>
<circle cx="382.0" cy="458.4" r="1.37"/>
<circle cx="385.6" cy="457.8" r="1.39"/>
<circle cx="389.1" cy="458.5" r="1.19"/>
<circle cx="393.2" cy="459.2" r="1.25"/>
<circle cx="396.6" cy="458.5" r="1.03"/>
<circle cx="398.6" cy="458.1" r="1.29"/>
<circle cx="403.3" cy="459.2" r="1.52"/>
<circle cx="407.6" cy="458.1" r="1.16"/>
<circle cx="411.3" cy="458.5" r="1.43"/>
<circle cx="413.4" cy="458.7" r="0.70"/>
<circle cx="416.6" cy="459.3" r="1.29"/>
<circle cx="421.7" cy="458.4" r="1.03"/>
<circle cx="425.3" cy="458.8" r="0.70"/>
<circle cx="429.4" cy="457.6" r="1.12"/>
<circle cx="432.9" cy="458.9" r="1.18"/>
<circle cx="435.9" cy="458.7" r="1.42"/>
<circle cx="439.3" cy="458.0" r="1.42"/>
<circle cx="441.9" cy="458.8" r="0.98"/>
<circle cx="445.8" cy="458.4" r="1.11"/>
<circle cx="450.3" cy="457.8" r="1.28"/>
<circle cx="452.9" cy="457.9" r="1.07"/>
<circle cx="456.2" cy="459.5" r="0.70"/>
<circle cx="461.6" cy="458.7" r="1.07"/>
<circle cx="463.7" cy="458.8" r="1.35"/>
<circle cx="467.6" cy="457.7" r="1.33"/>
<circle cx="472.0" cy="459.0" r="0.97"/>
<circle cx="476.4" cy="458.3" r="1.29"/>
<circle cx="479.8" cy="457.9" r="1.01"/>
<circle cx="482.5" cy="458.6" r="1.07"/>
<circle cx="260.1" cy="461.4" r="0.70"/>
<circle cx="264.5" cy="462.4" r="1.10"/>
<circle cx="266.2" cy="462.3" r="1.53"/>
<circle cx="271.9" cy="461.6" r="1.47"/>
<circle cx="275.4" cy="461.5" r="0.70"/>
<circle cx="279.1" cy="460.7" r="1.30"/>
<circle cx="281.0" cy="461.3" r="0.70"/>
<circle cx="285.1" cy="461.4" r="1.38"/>
<circle cx="289.9" cy="462.4" r="1.10"/>
<circle cx="293.0" cy="462.3" r="1.03"/>
<circle cx="296.5" cy="461.2" r="1.50"/>
<circle cx="300.3" cy="460.7" r="1.49"/>
<circle cx="304.5" cy="461.3" r="1.45"/>
<circle cx="306.2" cy="460.7" r="1.35"/>
<circle cx="309.6" cy="462.4" r="1.35"/>
<circle cx="313.5" cy="461.6" r="1.25"/>
<circle cx="318.8" cy="462.1" r="1.05"/>
<circle cx="321.8" cy="462.6" r="1.54"/>
<circle cx="324.2" cy="461.4" r="1.04"/>
<circle cx="327.9" cy="462.3" r="1.32"/>
<circle cx="333.4" cy="462.4" r="1.39"/>
<circle cx="336.1" cy="461.7" r="0.97"/>
<circle cx="340.1" cy="461.4" r="1.22"/>
<circle cx="343.0" cy="462.1" r="1.43"/>
<circle cx="346.3" cy="461.9" r="1.23"/>
<circle cx="349.6" cy="460.9" r="1.10"/>
<circle cx="354.7" cy="461.4" r="1.31"/>
<circle cx="357.8" cy="461.1" r="1.16"/>
<circle cx="362.2" cy="460.8" r="1.02"/>
<circle cx="364.9" cy="461.9" r="1.31"/>
<circle cx="369.5" cy="460.9" r="1.47"/>
<circle cx="371.3" cy="461.2" r="1.26"/>
<circle cx="376.0" cy="462.7" r="1.06"/>
<circle cx="379.6" cy="461.8" r="1.37"/>
<circle cx="382.2" cy="462.2" r="1.43"/>
<circle cx="387.4" cy="460.5" r="1.36"/>
<circle cx="389.9" cy="460.7" r="1.10"/>
<circle cx="394.0" cy="462.3" r="1.05"/>
<circle cx="397.1" cy="460.6" r="1.06"/>
<circle cx="400.4" cy="460.6" r="1.54"/>
<circle cx="405.4" cy="461.4" r="1.26"/>
<circle cx="409.4" cy="461.0" r="1.53"/>
<circle cx="412.8" cy="460.7" r="1.54"/>
<circle cx="415.8" cy="461.8" r="1.22"/>
<circle cx="420.3" cy="462.6" r="1.03"/>
<circle cx="423.3" cy="460.9" r="1.48"/>
<circle cx="425.7" cy="461.2" r="1.36"/>
<circle cx="431.2" cy="461.1" r="1.45"/>
<circle cx="433.5" cy="461.0" r="0.70"/>
<circle cx="437.2" cy="460.8" r="1.07"/>
<circle cx="440.2" cy="461.0" r="1.10"/>
<circle cx="444.5" cy="461.9" r="1.27"/>
<circle cx="449.0" cy="462.6" r="1.47"/>
<circle cx="452.7" cy="461.2" r="1.31"/>
<circle cx="456.4" cy="461.1" r="1.55"/>
<circle cx="458.7" cy="462.2" r="1.29"/>
<circle cx="461.9" cy="462.4" r="1.07"/>
<circle cx="467.1" cy="461.6" r="1.24"/>
<circle cx="470.9" cy="461.8" r="1.35"/>
<circle cx="474.0" cy="461.4" r="1.06"/>
<circle cx="477.8" cy="462.4" r="1.26"/>
<circle cx="481.8" cy="461.9" r="1.54"/>
<circle cx="485.3" cy="462.2" r="1.29"/>
<circle cx="261.1" cy="463.7" r="0.97"/>
<circle cx="265.2" cy="465.0" r="1.22"/>
<circle cx="269.6" cy="464.5" r="1.33"/>
<circle cx="273.6" cy="464.0" r="1.50"/>
<circle cx="275.5" cy="465.8" r="1.07"/>
<circle cx="279.4" cy="463.9" r="1.42"/>
<circle cx="284.4" cy="465.1" r="1.34"/>
<circle cx="288.2" cy="464.4" r="0.70"/>
<circle cx="290.4" cy="464.8" r="1.23"/>
<circle cx="294.1" cy="463.7" r="1.34"/>
<circle cx="297.2" cy="464.5" r="1.35"/>
<circle cx="301.4" cy="463.9" r="1.33"/>
<circle cx="305.2" cy="465.8" r="1.17"/>
<circle cx="307.8" cy="463.9" r="1.07"/>
<circle cx="311.8" cy="463.9" r="1.50"/>
<circle cx="316.1" cy="464.9" r="1.12"/>
<circle cx="320.2" cy="464.6" r="0.70"/>
<circle cx="322.3" cy="465.3" r="0.97"/>
<circle cx="327.0" cy="464.5" r="1.13"/>
<circle cx="331.6" cy="465.3" r="1.27"/>
<circle cx="334.7" cy="464.2" r="1.03"/>
<circle cx="337.0" cy="464.5" r="1.31"/>
<circle cx="340.5" cy="464.4" r="1.22"/>
<circle cx="345.9" cy="465.5" r="1.11"/>
<circle cx="348.2" cy="464.9" r="1.27"/>
<circle cx="352.4" cy="464.2" r="1.43"/>
<circle cx="356.5" cy="464.1" r="0.96"/>
<circle cx="360.4" cy="465.1" r="1.10"/>
<circle cx="362.8" cy="465.1" r="1.12"/>
<circle cx="367.9" cy="463.7" r="1.03"/>
<circle cx="370.0" cy="464.9" r="1.25"/>
<circle cx="374.8" cy="465.2" r="1.06"/>
<circle cx="376.8" cy="464.8" r="1.33"/>
<circle cx="380.7" cy="465.6" r="1.49"/>
<circle cx="384.1" cy="464.0" r="1.38"/>
<circle cx="388.8" cy="465.2" r="0.96"/>
<circle cx="391.6" cy="464.6" r="1.46"/>
<circle cx="395.5" cy="463.7" r="1.27"/>
<circle cx="398.9" cy="465.7" r="1.12"/>
<circle cx="403.4" cy="465.7" r="0.99"/>
<circle cx="407.0" cy="463.9" r="1.01"/>
<circle cx="409.9" cy="465.2" r="1.53"/>
<circle cx="413.7" cy="465.8" r="1.51"/>
<circle cx="417.4" cy="464.8" r="1.01"/>
<circle cx="421.6" cy="464.7" r="1.30"/>
<circle cx="425.0" cy="465.2" r="1.48"/>
<circle cx="428.2" cy="465.8" r="1.52"/>
<circle cx="433.0" cy="464.0" r="1.48"/>
<circle cx="436.2" cy="464.4" r="1.12"/>
<circle cx="438.4" cy="463.9" r="1.05"/>
<circle cx="442.9" cy="465.5" r="1.54"/>
<circle cx="445.7" cy="465.6" r="1.02"/>
<circle cx="450.8" cy="463.9" r="1.11"/>
<circle cx="452.8" cy="465.6" r="1.40"/>
<circle cx="457.9" cy="464.0" r="1.46"/>
<circle cx="460.7" cy="465.4" r="1.22"/>
<circle cx="465.0" cy="463.7" r="1.29"/>
<circle cx="468.0" cy="464.6" r="1.37"/>
<circle cx="471.4" cy="464.2" r="1.42"/>
<circle cx="475.6" cy="465.3" r="0.70"/>
<circle cx="478.1" cy="465.1" r="1.42"/>
<circle cx="483.7" cy="465.2" r="1.21"/>
<circle cx="259.4" cy="467.0" r="0.70"/>
<circle cx="263.8" cy="468.0" r="1.06"/>
<circle cx="267.2" cy="468.3" r="1.42"/>
<circle cx="271.3" cy="467.0" r="1.29"/>
<circle cx="273.8" cy="467.6" r="1.26"/>
<circle cx="277.2" cy="467.4" r="1.20"/>
<circle cx="282.8" cy="468.6" r="1.49"/>
<circle cx="285.4" cy="468.2" r="0.97"/>
<circle cx="289.7" cy="467.5" r="1.32"/>
<circle cx="293.5" cy="467.7" r="1.23"/>
<circle cx="297.0" cy="468.9" r="1.20"/>
<circle cx="299.4" cy="468.3" r="1.32"/>
<circle cx="302.4" cy="467.9" r="0.70"/>
<circle cx="307.3" cy="467.6" r="1.02"/>
<circle cx="311.7" cy="467.3" r="1.23"/>
<circle cx="313.4" cy="466.8" r="1.31"/>
<circle cx="316.9" cy="468.6" r="1.41"/>
<circle cx="321.0" cy="468.8" r="1.08"/>
<circle cx="325.3" cy="468.8" r="1.28"/>
<circle cx="329.8" cy="467.8" r="1.14"/>
<circle cx="333.5" cy="467.1" r="1.47"/>
<circle cx="335.4" cy="467.3" r="0.98"/>
<circle cx="338.7" cy="468.6" r="1.43"/>
<circle cx="342.4" cy="468.6" r="1.00"/>
<circle cx="347.6" cy="467.1" r="1.39"/>
<circle cx="350.5" cy="467.7" r="1.49"/>
<circle cx="355.2" cy="468.3" r="1.22"/>
<circle cx="358.6" cy="468.4" r="1.03"/>
<circle cx="360.9" cy="467.8" r="1.05"/>
<circle cx="364.9" cy="468.4" r="1.38"/>
<circle cx="369.5" cy="468.4" r="1.10"/>
<circle cx="372.7" cy="467.0" r="0.96"/>
<circle cx="375.1" cy="468.7" r="1.52"/>
<circle cx="379.5" cy="466.9" r="1.00"/>
<circle cx="383.4" cy="467.4" r="1.07"/>
<circle cx="387.3" cy="467.4" r="0.98"/>
<circle cx="389.9" cy="467.2" r="1.29"/>
<circle cx="394.0" cy="467.8" r="1.27"/>
<circle cx="397.6" cy="468.9" r="1.08"/>
<circle cx="401.1" cy="467.8" r="1.16"/>
<circle cx="405.8" cy="467.1" r="1.22"/>
<circle cx="407.3" cy="468.3" r="1.17"/>
<circle cx="412.5" cy="467.4" r="0.99"/>
<circle cx="416.7" cy="467.8" r="1.51"/>
<circle cx="419.7" cy="468.2" r="1.41"/>
<circle cx="423.3" cy="468.4" r="1.10"/>
<circle cx="426.8" cy="467.9" r="1.33"/>
<circle cx="429.6" cy="468.8" r="1.08"/>
<circle cx="434.0" cy="467.9" r="1.01"/>
<circle cx="438.0" cy="467.1" r="1.24"/>
<circle cx="440.1" cy="468.9" r="1.21"/>
<circle cx="443.7" cy="467.1" r="1.26"/>
<circle cx="449.2" cy="467.7" r="1.26"/>
<circle cx="452.6" cy="467.1" r="1.13"/>
<circle cx="456.0" cy="468.7" r="1.21"/>
<circle cx="460.0" cy="467.0" r="1.41"/>
<circle cx="463.6" cy="467.4" r="1.47"/>
<circle cx="465.9" cy="467.2" r="1.33"/>
<circle cx="470.1" cy="467.5" r="1.35"/>
<circle cx="474.0" cy="467.4" r="1.30"/>
<circle cx="476.5" cy="467.5" r="1.38"/>
<circle cx="481.7" cy="466.9" r="1.18"/>
<circle cx="485.3" cy="467.9" r="1.15"/>
<circle cx="261.7" cy="470.7" r="0.96"/>
<circle cx="266.3" cy="470.8" r="1.22"/>
<circle cx="270.1" cy="472.0" r="1.40"/>
<circle cx="272.4" cy="470.7" r="1.43"/>
<circle cx="277.0" cy="470.3" r="1.09"/>
<circle cx="279.6" cy="471.2" r="1.21"/>
<circle cx="282.4" cy="471.7" r="1.50"/>
<circle cx="286.8" cy="471.4" r="1.08"/>
<circle cx="291.4" cy="471.2" r="1.40"/>
<circle cx="295.0" cy="471.9" r="1.41"/>
<circle cx="298.5" cy="470.1" r="1.07"/>
<circle cx="300.7" cy="471.8" r="1.38"/>
<circle cx="306.1" cy="471.5" r="1.08"/>
<circle cx="309.3" cy="471.3" r="1.30"/>
<circle cx="312.1" cy="471.8" r="1.53"/>
<circle cx="316.0" cy="470.5" r="1.25"/>
<circle cx="320.1" cy="470.1" r="1.13"/>
<circle cx="322.5" cy="470.6" r="1.27"/>
<circle cx="326.7" cy="471.9" r="1.25"/>
<circle cx="330.2" cy="470.6" r="1.05"/>
<circle cx="334.4" cy="472.0" r="1.25"/>
<circle cx="337.1" cy="472.0" r="0.99"/>
<circle cx="342.5" cy="470.1" r="1.52"/>
<circle cx="344.1" cy="470.8" r="1.43"/>
<circle cx="348.8" cy="471.9" r="1.20"/>
<circle cx="351.4" cy="471.4" r="1.08"/>
<circle cx="355.5" cy="470.0" r="1.22"/>
<circle cx="359.6" cy="469.9" r="1.21"/>
<circle cx="362.9" cy="471.3" r="1.39"/>
<circle cx="366.6" cy="470.6" r="1.32"/>
<circle cx="369.8" cy="470.2" r="1.37"/>
<circle cx="374.6" cy="471.1" r="1.01"/>
<circle cx="378.6" cy="471.8" r="1.34"/>
<circle cx="382.4" cy="471.7" r="1.47"/>
<circle cx="385.8" cy="470.6" r="1.52"/>
<circle cx="389.2" cy="472.0" r="1.36"/>
<circle cx="391.3" cy="471.5" r="1.00"/>
<circle cx="396.4" cy="471.9" r="1.39"/>
<circle cx="399.6" cy="471.0" r="1.48"/>
<circle cx="402.8" cy="471.5" r="1.42"/>
<circle cx="406.3" cy="471.4" r="1.29"/>
<circle cx="409.7" cy="470.2" r="1.26"/>
<circle cx="414.4" cy="471.2" r="1.03"/>
<circle cx="418.1" cy="470.0" r="1.39"/>
<circle cx="422.0" cy="471.9" r="1.32"/>
<circle cx="424.0" cy="471.5" r="1.37"/>
<circle cx="428.2" cy="470.4" r="1.18"/>
<circle cx="432.3" cy="471.4" r="1.32"/>
<circle cx="435.1" cy="471.3" r="1.43"/>
<circle cx="438.5" cy="470.6" r="1.14"/>
<circle cx="443.2" cy="470.8" r="1.07"/>
<circle cx="446.6" cy="471.9" r="1.21"/>
<circle cx="449.1" cy="471.9" r="0.97"/>
<circle cx="453.9" cy="470.8" r="0.97"/>
<circle cx="457.5" cy="470.3" r="1.17"/>
<circle cx="460.9" cy="471.9" r="1.30"/>
<circle cx="465.2" cy="470.0" r="1.01"/>
<circle cx="468.1" cy="470.8" r="1.47"/>
<circle cx="471.7" cy="471.7" r="1.38"/>
<circle cx="474.9" cy="471.8" r="1.32"/>
<circle cx="479.9" cy="471.1" r="1.48"/>
<circle cx="482.9" cy="470.8" r="0.95"/>
<circle cx="260.0" cy="473.8" r="1.14"/>
<circle cx="263.9" cy="475.2" r="1.39"/>
<circle cx="266.8" cy="473.1" r="1.04"/>
<circle cx="270.0" cy="474.7" r="1.54"/>
<circle cx="274.5" cy="473.5" r="1.45"/>
<circle cx="277.0" cy="474.1" r="1.50"/>
<circle cx="281.8" cy="473.1" r="1.23"/>
<circle cx="285.7" cy="473.9" r="1.19"/>
<circle cx="289.6" cy="473.6" r="1.28"/>
<circle cx="292.6" cy="473.1" r="1.33"/>
<circle cx="297.2" cy="474.2" r="1.05"/>
<circle cx="299.6" cy="474.3" r="1.39"/>
<circle cx="303.5" cy="473.2" r="1.14"/>
<circle cx="307.1" cy="474.1" r="1.08"/>
<circle cx="309.6" cy="475.1" r="1.47"/>
<circle cx="315.4" cy="474.7" r="1.26"/>
<circle cx="318.4" cy="474.9" r="1.42"/>
<circle cx="322.4" cy="473.5" r="1.43"/>
<circle cx="324.2" cy="473.4" r="1.36"/>
<circle cx="328.0" cy="473.1" r="1.51"/>
<circle cx="333.3" cy="473.2" r="1.40"/>
<circle cx="335.7" cy="473.7" r="1.38"/>
<circle cx="338.9" cy="473.1" r="0.98"/>
<circle cx="343.8" cy="474.3" r="1.53"/>
<circle cx="347.7" cy="474.2" r="1.26"/>
<circle cx="350.8" cy="473.4" r="1.28"/>
<circle cx="354.1" cy="474.1" r="1.25"/>
<circle cx="357.3" cy="473.4" r="1.55"/>
<circle cx="360.9" cy="474.9" r="1.42"/>
<circle cx="364.5" cy="473.5" r="0.96"/>
<circle cx="369.5" cy="475.2" r="1.33"/>
<circle cx="371.2" cy="474.3" r="1.53"/>
<circle cx="374.8" cy="475.1" r="1.32"/>
<circle cx="378.5" cy="474.9" r="1.30"/>
<circle cx="382.7" cy="473.1" r="1.33"/>
<circle cx="385.9" cy="473.4" r="1.01"/>
<circle cx="390.9" cy="473.3" r="1.06"/>
<circle cx="393.4" cy="474.4" r="1.06"/>
<circle cx="397.7" cy="473.3" r="1.15"/>
<circle cx="400.6" cy="473.3" r="0.70"/>
<circle cx="403.8" cy="473.3" r="1.13"/>
<circle cx="409.3" cy="473.9" r="1.39"/>
<circle cx="413.1" cy="473.5" r="1.37"/>
<circle cx="416.2" cy="473.2" r="1.45"/>
<circle cx="419.5" cy="473.1" r="0.70"/>
<circle cx="423.0" cy="474.4" r="1.01"/>
<circle cx="426.3" cy="473.4" r="1.30"/>
<circle cx="429.5" cy="473.5" r="1.42"/>
<circle cx="433.2" cy="473.4" r="1.35"/>
<circle cx="437.2" cy="473.4" r="0.96"/>
<circle cx="441.2" cy="473.2" r="1.33"/>
<circle cx="444.0" cy="475.1" r="1.05"/>
<circle cx="448.1" cy="475.2" r="1.24"/>
<circle cx="452.3" cy="473.7" r="1.23"/>
<circle cx="455.1" cy="473.5" r="1.05"/>
<circle cx="460.0" cy="473.4" r="1.55"/>
<circle cx="463.3" cy="474.1" r="1.23"/>
<circle cx="465.3" cy="474.2" r="1.10"/>
<circle cx="470.2" cy="473.7" r="1.45"/>
<circle cx="473.9" cy="474.7" r="1.39"/>
<circle cx="478.0" cy="474.7" r="1.41"/>
<circle cx="480.2" cy="475.2" r="1.39"/>
<circle cx="484.0" cy="473.7" r="1.48"/>
<circle cx="262.2" cy="476.5" r="1.12"/>
<circle cx="264.3" cy="476.9" r="1.29"/>
<circle cx="269.5" cy="478.2" r="1.07"/>
<circle cx="272.1" cy="476.7" r="1.34"/>
<circle cx="275.2" cy="477.7" r="0.99"/>
<circle cx="279.0" cy="477.3" r="1.49"/>
<circle cx="282.9" cy="478.2" r="1.50"/>
<circle cx="287.7" cy="476.7" r="0.96"/>
<circle cx="291.0" cy="477.9" r="1.04"/>
<circle cx="293.9" cy="476.8" r="1.16"/>
<circle cx="297.7" cy="477.8" r="1.34"/>
<circle cx="301.8" cy="478.3" r="1.17"/>
<circle cx="304.6" cy="476.6" r="1.16"/>
<circle cx="309.8" cy="477.2" r="1.16"/>
<circle cx="312.6" cy="477.2" r="1.55"/>
<circle cx="315.8" cy="477.4" r="1.23"/>
<circle cx="319.0" cy="478.0" r="1.12"/>
<circle cx="322.3" cy="476.7" r="1.14"/>
<circle cx="327.3" cy="476.5" r="1.13"/>
<circle cx="330.7" cy="477.5" r="1.05"/>
<circle cx="334.8" cy="478.4" r="1.05"/>
<circle cx="338.7" cy="478.4" r="1.19"/>
<circle cx="341.7" cy="478.2" r="0.70"/>
<circle cx="345.8" cy="477.2" r="1.01"/>
<circle cx="347.6" cy="476.6" r="1.40"/>
<circle cx="352.3" cy="477.5" r="1.31"/>
<circle cx="355.6" cy="477.6" r="1.09"/>
<circle cx="360.5" cy="477.6" r="1.05"/>
<circle cx="363.4" cy="477.2" r="0.70"/>
<circle cx="366.5" cy="477.0" r="1.02"/>
<circle cx="371.0" cy="478.3" r="1.10"/>
<circle cx="374.5" cy="476.7" r="1.31"/>
<circle cx="377.9" cy="477.4" r="1.10"/>
<circle cx="380.9" cy="477.3" r="1.20"/>
<circle cx="383.9" cy="478.4" r="1.16"/>
<circle cx="389.4" cy="476.6" r="1.06"/>
<circle cx="391.0" cy="476.7" r="1.32"/>
<circle cx="395.0" cy="477.4" r="1.34"/>
<circle cx="399.8" cy="477.9" r="1.00"/>
<circle cx="403.5" cy="477.2" r="1.37"/>
<circle cx="407.2" cy="477.8" r="1.21"/>
<circle cx="410.6" cy="477.3" r="1.44"/>
<circle cx="413.5" cy="477.5" r="1.54"/>
<circle cx="417.0" cy="476.4" r="1.34"/>
<circle cx="421.0" cy="477.0" r="1.17"/>
<circle cx="424.0" cy="477.2" r="1.04"/>
<circle cx="428.3" cy="477.1" r="1.14"/>
<circle cx="431.4" cy="477.4" r="1.53"/>
<circle cx="435.4" cy="477.7" r="1.25"/>
<circle cx="440.0" cy="476.7" r="1.25"/>
<circle cx="442.7" cy="477.6" r="1.07"/>
<circle cx="445.9" cy="477.2" r="1.14"/>
<circle cx="451.0" cy="477.6" r="1.14"/>
<circle cx="454.0" cy="477.5" r="1.29"/>
<circle cx="457.5" cy="477.9" r="1.29"/>
<circle cx="460.6" cy="477.0" r="1.11"/>
<circle cx="465.1" cy="477.4" r="1.26"/>
<circle cx="469.2" cy="476.3" r="1.29"/>
<circle cx="472.4" cy="478.3" r="1.30"/>
<circle cx="474.7" cy="478.4" r="1.22"/>
<circle cx="478.0" cy="476.9" r="1.37"/>
<circle cx="481.6" cy="476.9" r="1.37"/>
<circle cx="259.3" cy="480.6" r="1.47"/>
<circle cx="263.9" cy="480.4" r="1.09"/>
<circle cx="267.4" cy="480.0" r="1.37"/>
<circle cx="271.1" cy="479.8" r="1.36"/>
<circle cx="275.3" cy="480.3" r="1.51"/>
<circle cx="277.9" cy="480.0" r="1.18"/>
<circle cx="281.4" cy="480.6" r="1.40"/>
<circle cx="286.3" cy="480.8" r="1.39"/>
<circle cx="288.6" cy="481.0" r="1.24"/>
<circle cx="293.0" cy="480.9" r="0.98"/>
<circle cx="297.2" cy="479.4" r="1.52"/>
<circle cx="300.8" cy="480.2" r="1.22"/>
<circle cx="303.0" cy="479.8" r="1.34"/>
<circle cx="306.0" cy="480.0" r="1.49"/>
<circle cx="309.9" cy="480.4" r="1.31"/>
<circle cx="315.0" cy="481.5" r="1.34"/>
<circle cx="317.7" cy="479.9" r="1.36"/>
<circle cx="322.1" cy="479.7" r="1.55"/>
<circle cx="325.6" cy="479.8" r="1.05"/>
<circle cx="329.4" cy="480.5" r="1.54"/>
<circle cx="332.1" cy="479.9" r="1.46"/>
<circle cx="336.5" cy="480.4" r="1.11"/>
<circle cx="338.8" cy="480.9" r="1.31"/>
<circle cx="344.1" cy="479.6" r="1.33"/>
<circle cx="346.3" cy="480.8" r="1.26"/>
<circle cx="349.9" cy="480.1" r="1.18"/>
<circle cx="354.5" cy="480.1" r="1.19"/>
<circle cx="356.8" cy="480.8" r="1.25"/>
<circle cx="361.2" cy="479.7" r="1.03"/>
<circle cx="364.6" cy="479.9" r="1.07"/>
<circle cx="369.0" cy="480.7" r="0.96"/>
<circle cx="372.0" cy="479.7" r="1.40"/>
<circle cx="376.6" cy="480.4" r="1.09"/>
<circle cx="378.5" cy="480.1" r="1.17"/>
<circle cx="383.4" cy="480.0" r="1.52"/>
<circle cx="385.7" cy="479.8" r="1.35"/>
<circle cx="389.7" cy="480.1" r="1.54"/>
<circle cx="393.6" cy="480.9" r="1.53"/>
<circle cx="397.4" cy="481.4" r="1.30"/>
<circle cx="402.1" cy="479.4" r="1.02"/>
<circle cx="404.3" cy="481.5" r="1.38"/>
<circle cx="408.6" cy="480.3" r="1.24"/>
<circle cx="413.0" cy="481.0" r="0.99"/>
<circle cx="416.6" cy="480.2" r="1.03"/>
<circle cx="419.4" cy="480.1" r="1.28"/>
<circle cx="422.8" cy="480.7" r="1.31"/>
<circle cx="426.6" cy="479.8" r="1.11"/>
<circle cx="431.1" cy="479.6" r="0.98"/>
<circle cx="434.7" cy="481.3" r="1.08"/>
<circle cx="436.4" cy="481.1" r="0.99"/>
<circle cx="440.7" cy="480.0" r="1.16"/>
<circle cx="444.3" cy="479.8" r="0.97"/>
<circle cx="449.0" cy="481.0" r="1.28"/>
<circle cx="451.8" cy="479.9" r="1.23"/>
<circle cx="454.8" cy="480.5" r="1.23"/>
<circle cx="458.2" cy="481.3" r="1.49"/>
<circle cx="463.5" cy="480.3" r="1.47"/>
<circle cx="465.4" cy="481.5" r="1.17"/>
<circle cx="469.3" cy="480.1" r="1.45"/>
<circle cx="473.1" cy="479.6" r="1.02"/>
<circle cx="477.1" cy="479.6" r="1.14"/>
<circle cx="481.1" cy="480.5" r="1.41"/>
<circle cx="485.2" cy="480.8" r="1.31"/>
<circle cx="261.4" cy="483.1" r="1.47"/>
<circle cx="265.9" cy="484.0" r="0.70"/>
<circle cx="268.1" cy="483.4" r="1.12"/>
<circle cx="271.8" cy="483.8" r="1.14"/>
<circle cx="277.0" cy="484.3" r="1.24"/>
<circle cx="279.1" cy="483.8" r="1.40"/>
<circle cx="284.2" cy="484.2" r="1.07"/>
<circle cx="286.2" cy="483.0" r="1.28"/>
<circle cx="291.1" cy="483.8" r="1.38"/>
<circle cx="293.4" cy="483.1" r="1.30"/>
<circle cx="297.8" cy="483.7" r="1.46"/>
<circle cx="301.6" cy="483.4" r="1.01"/>
<circle cx="306.3" cy="483.6" r="1.23"/>
<circle cx="308.3" cy="483.4" r="1.10"/>
<circle cx="312.5" cy="484.2" r="1.41"/>
<circle cx="317.2" cy="483.7" r="1.18"/>
<circle cx="318.7" cy="483.2" r="1.32"/>
<circle cx="322.5" cy="483.5" r="1.03"/>
<circle cx="327.0" cy="484.1" r="1.15"/>
<circle cx="330.2" cy="482.8" r="1.43"/>
<circle cx="334.6" cy="484.1" r="1.26"/>
<circle cx="337.1" cy="483.7" r="0.70"/>
<circle cx="342.0" cy="484.5" r="1.31"/>
<circle cx="345.0" cy="484.1" r="0.97"/>
<circle cx="349.2" cy="484.2" r="1.50"/>
<circle cx="351.3" cy="484.1" r="1.54"/>
<circle cx="356.7" cy="482.5" r="1.36"/>
<circle cx="359.1" cy="483.8" r="1.31"/>
<circle cx="364.1" cy="482.7" r="1.05"/>
<circle cx="367.4" cy="483.5" r="1.47"/>
<circle cx="369.9" cy="482.6" r="1.45"/>
<circle cx="374.3" cy="483.5" r="1.28"/>
<circle cx="376.8" cy="484.2" r="1.22"/>
<circle cx="381.4" cy="482.6" r="1.40"/>
<circle cx="384.5" cy="483.0" r="0.98"/>
<circle cx="388.9" cy="484.2" r="1.23"/>
<circle cx="391.9" cy="483.6" r="1.44"/>
<circle cx="395.7" cy="483.2" r="0.98"/>
<circle cx="400.1" cy="484.2" r="0.96"/>
<circle cx="402.2" cy="484.5" r="0.70"/>
<circle cx="407.2" cy="482.5" r="1.44"/>
<circle cx="411.0" cy="482.6" r="1.03"/>
<circle cx="414.1" cy="484.1" r="1.03"/>
<circle cx="418.2" cy="484.2" r="1.46"/>
<circle cx="421.8" cy="483.6" r="1.23"/>
<circle cx="425.4" cy="482.9" r="1.11"/>
<circle cx="427.7" cy="482.7" r="1.43"/>
<circle cx="431.1" cy="482.6" r="1.26"/>
<circle cx="435.9" cy="483.8" r="1.24"/>
<circle cx="438.9" cy="483.5" r="1.54"/>
<circle cx="443.1" cy="483.9" r="1.32"/>
<circle cx="445.6" cy="483.0" r="1.07"/>
<circle cx="449.6" cy="484.4" r="1.01"/>
<circle cx="454.2" cy="482.6" r="0.98"/>
<circle cx="457.1" cy="483.6" r="1.30"/>
<circle cx="461.8" cy="483.0" r="1.22"/>
<circle cx="463.8" cy="483.7" r="1.46"/>
<circle cx="467.4" cy="482.6" r="1.19"/>
<circle cx="472.1" cy="482.7" r="1.53"/>
<circle cx="475.3" cy="483.8" r="1.53"/>
<circle cx="478.7" cy="484.6" r="1.31"/>
<circle cx="482.2" cy="483.8" r="1.38"/>
<circle cx="260.8" cy="486.9" r="1.00"/>
<circle cx="262.8" cy="487.7" r="1.52"/>
<circle cx="266.4" cy="486.9" r="1.33"/>
<circle cx="271.7" cy="485.9" r="0.70"/>
<circle cx="275.5" cy="486.7" r="1.31"/>
<circle cx="277.4" cy="486.3" r="1.34"/>
<circle cx="282.3" cy="486.5" r="1.30"/>
<circle cx="285.1" cy="487.7" r="1.44"/>
<circle cx="289.1" cy="486.9" r="1.09"/>
<circle cx="292.4" cy="486.9" r="1.45"/>
<circle cx="296.2" cy="486.6" r="0.97"/>
<circle cx="300.4" cy="487.0" r="1.00"/>
<circle cx="304.3" cy="487.5" r="1.40"/>
<circle cx="306.5" cy="486.4" r="1.20"/>
<circle cx="310.0" cy="487.1" r="1.46"/>
<circle cx="313.6" cy="486.1" r="1.45"/>
<circle cx="317.5" cy="486.9" r="1.39"/>
<circle cx="321.7" cy="487.4" r="1.28"/>
<circle cx="325.0" cy="487.5" r="1.51"/>
<circle cx="329.0" cy="487.5" r="1.02"/>
<circle cx="332.0" cy="486.9" r="1.42"/>
<circle cx="336.2" cy="487.3" r="1.17"/>
<circle cx="340.2" cy="486.6" r="0.70"/>
<circle cx="343.5" cy="487.2" r="1.37"/>
<circle cx="346.9" cy="487.0" r="1.38"/>
<circle cx="349.6" cy="486.1" r="1.35"/>
<circle cx="354.0" cy="485.7" r="1.33"/>
<circle cx="356.9" cy="485.9" r="1.15"/>
<circle cx="361.3" cy="486.9" r="0.70"/>
<circle cx="364.0" cy="487.5" r="1.06"/>
<circle cx="368.4" cy="486.0" r="1.29"/>
<circle cx="371.7" cy="486.9" r="1.17"/>
<circle cx="376.2" cy="486.2" r="1.53"/>
<circle cx="378.7" cy="486.2" r="1.43"/>
<circle cx="383.8" cy="486.1" r="1.19"/>
<circle cx="386.8" cy="487.7" r="1.42"/>
<circle cx="389.5" cy="487.8" r="1.55"/>
<circle cx="394.5" cy="487.2" r="1.51"/>
<circle cx="397.7" cy="486.8" r="1.32"/>
<circle cx="401.4" cy="485.8" r="1.47"/>
<circle cx="404.3" cy="487.2" r="1.04"/>
<circle cx="408.4" cy="487.7" r="1.54"/>
<circle cx="411.0" cy="486.0" r="1.43"/>
<circle cx="416.4" cy="486.7" r="1.21"/>
<circle cx="419.0" cy="487.4" r="1.30"/>
<circle cx="421.9" cy="486.7" r="1.15"/>
<circle cx="425.5" cy="486.7" r="1.40"/>
<circle cx="430.5" cy="486.4" r="1.08"/>
<circle cx="434.0" cy="487.1" r="1.28"/>
<circle cx="436.5" cy="486.0" r="1.47"/>
<circle cx="441.2" cy="486.0" r="1.10"/>
<circle cx="445.7" cy="486.2" r="1.21"/>
<circle cx="448.1" cy="487.7" r="0.70"/>
<circle cx="451.7" cy="486.9" r="0.70"/>
<circle cx="455.9" cy="486.6" r="1.49"/>
<circle cx="459.3" cy="487.3" r="1.39"/>
<circle cx="462.9" cy="487.3" r="1.42"/>
<circle cx="466.9" cy="487.4" r="1.44"/>
<circle cx="471.0" cy="487.5" r="1.01"/>
<circle cx="472.7" cy="486.8" r="1.04"/>
<circle cx="476.9" cy="486.9" r="1.14"/>
<circle cx="479.7" cy="487.6" r="1.18"/>
<circle cx="483.5" cy="485.8" r="1.27"/>
<circle cx="262.8" cy="489.3" r="1.48"/>
<circle cx="265.2" cy="490.0" r="1.00"/>
<circle cx="269.7" cy="490.6" r="1.31"/>
<circle cx="271.9" cy="489.7" r="0.70"/>
<circle cx="275.9" cy="490.6" r="1.31"/>
<circle cx="279.1" cy="489.9" r="1.09"/>
<circle cx="284.6" cy="490.1" r="1.52"/>
<circle cx="286.5" cy="490.6" r="1.35"/>
<circle cx="291.7" cy="489.0" r="1.41"/>
<circle cx="293.3" cy="490.0" r="1.25"/>
<circle cx="297.6" cy="488.9" r="1.27"/>
<circle cx="302.3" cy="488.8" r="1.30"/>
<circle cx="306.1" cy="490.5" r="1.18"/>
<circle cx="307.8" cy="489.7" r="1.05"/>
<circle cx="312.5" cy="489.8" r="1.00"/>
<circle cx="315.4" cy="489.1" r="1.02"/>
<circle cx="319.8" cy="489.9" r="1.20"/>
<circle cx="322.4" cy="489.6" r="0.70"/>
<circle cx="327.3" cy="490.7" r="1.53"/>
<circle cx="330.2" cy="489.4" r="1.00"/>
<circle cx="334.6" cy="489.8" r="0.98"/>
<circle cx="338.6" cy="490.1" r="1.19"/>
<circle cx="340.5" cy="489.3" r="1.54"/>
<circle cx="344.3" cy="490.6" r="0.96"/>
<circle cx="348.4" cy="489.1" r="1.44"/>
<circle cx="352.9" cy="490.1" r="1.33"/>
<circle cx="356.6" cy="490.2" r="0.70"/>
<circle cx="359.4" cy="489.9" r="1.40"/>
<circle cx="363.1" cy="489.9" r="1.32"/>
<circle cx="366.7" cy="490.8" r="1.06"/>
<circle cx="370.6" cy="490.4" r="1.49"/>
<circle cx="374.8" cy="489.6" r="1.07"/>
<circle cx="377.6" cy="489.9" r="1.36"/>
<circle cx="380.3" cy="489.0" r="1.10"/>
<circle cx="384.6" cy="488.8" r="1.06"/>
<circle cx="388.6" cy="489.4" r="0.70"/>
<circle cx="392.6" cy="489.5" r="1.43"/>
<circle cx="396.7" cy="489.2" r="1.04"/>
<circle cx="399.8" cy="490.4" r="1.21"/>
<circle cx="403.9" cy="490.5" r="1.43"/>
<circle cx="405.8" cy="490.6" r="1.04"/>
<circle cx="409.7" cy="489.6" r="1.11"/>
<circle cx="413.9" cy="490.7" r="1.16"/>
<circle cx="418.1" cy="489.3" r="1.01"/>
<circle cx="421.5" cy="490.8" r="1.36"/>
<circle cx="425.2" cy="490.4" r="1.54"/>
<circle cx="427.6" cy="490.9" r="1.36"/>
<circle cx="432.8" cy="490.7" r="1.19"/>
<circle cx="434.8" cy="490.8" r="1.37"/>
<circle cx="438.6" cy="490.4" r="1.52"/>
<circle cx="442.7" cy="488.9" r="1.34"/>
<circle cx="446.3" cy="489.7" r="1.51"/>
<circle cx="449.2" cy="489.9" r="1.34"/>
<circle cx="453.9" cy="488.8" r="1.39"/>
<circle cx="458.2" cy="490.7" r="1.13"/>
<circle cx="461.3" cy="490.2" r="1.39"/>
<circle cx="464.3" cy="490.5" r="1.31"/>
<circle cx="467.3" cy="490.3" r="1.13"/>
<circle cx="472.5" cy="489.7" r="0.70"/>
<circle cx="475.5" cy="490.3" r="1.00"/>
<circle cx="478.7" cy="489.8" r="1.31"/>
<circle cx="483.1" cy="489.2" r="1.39"/>
<circle cx="260.2" cy="493.2" r="1.49"/>
<circle cx="262.6" cy="493.4" r="1.27"/>
<circle cx="266.7" cy="492.8" r="1.20"/>
<circle cx="271.8" cy="492.5" r="1.22"/>
<circle cx="274.1" cy="492.4" r="1.18"/>
<circle cx="277.6" cy="492.6" r="1.23"/>
<circle cx="282.0" cy="493.3" r="1.23"/>
<circle cx="285.4" cy="493.3" r="1.16"/>
<circle cx="289.6" cy="493.7" r="1.04"/>
<circle cx="292.8" cy="493.8" r="1.22"/>
<circle cx="296.4" cy="491.9" r="1.53"/>
<circle cx="299.6" cy="493.7" r="1.07"/>
<circle cx="303.7" cy="492.7" r="1.46"/>
<circle cx="306.4" cy="493.1" r="0.70"/>
<circle cx="311.1" cy="492.4" r="1.26"/>
<circle cx="314.8" cy="492.8" r="1.42"/>
<circle cx="318.9" cy="492.6" r="1.05"/>
<circle cx="322.5" cy="493.4" r="1.14"/>
<circle cx="325.6" cy="493.4" r="1.03"/>
<circle cx="329.5" cy="493.2" r="1.53"/>
<circle cx="331.7" cy="493.0" r="1.38"/>
<circle cx="335.6" cy="492.2" r="1.45"/>
<circle cx="338.8" cy="492.9" r="1.52"/>
<circle cx="343.4" cy="492.1" r="1.54"/>
<circle cx="347.0" cy="492.5" r="1.52"/>
<circle cx="350.8" cy="493.6" r="1.44"/>
<circle cx="354.9" cy="493.4" r="1.16"/>
<circle cx="357.9" cy="493.1" r="1.35"/>
<circle cx="362.1" cy="493.8" r="1.05"/>
<circle cx="364.2" cy="492.7" r="0.70"/>
<circle cx="369.6" cy="492.3" r="1.46"/>
<circle cx="372.3" cy="493.9" r="1.16"/>
<circle cx="376.4" cy="493.0" r="1.24"/>
<circle cx="378.5" cy="492.4" r="1.16"/>
<circle cx="384.0" cy="493.3" r="1.04"/>
<circle cx="387.8" cy="493.6" r="1.13"/>
<circle cx="389.5" cy="493.1" r="1.38"/>
<circle cx="393.6" cy="493.1" r="1.32"/>
<circle cx="397.1" cy="492.3" r="1.52"/>
<circle cx="400.4" cy="492.3" r="1.28"/>
<circle cx="405.0" cy="494.0" r="1.15"/>
<circle cx="407.7" cy="493.6" r="1.09"/>
<circle cx="413.0" cy="492.2" r="1.15"/>
<circle cx="415.1" cy="492.4" r="1.48"/>
<circle cx="419.0" cy="493.4" r="1.32"/>
<circle cx="423.3" cy="492.2" r="1.36"/>
<circle cx="427.2" cy="492.0" r="1.06"/>
<circle cx="430.8" cy="492.6" r="1.18"/>
<circle cx="434.2" cy="492.5" r="0.70"/>
<circle cx="436.8" cy="492.2" r="1.02"/>
<circle cx="441.7" cy="493.0" r="1.50"/>
<circle cx="444.6" cy="493.1" r="1.37"/>
<circle cx="447.7" cy="493.3" r="1.34"/>
<circle cx="451.7" cy="493.7" r="1.03"/>
<circle cx="455.8" cy="493.6" r="1.15"/>
<circle cx="458.6" cy="492.4" r="1.34"/>
<circle cx="461.7" cy="492.1" r="1.02"/>
<circle cx="465.3" cy="493.5" r="1.33"/>
<circle cx="469.4" cy="492.2" r="1.51"/>
<circle cx="473.1" cy="492.9" r="1.28"/>
<circle cx="477.3" cy="492.5" r="1.00"/>
<circle cx="481.5" cy="493.4" r="1.08"/>
<circle cx="484.4" cy="493.4" r="0.97"/>
<circle cx="262.4" cy="496.8" r="1.43"/>
<circle cx="264.9" cy="496.9" r="1.49"/>
<circle cx="269.1" cy="497.0" r="0.96"/>
<circle cx="272.0" cy="495.4" r="1.21"/>
<circle cx="275.8" cy="495.4" r="1.45"/>
<circle cx="279.8" cy="496.7" r="1.34"/>
<circle cx="283.3" cy="495.3" r="0.99"/>
<circle cx="286.8" cy="495.1" r="1.27"/>
<circle cx="291.7" cy="495.6" r="1.16"/>
<circle cx="294.8" cy="495.3" r="1.17"/>
<circle cx="298.5" cy="496.5" r="1.23"/>
<circle cx="301.6" cy="495.5" r="1.26"/>
<circle cx="304.3" cy="497.0" r="1.32"/>
<circle cx="309.2" cy="495.1" r="1.54"/>
<circle cx="311.5" cy="495.7" r="1.00"/>
<circle cx="316.5" cy="496.1" r="1.24"/>
<circle cx="319.7" cy="497.1" r="1.36"/>
<circle cx="324.1" cy="495.5" r="1.07"/>
<circle cx="326.7" cy="496.0" r="1.35"/>
<circle cx="330.7" cy="497.1" r="1.37"/>
<circle cx="334.5" cy="495.6" r="1.48"/>
<circle cx="338.7" cy="496.6" r="1.16"/>
<circle cx="342.1" cy="496.5" r="1.46"/>
<circle cx="344.3" cy="495.4" r="1.26"/>
<circle cx="348.4" cy="495.2" r="1.24"/>
<circle cx="353.0" cy="497.2" r="1.26"/>
<circle cx="355.3" cy="495.0" r="0.96"/>
<circle cx="359.0" cy="495.9" r="1.45"/>
<circle cx="363.9" cy="496.4" r="1.54"/>
<circle cx="366.3" cy="495.8" r="1.54"/>
<circle cx="370.1" cy="495.6" r="1.43"/>
<circle cx="375.1" cy="495.5" r="1.42"/>
<circle cx="377.6" cy="496.9" r="1.10"/>
<circle cx="380.7" cy="496.7" r="1.32"/>
<circle cx="385.5" cy="496.0" r="1.34"/>
<circle cx="389.4" cy="496.4" r="0.98"/>
<circle cx="393.0" cy="496.5" r="1.05"/>
<circle cx="396.3" cy="495.3" r="1.04"/>
<circle cx="398.8" cy="495.0" r="1.46"/>
<circle cx="404.0" cy="495.5" r="1.53"/>
<circle cx="407.2" cy="495.8" r="1.26"/>
<circle cx="410.7" cy="495.8" r="1.40"/>
<circle cx="413.9" cy="495.1" r="1.54"/>
<circle cx="416.4" cy="495.5" r="1.37"/>
<circle cx="420.2" cy="495.7" r="1.26"/>
<circle cx="424.1" cy="495.4" r="1.15"/>
<circle cx="429.3" cy="497.0" r="0.97"/>
<circle cx="431.6" cy="495.3" r="1.45"/>
<circle cx="434.5" cy="495.5" r="1.43"/>
<circle cx="440.3" cy="496.3" r="1.44"/>
<circle cx="443.4" cy="496.5" r="1.04"/>
<circle cx="445.5" cy="495.8" r="1.51"/>
<circle cx="449.5" cy="497.1" r="1.35"/>
<circle cx="453.8" cy="495.7" r="1.49"/>
<circle cx="457.4" cy="495.5" r="1.33"/>
<circle cx="460.2" cy="496.8" r="1.29"/>
<circle cx="463.5" cy="495.2" r="1.31"/>
<circle cx="468.9" cy="495.5" r="1.48"/>
<circle cx="470.7" cy="496.0" r="1.22"/>
<circle cx="476.4" cy="495.1" r="1.48"/>
<circle cx="478.7" cy="496.5" r="1.14"/>
<circle cx="481.6" cy="495.1" r="1.54"/>
<circle cx="260.5" cy="499.1" r="1.50"/>
<circle cx="262.9" cy="498.6" r="0.70"/>
<circle cx="267.0" cy="499.2" r="1.34"/>
<circle cx="271.6" cy="498.6" r="1.46"/>
<circle cx="275.4" cy="498.8" r="1.38"/>
<circle cx="278.9" cy="499.3" r="1.13"/>
<circle cx="282.8" cy="498.4" r="1.02"/>
<circle cx="286.2" cy="498.2" r="1.40"/>
<circle cx="289.7" cy="498.4" r="1.49"/>
<circle cx="291.8" cy="499.0" r="1.46"/>
<circle cx="297.0" cy="498.2" r="1.50"/>
<circle cx="300.8" cy="498.5" r="1.03"/>
<circle cx="302.8" cy="499.6" r="1.35"/>
<circle cx="306.5" cy="499.3" r="1.53"/>
<circle cx="310.1" cy="500.1" r="1.22"/>
<circle cx="313.9" cy="499.7" r="1.55"/>
<circle cx="318.1" cy="498.9" r="1.05"/>
<circle cx="321.0" cy="500.0" r="1.08"/>
<circle cx="324.9" cy="500.1" r="1.28"/>
<circle cx="327.7" cy="498.6" r="1.29"/>
<circle cx="332.5" cy="499.6" r="1.13"/>
<circle cx="337.0" cy="500.1" r="1.45"/>
<circle cx="340.7" cy="500.2" r="0.95"/>
<circle cx="342.7" cy="500.0" r="1.24"/>
<circle cx="346.3" cy="498.4" r="1.32"/>
<circle cx="350.9" cy="499.8" r="0.96"/>
<circle cx="355.1" cy="500.1" r="1.27"/>
<circle cx="358.5" cy="498.5" r="1.55"/>
<circle cx="361.7" cy="499.1" r="1.33"/>
<circle cx="364.9" cy="499.3" r="1.15"/>
<circle cx="368.5" cy="499.1" r="1.09"/>
<circle cx="373.3" cy="499.8" r="1.20"/>
<circle cx="374.9" cy="498.5" r="1.32"/>
<circle cx="380.4" cy="498.6" r="1.50"/>
<circle cx="383.7" cy="499.6" r="1.11"/>
<circle cx="387.4" cy="499.1" r="1.44"/>
<circle cx="390.8" cy="498.6" r="0.70"/>
<circle cx="393.2" cy="498.3" r="1.06"/>
<circle cx="396.9" cy="498.9" r="1.22"/>
<circle cx="400.5" cy="500.3" r="1.06"/>
<circle cx="404.6" cy="499.4" r="1.45"/>
<circle cx="409.3" cy="499.1" r="1.00"/>
<circle cx="412.7" cy="498.9" r="1.47"/>
<circle cx="416.4" cy="499.5" r="1.40"/>
<circle cx="420.1" cy="500.2" r="0.98"/>
<circle cx="424.0" cy="499.0" r="1.33"/>
<circle cx="427.2" cy="498.4" r="1.45"/>
<circle cx="430.6" cy="498.8" r="1.46"/>
<circle cx="432.9" cy="499.1" r="1.16"/>
<circle cx="438.4" cy="500.3" r="1.35"/>
<circle cx="441.3" cy="499.0" r="1.24"/>
<circle cx="443.6" cy="499.9" r="1.29"/>
<circle cx="448.1" cy="499.8" r="1.42"/>
<circle cx="452.4" cy="499.9" r="1.45"/>
<circle cx="455.5" cy="498.8" r="1.41"/>
<circle cx="458.2" cy="498.3" r="0.70"/>
<circle cx="463.7" cy="499.2" r="1.52"/>
<circle cx="466.3" cy="499.0" r="1.10"/>
<circle cx="469.6" cy="499.2" r="1.02"/>
<circle cx="472.5" cy="499.7" r="0.70"/>
<circle cx="477.2" cy="500.1" r="1.23"/>
<circle cx="480.5" cy="499.7" r="1.55"/>
<circle cx="484.6" cy="498.3" r="1.22"/>
<circle cx="262.1" cy="502.7" r="1.19"/>
<circle cx="265.7" cy="502.5" r="1.51"/>
<circle cx="268.7" cy="501.9" r="1.18"/>
<circle cx="272.5" cy="501.4" r="1.50"/>
<circle cx="277.1" cy="502.8" r="1.49"/>
<circle cx="280.7" cy="501.3" r="1.53"/>
<circle cx="282.7" cy="502.4" r="1.34"/>
<circle cx="287.2" cy="503.2" r="0.70"/>
<circle cx="290.3" cy="501.8" r="1.29"/>
<circle cx="295.1" cy="502.5" r="1.00"/>
<circle cx="298.5" cy="502.9" r="0.97"/>
<circle cx="301.8" cy="502.6" r="1.52"/>
<circle cx="305.8" cy="502.3" r="1.39"/>
<circle cx="308.2" cy="502.6" r="1.30"/>
<circle cx="311.7" cy="502.2" r="1.35"/>
<circle cx="315.1" cy="501.3" r="1.03"/>
<circle cx="319.5" cy="501.9" r="1.07"/>
<circle cx="323.6" cy="502.1" r="1.22"/>
<circle cx="326.7" cy="502.7" r="0.70"/>
<circle cx="329.6" cy="501.3" r="1.44"/>
<circle cx="334.5" cy="502.0" r="1.27"/>
<circle cx="337.3" cy="501.5" r="1.01"/>
<circle cx="341.9" cy="502.6" r="1.04"/>
<circle cx="344.2" cy="502.5" r="1.54"/>
<circle cx="348.8" cy="502.5" r="1.11"/>
<circle cx="352.2" cy="501.8" r="1.22"/>
<circle cx="355.6" cy="502.8" r="1.49"/>
<circle cx="360.2" cy="503.3" r="1.45"/>
<circle cx="364.1" cy="502.2" r="1.01"/>
<circle cx="367.9" cy="501.8" r="1.09"/>
<circle cx="369.7" cy="501.5" r="1.29"/>
<circle cx="374.6" cy="503.2" r="1.18"/>
<circle cx="377.5" cy="502.4" r="1.20"/>
<circle cx="381.4" cy="502.0" r="1.48"/>
<circle cx="384.9" cy="501.7" r="1.17"/>
<circle cx="389.3" cy="503.0" r="0.96"/>
<circle cx="391.7" cy="502.0" r="1.11"/>
<circle cx="396.6" cy="501.6" r="1.05"/>
<circle cx="398.8" cy="501.5" r="0.98"/>
<circle cx="402.7" cy="502.7" r="1.48"/>
<circle cx="407.2" cy="502.3" r="1.24"/>
<circle cx="409.9" cy="503.4" r="0.98"/>
<circle cx="413.2" cy="502.9" r="1.17"/>
<circle cx="417.2" cy="502.5" r="1.05"/>
<circle cx="420.3" cy="502.8" r="1.31"/>
<circle cx="423.8" cy="503.2" r="1.30"/>
<circle cx="427.3" cy="501.9" r="1.51"/>
<circle cx="432.8" cy="503.1" r="0.98"/>
<circle cx="434.9" cy="501.3" r="1.47"/>
<circle cx="438.2" cy="501.6" r="1.15"/>
<circle cx="443.5" cy="502.1" r="1.18"/>
<circle cx="446.2" cy="501.9" r="1.28"/>
<circle cx="450.6" cy="501.4" r="1.55"/>
<circle cx="453.7" cy="502.3" r="1.07"/>
<circle cx="456.3" cy="501.8" r="1.01"/>
<circle cx="461.4" cy="501.3" r="1.41"/>
<circle cx="465.6" cy="502.3" r="0.70"/>
<circle cx="468.8" cy="501.9" r="0.70"/>
<circle cx="472.2" cy="501.5" r="0.70"/>
<circle cx="475.0" cy="502.8" r="1.18"/>
<circle cx="480.1" cy="502.7" r="1.41"/>
<circle cx="481.9" cy="503.3" r="1.45"/>
<circle cx="259.8" cy="505.4" r="1.53"/>
<circle cx="264.7" cy="506.0" r="1.21"/>
<circle cx="267.7" cy="506.2" r="1.26"/>
<circle cx="270.7" cy="505.8" r="1.48"/>
<circle cx="274.7" cy="505.7" r="1.41"/>
<circle cx="277.1" cy="504.6" r="1.12"/>
<circle cx="282.0" cy="506.5" r="1.52"/>
<circle cx="286.1" cy="505.9" r="1.44"/>
<circle cx="289.0" cy="506.3" r="1.47"/>
<circle cx="293.6" cy="505.9" r="0.70"/>
<circle cx="295.9" cy="506.1" r="1.19"/>
<circle cx="298.8" cy="505.8" r="1.26"/>
<circle cx="303.6" cy="505.0" r="1.13"/>
<circle cx="306.9" cy="505.5" r="1.02"/>
<circle cx="310.9" cy="504.6" r="1.12"/>
<circle cx="314.6" cy="505.2" r="1.20"/>
<circle cx="317.1" cy="506.3" r="1.01"/>
<circle cx="321.8" cy="506.4" r="0.98"/>
<circle cx="325.6" cy="505.9" r="1.41"/>
<circle cx="329.7" cy="505.8" r="1.11"/>
<circle cx="331.6" cy="505.3" r="1.04"/>
<circle cx="336.3" cy="506.3" r="1.13"/>
<circle cx="340.0" cy="505.8" r="1.30"/>
<circle cx="342.2" cy="505.4" r="1.52"/>
<circle cx="347.8" cy="504.9" r="1.05"/>
<circle cx="350.5" cy="506.2" r="1.40"/>
<circle cx="354.4" cy="506.4" r="1.46"/>
<circle cx="356.9" cy="504.4" r="1.14"/>
<circle cx="361.4" cy="505.0" r="1.30"/>
<circle cx="364.4" cy="505.1" r="1.44"/>
<circle cx="369.6" cy="506.0" r="1.52"/>
<circle cx="371.6" cy="504.9" r="1.52"/>
<circle cx="375.9" cy="506.1" r="1.43"/>
<circle cx="378.7" cy="504.6" r="1.20"/>
<circle cx="383.6" cy="505.3" r="1.40"/>
<circle cx="386.3" cy="506.4" r="0.70"/>
<circle cx="390.1" cy="504.6" r="1.11"/>
<circle cx="392.9" cy="506.4" r="1.48"/>
<circle cx="397.9" cy="505.9" r="1.24"/>
<circle cx="402.0" cy="506.0" r="1.15"/>
<circle cx="405.3" cy="504.6" r="1.05"/>
<circle cx="408.9" cy="505.2" r="1.09"/>
<circle cx="411.6" cy="505.5" r="1.06"/>
<circle cx="414.7" cy="506.0" r="1.26"/>
<circle cx="419.0" cy="504.9" r="1.15"/>
<circle cx="422.6" cy="506.1" r="1.27"/>
<circle cx="427.6" cy="505.5" r="1.53"/>
<circle cx="430.5" cy="506.0" r="0.97"/>
<circle cx="433.6" cy="505.7" r="1.33"/>
<circle cx="436.4" cy="505.4" r="1.51"/>
<circle cx="440.9" cy="505.2" r="1.14"/>
<circle cx="443.7" cy="506.6" r="1.05"/>
<circle cx="447.7" cy="505.7" r="1.13"/>
<circle cx="452.9" cy="506.2" r="1.41"/>
<circle cx="455.8" cy="505.7" r="1.14"/>
<circle cx="458.5" cy="505.4" r="1.06"/>
<circle cx="461.8" cy="506.0" r="1.22"/>
<circle cx="466.8" cy="506.5" r="1.30"/>
<circle cx="470.5" cy="505.4" r="0.99"/>
<circle cx="473.4" cy="506.0" r="1.51"/>
<circle cx="478.2" cy="506.1" r="1.17"/>
<circle cx="481.7" cy="504.6" r="0.70"/>
<circle cx="485.2" cy="505.6" r="1.43"/>
<circle cx="262.0" cy="509.3" r="1.29"/>
<circle cx="266.0" cy="508.4" r="1.21"/>
<circle cx="269.2" cy="509.3" r="0.70"/>
<circle cx="271.7" cy="508.7" r="1.28"/>
<circle cx="275.4" cy="507.7" r="1.12"/>
<circle cx="280.4" cy="508.9" r="1.02"/>
<circle cx="283.5" cy="509.0" r="1.20"/>
<circle cx="286.1" cy="507.7" r="1.38"/>
<circle cx="291.3" cy="508.7" r="1.42"/>
<circle cx="295.0" cy="507.7" r="1.31"/>
<circle cx="297.8" cy="509.1" r="1.41"/>
<circle cx="301.8" cy="507.7" r="0.70"/>
<circle cx="305.0" cy="508.2" r="1.06"/>
<circle cx="307.9" cy="507.8" r="1.25"/>
<circle cx="312.9" cy="509.2" r="0.97"/>
<circle cx="317.1" cy="509.5" r="0.98"/>
<circle cx="319.2" cy="507.9" r="1.05"/>
<circle cx="322.5" cy="508.3" r="1.52"/>
<circle cx="327.6" cy="509.5" r="1.10"/>
<circle cx="330.1" cy="508.3" r="0.98"/>
<circle cx="334.0" cy="508.0" r="1.26"/>
<circle cx="337.2" cy="509.7" r="1.33"/>
<circle cx="340.7" cy="509.4" r="1.54"/>
<circle cx="345.2" cy="508.3" r="1.05"/>
<circle cx="348.2" cy="508.9" r="1.32"/>
<circle cx="352.1" cy="507.7" r="1.52"/>
<circle cx="355.2" cy="508.4" r="1.51"/>
<circle cx="359.2" cy="507.7" r="1.09"/>
<circle cx="364.2" cy="509.6" r="1.50"/>
<circle cx="366.3" cy="507.7" r="0.70"/>
<circle cx="370.4" cy="509.3" r="1.11"/>
<circle cx="373.4" cy="508.8" r="1.32"/>
<circle cx="378.3" cy="508.6" r="0.70"/>
<circle cx="381.2" cy="508.3" r="1.05"/>
<circle cx="385.7" cy="508.1" r="1.07"/>
<circle cx="388.5" cy="509.5" r="1.51"/>
<circle cx="391.8" cy="508.7" r="1.31"/>
<circle cx="395.3" cy="508.5" r="1.17"/>
<circle cx="398.9" cy="508.4" r="0.96"/>
<circle cx="402.2" cy="509.7" r="0.70"/>
<circle cx="406.2" cy="508.4" r="1.49"/>
<circle cx="409.4" cy="508.5" r="1.10"/>
<circle cx="413.2" cy="508.1" r="1.24"/>
<circle cx="418.5" cy="508.9" r="1.39"/>
<circle cx="420.9" cy="508.6" r="1.09"/>
<circle cx="423.6" cy="508.8" r="1.29"/>
<circle cx="428.7" cy="509.2" r="1.11"/>
<circle cx="432.6" cy="508.1" r="1.44"/>
<circle cx="435.0" cy="508.1" r="1.30"/>
<circle cx="439.1" cy="509.4" r="1.04"/>
<circle cx="441.8" cy="507.7" r="1.49"/>
<circle cx="447.0" cy="509.7" r="1.33"/>
<circle cx="451.1" cy="509.2" r="1.45"/>
<circle cx="454.5" cy="508.3" r="1.38"/>
<circle cx="458.0" cy="507.7" r="1.17"/>
<circle cx="461.5" cy="509.1" r="1.23"/>
<circle cx="464.2" cy="507.9" r="1.02"/>
<circle cx="467.1" cy="509.6" r="1.02"/>
<circle cx="472.2" cy="507.6" r="1.35"/>
<circle cx="475.7" cy="509.3" r="1.16"/>
<circle cx="479.0" cy="509.5" r="1.05"/>
<circle cx="483.7" cy="508.9" r="1.26"/>
<circle cx="259.6" cy="511.0" r="1.20"/>
<circle cx="262.9" cy="510.7" r="1.31"/>
<circle cx="267.0" cy="510.9" r="1.01"/>
<circle cx="271.7" cy="510.9" r="1.01"/>
<circle cx="273.5" cy="511.9" r="1.28"/>
<circle cx="278.8" cy="511.2" r="1.22"/>
<circle cx="281.6" cy="511.9" r="0.70"/>
<circle cx="285.0" cy="511.1" r="1.22"/>
<circle cx="289.1" cy="511.1" r="1.05"/>
<circle cx="293.4" cy="511.9" r="1.16"/>
<circle cx="297.0" cy="511.7" r="1.14"/>
<circle cx="299.4" cy="510.9" r="0.95"/>
<circle cx="303.9" cy="511.3" r="1.55"/>
<circle cx="308.1" cy="512.8" r="1.14"/>
<circle cx="309.8" cy="511.5" r="1.24"/>
<circle cx="314.4" cy="510.8" r="1.32"/>
<circle cx="318.6" cy="511.7" r="1.52"/>
<circle cx="321.8" cy="511.8" r="1.19"/>
<circle cx="325.7" cy="511.9" r="1.39"/>
<circle cx="328.7" cy="512.4" r="1.22"/>
<circle cx="332.4" cy="512.0" r="1.34"/>
<circle cx="335.2" cy="511.7" r="1.48"/>
<circle cx="340.4" cy="511.3" r="1.36"/>
<circle cx="342.2" cy="512.8" r="1.47"/>
<circle cx="347.7" cy="510.8" r="1.30"/>
<circle cx="349.7" cy="510.7" r="1.20"/>
<circle cx="353.9" cy="511.8" r="1.01"/>
<circle cx="358.1" cy="512.0" r="1.14"/>
<circle cx="360.3" cy="510.7" r="0.70"/>
<circle cx="365.1" cy="512.8" r="1.40"/>
<circle cx="368.7" cy="512.5" r="1.41"/>
<circle cx="371.5" cy="512.0" r="1.27"/>
<circle cx="376.5" cy="510.9" r="1.24"/>
<circle cx="379.0" cy="510.9" r="0.70"/>
<circle cx="384.1" cy="511.1" r="1.05"/>
<circle cx="386.8" cy="512.6" r="1.09"/>
<circle cx="390.8" cy="511.4" r="1.36"/>
<circle cx="394.9" cy="512.4" r="0.70"/>
<circle cx="397.1" cy="511.2" r="1.45"/>
<circle cx="401.7" cy="512.3" r="1.21"/>
<circle cx="405.5" cy="512.0" r="1.26"/>
<circle cx="408.9" cy="511.9" r="1.46"/>
<circle cx="411.7" cy="512.8" r="1.23"/>
<circle cx="415.6" cy="512.8" r="0.98"/>
<circle cx="418.5" cy="512.8" r="0.70"/>
<circle cx="422.4" cy="510.8" r="1.34"/>
<circle cx="425.6" cy="511.8" r="1.22"/>
<circle cx="430.0" cy="512.8" r="1.08"/>
<circle cx="434.1" cy="511.4" r="0.70"/>
<circle cx="437.9" cy="512.2" r="1.26"/>
<circle cx="441.9" cy="512.7" r="1.55"/>
<circle cx="443.7" cy="512.3" r="1.51"/>
<circle cx="447.7" cy="512.7" r="1.51"/>
<circle cx="452.1" cy="511.7" r="1.16"/>
<circle cx="456.1" cy="512.1" r="1.17"/>
<circle cx="459.6" cy="511.1" r="1.05"/>
<circle cx="461.9" cy="511.1" r="1.41"/>
<circle cx="466.8" cy="512.7" r="1.27"/>
<circle cx="469.3" cy="512.7" r="1.42"/>
<circle cx="473.7" cy="512.6" r="1.21"/>
<circle cx="477.2" cy="512.5" r="1.40"/>
<circle cx="480.8" cy="512.6" r="1.35"/>
<circle cx="484.9" cy="511.7" r="1.07"/>
<circle cx="262.3" cy="514.6" r="0.70"/>
<circle cx="266.2" cy="514.0" r="1.25"/>
<circle cx="269.3" cy="514.0" r="1.03"/>
<circle cx="272.8" cy="514.0" r="1.34"/>
<circle cx="276.7" cy="514.9" r="1.01"/>
<circle cx="279.7" cy="514.8" r="0.98"/>
<circle cx="283.6" cy="515.0" r="1.29"/>
<circle cx="286.6" cy="513.9" r="1.42"/>
<circle cx="290.2" cy="515.6" r="1.03"/>
<circle cx="295.3" cy="515.7" r="0.99"/>
<circle cx="297.5" cy="515.2" r="1.47"/>
<circle cx="302.3" cy="514.1" r="1.06"/>
<circle cx="305.5" cy="515.0" r="1.08"/>
<circle cx="309.5" cy="515.1" r="1.42"/>
<circle cx="312.7" cy="514.5" r="1.34"/>
<circle cx="315.6" cy="513.9" r="1.27"/>
<circle cx="320.5" cy="515.8" r="0.97"/>
<circle cx="323.1" cy="515.8" r="0.99"/>
<circle cx="327.9" cy="513.9" r="0.98"/>
<circle cx="330.3" cy="515.2" r="1.35"/>
<circle cx="333.2" cy="514.4" r="1.49"/>
<circle cx="337.3" cy="515.8" r="1.26"/>
<circle cx="341.0" cy="514.2" r="1.28"/>
<circle cx="344.4" cy="515.1" r="1.27"/>
<circle cx="348.3" cy="515.4" r="1.06"/>
<circle cx="353.0" cy="514.6" r="1.10"/>
<circle cx="356.3" cy="515.3" r="1.33"/>
<circle cx="359.6" cy="514.8" r="0.95"/>
<circle cx="363.3" cy="515.6" r="1.50"/>
<circle cx="366.9" cy="514.5" r="1.44"/>
<circle cx="370.9" cy="514.7" r="1.02"/>
<circle cx="373.4" cy="513.8" r="1.30"/>
<circle cx="377.3" cy="515.8" r="1.46"/>
<circle cx="380.8" cy="515.8" r="1.19"/>
<circle cx="384.4" cy="515.7" r="1.09"/>
<circle cx="389.1" cy="513.9" r="1.50"/>
<circle cx="392.2" cy="514.7" r="1.07"/>
<circle cx="395.2" cy="515.0" r="1.12"/>
<circle cx="399.4" cy="515.4" r="1.02"/>
<circle cx="403.1" cy="514.2" r="1.31"/>
<circle cx="405.7" cy="515.6" r="1.11"/>
<circle cx="411.0" cy="515.1" r="1.51"/>
<circle cx="414.4" cy="514.7" r="1.17"/>
<circle cx="418.2" cy="514.2" r="1.37"/>
<circle cx="421.5" cy="515.7" r="1.31"/>
<circle cx="424.2" cy="515.7" r="1.15"/>
<circle cx="428.7" cy="515.6" r="1.51"/>
<circle cx="431.5" cy="514.3" r="1.33"/>
<circle cx="435.0" cy="514.5" r="1.36"/>
<circle cx="438.2" cy="515.2" r="1.00"/>
<circle cx="441.8" cy="514.8" r="1.28"/>
<circle cx="446.2" cy="514.2" r="1.48"/>
<circle cx="451.1" cy="515.7" r="1.31"/>
<circle cx="454.8" cy="514.3" r="0.98"/>
<circle cx="457.1" cy="515.2" r="1.16"/>
<circle cx="460.9" cy="513.9" r="1.47"/>
<circle cx="463.9" cy="515.5" r="1.03"/>
<circle cx="469.2" cy="515.1" r="1.23"/>
<circle cx="472.3" cy="515.8" r="1.38"/>
<circle cx="475.7" cy="515.8" r="1.09"/>
<circle cx="480.0" cy="515.6" r="1.08"/>
<circle cx="483.3" cy="515.0" r="0.98"/>
<circle cx="260.7" cy="517.9" r="1.10"/>
<circle cx="264.5" cy="519.0" r="1.53"/>
<circle cx="267.4" cy="517.3" r="1.20"/>
<circle cx="271.1" cy="519.0" r="1.45"/>
<circle cx="273.5" cy="517.2" r="1.38"/>
<circle cx="277.2" cy="517.3" r="1.20"/>
<circle cx="282.5" cy="518.5" r="1.52"/>
<circle cx="286.0" cy="519.0" r="1.51"/>
<circle cx="288.0" cy="518.5" r="1.30"/>
<circle cx="293.3" cy="518.2" r="1.29"/>
<circle cx="296.1" cy="517.4" r="0.96"/>
<circle cx="300.8" cy="517.0" r="1.29"/>
<circle cx="303.8" cy="518.8" r="1.24"/>
<circle cx="307.2" cy="519.0" r="1.06"/>
<circle cx="309.7" cy="517.7" r="1.49"/>
<circle cx="313.7" cy="517.6" r="1.34"/>
<circle cx="318.3" cy="517.4" r="1.08"/>
<circle cx="322.4" cy="519.0" r="1.03"/>
<circle cx="324.4" cy="517.4" r="1.44"/>
<circle cx="328.4" cy="518.8" r="1.20"/>
<circle cx="331.9" cy="517.8" r="1.28"/>
<circle cx="336.8" cy="518.7" r="1.04"/>
<circle cx="340.2" cy="519.0" r="1.17"/>
<circle cx="342.7" cy="519.0" r="1.17"/>
<circle cx="347.0" cy="518.9" r="1.06"/>
<circle cx="350.4" cy="517.2" r="1.19"/>
<circle cx="354.9" cy="518.8" r="1.14"/>
<circle cx="356.7" cy="517.6" r="1.39"/>
<circle cx="361.2" cy="517.0" r="1.14"/>
<circle cx="365.2" cy="517.3" r="1.24"/>
<circle cx="369.5" cy="517.1" r="1.11"/>
<circle cx="373.2" cy="518.4" r="1.44"/>
<circle cx="375.0" cy="517.9" r="1.02"/>
<circle cx="379.4" cy="518.8" r="1.34"/>
<circle cx="383.6" cy="517.3" r="1.08"/>
<circle cx="386.2" cy="518.2" r="1.31"/>
<circle cx="389.8" cy="518.5" r="1.44"/>
<circle cx="395.0" cy="518.0" r="1.00"/>
<circle cx="396.6" cy="518.6" r="1.36"/>
<circle cx="401.3" cy="517.7" r="1.26"/>
<circle cx="404.4" cy="518.5" r="0.70"/>
<circle cx="409.0" cy="518.3" r="1.17"/>
<circle cx="411.7" cy="517.6" r="1.17"/>
<circle cx="415.8" cy="519.0" r="1.38"/>
<circle cx="419.4" cy="518.6" r="1.03"/>
<circle cx="423.7" cy="517.1" r="1.24"/>
<circle cx="426.7" cy="518.8" r="1.29"/>
<circle cx="431.1" cy="518.7" r="1.44"/>
<circle cx="434.0" cy="518.9" r="1.54"/>
<circle cx="437.7" cy="519.1" r="1.41"/>
<circle cx="440.9" cy="517.5" r="1.14"/>
<circle cx="444.5" cy="518.6" r="1.32"/>
<circle cx="448.4" cy="517.4" r="1.07"/>
<circle cx="450.9" cy="517.8" r="1.03"/>
<circle cx="456.2" cy="517.9" r="1.38"/>
<circle cx="460.0" cy="518.5" r="1.11"/>
<circle cx="463.2" cy="518.7" r="1.11"/>
<circle cx="466.0" cy="517.3" r="1.49"/>
<circle cx="470.0" cy="518.7" r="1.28"/>
<circle cx="473.7" cy="517.0" r="1.38"/>
<circle cx="477.7" cy="519.0" r="1.24"/>
<circle cx="480.2" cy="518.8" r="1.42"/>
<circle cx="485.1" cy="517.5" r="1.09"/>
<circle cx="262.4" cy="520.9" r="1.40"/>
<circle cx="265.4" cy="520.9" r="1.41"/>
<circle cx="269.9" cy="520.5" r="1.27"/>
<circle cx="271.9" cy="520.9" r="1.19"/>
<circle cx="277.0" cy="521.5" r="1.32"/>
<circle cx="279.1" cy="521.1" r="1.41"/>
<circle cx="283.8" cy="520.3" r="1.45"/>
<circle cx="286.8" cy="520.1" r="1.02"/>
<circle cx="289.9" cy="522.1" r="1.50"/>
<circle cx="295.3" cy="521.8" r="1.14"/>
<circle cx="297.1" cy="521.8" r="1.08"/>
<circle cx="300.8" cy="521.9" r="1.20"/>
<circle cx="304.5" cy="521.6" r="1.04"/>
<circle cx="308.5" cy="522.2" r="1.19"/>
<circle cx="312.1" cy="521.9" r="1.04"/>
<circle cx="317.1" cy="520.6" r="1.33"/>
<circle cx="320.0" cy="520.5" r="1.50"/>
<circle cx="323.6" cy="520.7" r="0.70"/>
<circle cx="327.7" cy="521.8" r="1.00"/>
<circle cx="329.7" cy="520.4" r="1.53"/>
<circle cx="334.1" cy="520.7" r="1.09"/>
<circle cx="337.9" cy="520.6" r="1.26"/>
<circle cx="342.0" cy="521.8" r="1.51"/>
<circle cx="346.1" cy="520.5" r="1.05"/>
<circle cx="348.7" cy="521.4" r="1.19"/>
<circle cx="353.0" cy="521.6" r="0.70"/>
<circle cx="355.2" cy="521.3" r="1.53"/>
<circle cx="359.1" cy="521.6" r="1.07"/>
<circle cx="363.7" cy="520.8" r="0.70"/>
<circle cx="366.2" cy="521.6" r="1.14"/>
<circle cx="370.6" cy="520.7" r="0.97"/>
<circle cx="373.0" cy="521.0" r="1.19"/>
<circle cx="376.9" cy="520.2" r="1.21"/>
<circle cx="382.1" cy="521.3" r="1.15"/>
<circle cx="384.4" cy="521.1" r="1.46"/>
<circle cx="387.6" cy="522.1" r="1.06"/>
<circle cx="391.7" cy="520.2" r="1.20"/>
<circle cx="396.7" cy="521.0" r="1.20"/>
<circle cx="400.1" cy="521.0" r="1.54"/>
<circle cx="402.2" cy="520.4" r="1.11"/>
<circle cx="407.4" cy="520.6" r="1.40"/>
<circle cx="410.1" cy="520.8" r="1.30"/>
<circle cx="413.5" cy="521.0" r="1.36"/>
<circle cx="418.1" cy="520.6" r="1.04"/>
<circle cx="420.3" cy="521.6" r="1.07"/>
<circle cx="424.0" cy="522.2" r="1.23"/>
<circle cx="427.3" cy="520.8" r="1.34"/>
<circle cx="431.1" cy="521.6" r="1.10"/>
<circle cx="434.6" cy="521.0" r="1.10"/>
<circle cx="438.2" cy="520.7" r="1.44"/>
<circle cx="442.6" cy="520.7" r="1.27"/>
<circle cx="446.1" cy="520.1" r="1.41"/>
<circle cx="449.0" cy="520.6" r="1.39"/>
<circle cx="453.3" cy="521.8" r="1.05"/>
<circle cx="456.3" cy="520.3" r="1.09"/>
<circle cx="461.9" cy="521.5" r="1.52"/>
<circle cx="463.5" cy="520.3" r="1.09"/>
<circle cx="467.8" cy="520.2" r="1.37"/>
<circle cx="471.7" cy="521.5" r="1.00"/>
<circle cx="476.0" cy="520.9" r="1.12"/>
<circle cx="479.7" cy="521.0" r="1.25"/>
<circle cx="483.3" cy="520.7" r="1.06"/>
<circle cx="259.8" cy="525.0" r="1.18"/>
<circle cx="263.5" cy="523.6" r="1.28"/>
<circle cx="266.6" cy="525.3" r="0.70"/>
<circle cx="270.0" cy="524.5" r="1.26"/>
<circle cx="273.6" cy="524.5" r="1.51"/>
<circle cx="277.8" cy="524.0" r="1.03"/>
<circle cx="281.6" cy="524.9" r="0.95"/>
<circle cx="284.8" cy="523.8" r="1.47"/>
<circle cx="288.8" cy="523.3" r="1.13"/>
<circle cx="291.8" cy="525.3" r="1.44"/>
<circle cx="295.2" cy="523.2" r="1.49"/>
<circle cx="298.9" cy="524.3" r="0.70"/>
<circle cx="303.8" cy="523.6" r="1.44"/>
<circle cx="307.5" cy="523.9" r="1.54"/>
<circle cx="310.0" cy="524.9" r="0.98"/>
<circle cx="314.4" cy="524.1" r="1.24"/>
<circle cx="317.6" cy="523.5" r="1.50"/>
<circle cx="321.7" cy="523.9" r="1.02"/>
<circle cx="324.1" cy="524.2" r="1.00"/>
<circle cx="328.9" cy="525.1" r="1.13"/>
<circle cx="331.9" cy="524.9" r="1.33"/>
<circle cx="336.2" cy="524.8" r="1.51"/>
<circle cx="339.8" cy="523.4" r="1.08"/>
<circle cx="344.1" cy="525.1" r="1.00"/>
<circle cx="346.4" cy="524.8" r="1.55"/>
<circle cx="349.7" cy="523.7" r="1.17"/>
<circle cx="354.4" cy="525.0" r="0.99"/>
<circle cx="358.6" cy="524.4" r="1.13"/>
<circle cx="360.8" cy="524.2" r="1.41"/>
<circle cx="364.6" cy="523.7" r="1.44"/>
<circle cx="369.1" cy="524.6" r="1.22"/>
<circle cx="372.3" cy="523.6" r="1.11"/>
<circle cx="375.9" cy="524.6" r="1.10"/>
<circle cx="380.2" cy="525.4" r="0.70"/>
<circle cx="383.2" cy="525.0" r="0.99"/>
<circle cx="386.8" cy="525.4" r="1.43"/>
<circle cx="390.7" cy="524.9" r="1.04"/>
<circle cx="394.8" cy="524.2" r="1.04"/>
<circle cx="397.6" cy="524.0" r="0.70"/>
<circle cx="401.5" cy="524.6" r="0.99"/>
<circle cx="405.8" cy="524.7" r="1.52"/>
<circle cx="408.1" cy="523.8" r="1.54"/>
<circle cx="411.2" cy="524.1" r="1.18"/>
<circle cx="416.5" cy="524.4" r="1.23"/>
<circle cx="420.0" cy="525.2" r="1.10"/>
<circle cx="422.6" cy="525.3" r="1.20"/>
<circle cx="426.6" cy="523.9" r="1.33"/>
<circle cx="430.9" cy="523.6" r="1.31"/>
<circle cx="433.2" cy="524.2" r="1.35"/>
<circle cx="436.8" cy="523.3" r="1.53"/>
<circle cx="441.7" cy="524.1" r="0.70"/>
<circle cx="444.9" cy="525.0" r="1.55"/>
<circle cx="448.3" cy="524.2" r="1.19"/>
<circle cx="451.2" cy="524.8" r="1.31"/>
<circle cx="455.6" cy="523.3" r="1.02"/>
<circle cx="459.0" cy="524.3" r="0.99"/>
<circle cx="462.8" cy="524.6" r="0.97"/>
<circle cx="466.8" cy="523.4" r="1.13"/>
<circle cx="470.5" cy="523.8" r="1.30"/>
<circle cx="474.3" cy="524.5" r="1.12"/>
<circle cx="478.0" cy="523.9" r="1.29"/>
<circle cx="480.5" cy="524.5" r="1.03"/>
<circle cx="484.2" cy="525.3" r="1.12"/>
<circle cx="261.4" cy="527.2" r="1.15"/>
<circle cx="266.1" cy="527.9" r="1.48"/>
<circle cx="268.7" cy="528.5" r="1.50"/>
<circle cx="272.3" cy="526.5" r="1.37"/>
<circle cx="275.3" cy="528.1" r="1.11"/>
<circle cx="278.9" cy="526.5" r="0.96"/>
<circle cx="283.3" cy="527.1" r="1.29"/>
<circle cx="286.5" cy="527.3" r="1.08"/>
<circle cx="290.1" cy="527.1" r="1.17"/>
<circle cx="293.9" cy="527.9" r="1.01"/>
<circle cx="297.2" cy="526.4" r="1.28"/>
<circle cx="301.4" cy="526.8" r="0.96"/>
<circle cx="304.4" cy="526.6" r="1.17"/>
<circle cx="308.2" cy="528.0" r="1.12"/>
<circle cx="312.6" cy="526.8" r="1.03"/>
<circle cx="315.5" cy="528.5" r="1.26"/>
<circle cx="319.4" cy="527.9" r="1.09"/>
<circle cx="323.9" cy="528.5" r="1.33"/>
<circle cx="326.4" cy="526.8" r="1.01"/>
<circle cx="331.4" cy="527.7" r="1.14"/>
<circle cx="334.3" cy="527.9" r="1.18"/>
<circle cx="337.0" cy="528.0" r="0.97"/>
<circle cx="340.8" cy="527.6" r="1.41"/>
<circle cx="345.8" cy="527.9" r="1.43"/>
<circle cx="348.0" cy="527.3" r="1.24"/>
<circle cx="353.1" cy="528.5" r="1.26"/>
<circle cx="355.9" cy="526.7" r="1.18"/>
<circle cx="359.3" cy="527.4" r="1.07"/>
<circle cx="363.7" cy="528.3" r="1.03"/>
<circle cx="366.6" cy="526.4" r="0.70"/>
<circle cx="370.9" cy="527.7" r="1.54"/>
<circle cx="374.6" cy="526.6" r="0.98"/>
<circle cx="376.8" cy="527.1" r="1.40"/>
<circle cx="381.6" cy="528.5" r="1.38"/>
<circle cx="384.1" cy="526.7" r="1.28"/>
<circle cx="389.4" cy="527.8" r="1.20"/>
<circle cx="393.1" cy="527.3" r="1.29"/>
<circle cx="396.5" cy="527.3" r="1.05"/>
<circle cx="399.3" cy="528.4" r="1.50"/>
<circle cx="403.0" cy="527.7" r="1.12"/>
<circle cx="407.5" cy="527.9" r="0.99"/>
<circle cx="411.2" cy="527.0" r="1.30"/>
<circle cx="414.7" cy="528.2" r="1.14"/>
<circle cx="417.8" cy="526.6" r="1.12"/>
<circle cx="421.6" cy="527.6" r="1.31"/>
<circle cx="424.1" cy="527.7" r="0.70"/>
<circle cx="428.9" cy="528.4" r="1.53"/>
<circle cx="431.7" cy="527.6" r="1.23"/>
<circle cx="435.5" cy="526.6" r="1.47"/>
<circle cx="439.6" cy="527.0" r="1.05"/>
<circle cx="443.4" cy="527.0" r="1.19"/>
<circle cx="446.6" cy="527.1" r="1.03"/>
<circle cx="449.7" cy="527.8" r="1.21"/>
<circle cx="452.9" cy="528.4" r="1.13"/>
<circle cx="458.0" cy="527.4" r="1.08"/>
<circle cx="460.5" cy="527.6" r="1.51"/>
<circle cx="465.4" cy="526.8" r="1.42"/>
<circle cx="468.4" cy="526.4" r="1.50"/>
<circle cx="472.2" cy="526.4" r="0.95"/>
<circle cx="475.1" cy="526.7" r="1.23"/>
<circle cx="478.7" cy="526.8" r="1.45"/>
<circle cx="483.5" cy="527.3" r="1.17"/>
<circle cx="260.2" cy="530.9" r="1.29"/>
<circle cx="263.9" cy="531.0" r="1.19"/>
<circle cx="267.4" cy="531.5" r="1.13"/>
<circle cx="271.4" cy="530.9" r="1.17"/>
<circle cx="275.6" cy="529.8" r="0.98"/>
<circle cx="278.2" cy="530.4" r="1.40"/>
<circle cx="280.6" cy="531.1" r="1.33"/>
<circle cx="285.8" cy="529.7" r="1.14"/>
<circle cx="288.1" cy="530.9" r="1.15"/>
<circle cx="291.8" cy="530.8" r="1.02"/>
<circle cx="295.5" cy="530.5" r="1.42"/>
<circle cx="299.4" cy="531.1" r="1.13"/>
<circle cx="303.6" cy="529.9" r="0.96"/>
<circle cx="306.7" cy="530.0" r="1.45"/>
<circle cx="310.4" cy="530.6" r="1.30"/>
<circle cx="313.5" cy="529.9" r="1.47"/>
<circle cx="318.4" cy="530.2" r="1.05"/>
<circle cx="322.2" cy="531.2" r="1.02"/>
<circle cx="324.9" cy="531.1" r="1.36"/>
<circle cx="328.8" cy="530.0" r="1.41"/>
<circle cx="333.0" cy="530.1" r="1.25"/>
<circle cx="336.6" cy="531.0" r="1.06"/>
<circle cx="340.2" cy="530.2" r="1.52"/>
<circle cx="343.3" cy="531.5" r="1.07"/>
<circle cx="347.8" cy="530.6" r="1.43"/>
<circle cx="351.2" cy="530.9" r="1.14"/>
<circle cx="353.2" cy="531.5" r="1.49"/>
<circle cx="357.3" cy="530.3" r="1.09"/>
<circle cx="361.4" cy="530.8" r="1.41"/>
<circle cx="365.1" cy="530.9" r="1.20"/>
<circle cx="369.7" cy="530.9" r="1.07"/>
<circle cx="372.0" cy="531.6" r="1.15"/>
<circle cx="375.2" cy="530.9" r="1.49"/>
<circle cx="378.8" cy="531.1" r="1.54"/>
<circle cx="383.3" cy="530.1" r="1.08"/>
<circle cx="386.7" cy="530.8" r="1.40"/>
<circle cx="390.1" cy="530.9" r="1.54"/>
<circle cx="394.2" cy="530.6" r="1.31"/>
<circle cx="397.9" cy="531.2" r="1.22"/>
<circle cx="401.5" cy="530.7" r="1.16"/>
<circle cx="405.8" cy="531.3" r="1.12"/>
<circle cx="408.8" cy="530.1" r="0.70"/>
<circle cx="412.9" cy="529.9" r="1.39"/>
<circle cx="415.1" cy="530.5" r="1.54"/>
<circle cx="419.4" cy="530.3" r="1.29"/>
<circle cx="423.4" cy="530.0" r="1.37"/>
<circle cx="426.5" cy="531.3" r="1.16"/>
<circle cx="430.5" cy="530.3" r="1.08"/>
<circle cx="434.3" cy="529.9" r="1.34"/>
<circle cx="437.2" cy="531.3" r="1.34"/>
<circle cx="441.9" cy="530.9" r="1.23"/>
<circle cx="445.2" cy="531.5" r="1.17"/>
<circle cx="447.5" cy="530.7" r="1.14"/>
<circle cx="451.3" cy="531.1" r="1.38"/>
<circle cx="455.4" cy="530.6" r="1.09"/>
<circle cx="459.7" cy="531.2" r="1.34"/>
<circle cx="462.3" cy="531.5" r="1.29"/>
<circle cx="467.2" cy="530.7" r="0.97"/>
<circle cx="469.4" cy="530.6" r="1.30"/>
<circle cx="472.6" cy="529.8" r="1.54"/>
<circle cx="478.2" cy="530.6" r="1.26"/>
<circle cx="480.1" cy="531.2" r="1.38"/>
<circle cx="483.6" cy="531.1" r="1.18"/>
<circle cx="262.4" cy="533.1" r="0.70"/>
<circle cx="264.9" cy="533.5" r="1.38"/>
<circle cx="269.8" cy="533.9" r="1.04"/>
<circle cx="272.3" cy="534.1" r="0.70"/>
<circle cx="276.0" cy="533.8" r="1.20"/>
<circle cx="280.9" cy="533.2" r="1.39"/>
<circle cx="283.2" cy="534.3" r="1.31"/>
<circle cx="287.4" cy="534.0" r="1.38"/>
<circle cx="290.5" cy="533.3" r="1.47"/>
<circle cx="293.9" cy="533.6" r="1.38"/>
<circle cx="298.7" cy="533.9" r="0.70"/>
<circle cx="300.9" cy="534.3" r="1.42"/>
<circle cx="306.2" cy="533.0" r="1.00"/>
<circle cx="308.8" cy="533.9" r="1.24"/>
<circle cx="312.0" cy="534.0" r="1.51"/>
<circle cx="316.8" cy="532.7" r="1.32"/>
<circle cx="318.9" cy="534.8" r="1.40"/>
<circle cx="322.9" cy="533.9" r="1.22"/>
<circle cx="327.9" cy="533.4" r="0.96"/>
<circle cx="330.4" cy="533.1" r="1.37"/>
<circle cx="333.2" cy="534.3" r="1.03"/>
<circle cx="338.4" cy="534.6" r="1.47"/>
<circle cx="342.3" cy="533.8" r="0.70"/>
<circle cx="345.1" cy="534.0" r="0.98"/>
<circle cx="348.7" cy="533.9" r="1.21"/>
<circle cx="353.4" cy="533.1" r="0.70"/>
<circle cx="356.1" cy="533.3" r="0.99"/>
<circle cx="359.6" cy="533.6" r="1.34"/>
<circle cx="362.8" cy="534.0" r="1.13"/>
<circle cx="367.7" cy="534.1" r="1.40"/>
<circle cx="369.9" cy="534.5" r="1.26"/>
<circle cx="374.0" cy="534.8" r="1.38"/>
<circle cx="378.6" cy="534.8" r="1.06"/>
<circle cx="382.0" cy="533.9" r="1.48"/>
<circle cx="384.7" cy="533.1" r="1.09"/>
<circle cx="388.5" cy="533.7" r="1.30"/>
<circle cx="391.8" cy="533.2" r="1.41"/>
<circle cx="395.1" cy="534.7" r="1.52"/>
<circle cx="400.0" cy="533.5" r="1.29"/>
<circle cx="402.4" cy="534.4" r="1.09"/>
<circle cx="405.5" cy="534.2" r="1.28"/>
<circle cx="409.7" cy="533.1" r="0.70"/>
<circle cx="413.4" cy="532.9" r="1.26"/>
<circle cx="417.0" cy="534.0" r="1.05"/>
<circle cx="421.5" cy="532.7" r="1.45"/>
<circle cx="425.4" cy="533.9" r="1.41"/>
<circle cx="428.5" cy="532.9" r="1.14"/>
<circle cx="432.8" cy="533.3" r="1.38"/>
<circle cx="436.6" cy="532.9" r="1.43"/>
<circle cx="438.9" cy="533.8" r="1.17"/>
<circle cx="442.2" cy="534.0" r="1.16"/>
<circle cx="446.9" cy="534.0" r="1.36"/>
<circle cx="449.4" cy="533.4" r="1.16"/>
<circle cx="454.7" cy="533.7" r="1.38"/>
<circle cx="456.2" cy="533.0" r="1.08"/>
<circle cx="459.9" cy="533.0" r="1.18"/>
<circle cx="463.7" cy="533.7" r="1.08"/>
<circle cx="468.6" cy="534.1" r="1.16"/>
<circle cx="470.9" cy="533.4" r="0.98"/>
<circle cx="475.1" cy="533.3" r="1.21"/>
<circle cx="478.8" cy="533.1" r="1.19"/>
<circle cx="483.5" cy="533.6" r="1.18"/>
<circle cx="260.4" cy="535.9" r="1.03"/>
<circle cx="263.8" cy="537.5" r="1.47"/>
<circle cx="266.4" cy="537.7" r="1.03"/>
<circle cx="271.9" cy="536.3" r="1.38"/>
<circle cx="273.4" cy="536.3" r="1.19"/>
<circle cx="278.2" cy="537.6" r="1.31"/>
<circle cx="281.5" cy="536.0" r="1.50"/>
<circle cx="285.8" cy="537.0" r="1.22"/>
<circle cx="289.1" cy="537.7" r="1.00"/>
<circle cx="293.5" cy="537.3" r="1.54"/>
<circle cx="295.9" cy="535.9" r="1.50"/>
<circle cx="300.7" cy="537.7" r="1.09"/>
<circle cx="303.2" cy="537.1" r="0.96"/>
<circle cx="307.8" cy="537.9" r="1.28"/>
<circle cx="311.3" cy="535.8" r="1.07"/>
<circle cx="315.2" cy="535.8" r="1.19"/>
<circle cx="318.2" cy="537.7" r="1.29"/>
<circle cx="322.3" cy="537.9" r="1.11"/>
<circle cx="324.8" cy="537.0" r="1.00"/>
<circle cx="329.1" cy="536.6" r="1.25"/>
<circle cx="332.6" cy="537.6" r="1.28"/>
<circle cx="335.6" cy="536.6" r="1.30"/>
<circle cx="339.6" cy="537.1" r="1.05"/>
<circle cx="344.0" cy="535.8" r="1.10"/>
<circle cx="347.6" cy="536.9" r="1.26"/>
<circle cx="349.9" cy="536.0" r="1.48"/>
<circle cx="353.4" cy="537.5" r="1.26"/>
<circle cx="357.6" cy="537.2" r="1.43"/>
<circle cx="361.6" cy="536.4" r="1.28"/>
<circle cx="364.3" cy="536.4" r="1.22"/>
<circle cx="369.1" cy="535.8" r="0.99"/>
<circle cx="373.3" cy="537.9" r="1.19"/>
<circle cx="375.7" cy="536.8" r="1.05"/>
<circle cx="379.3" cy="535.9" r="1.27"/>
<circle cx="382.0" cy="536.7" r="1.08"/>
<circle cx="387.6" cy="536.2" r="1.41"/>
<circle cx="390.4" cy="535.8" r="1.02"/>
<circle cx="393.4" cy="537.4" r="1.33"/>
<circle cx="398.3" cy="537.4" r="1.54"/>
<circle cx="401.2" cy="536.4" r="1.22"/>
<circle cx="403.7" cy="536.6" r="1.52"/>
<circle cx="407.7" cy="537.1" r="1.35"/>
<circle cx="413.0" cy="536.4" r="1.14"/>
<circle cx="415.2" cy="535.9" r="1.10"/>
<circle cx="420.1" cy="537.8" r="1.25"/>
<circle cx="423.2" cy="535.8" r="1.40"/>
<circle cx="425.9" cy="536.4" r="1.23"/>
<circle cx="430.3" cy="537.6" r="1.31"/>
<circle cx="433.8" cy="537.3" r="1.50"/>
<circle cx="437.3" cy="537.0" r="1.22"/>
<circle cx="440.1" cy="537.3" r="1.46"/>
<circle cx="445.4" cy="537.8" r="1.19"/>
<circle cx="447.3" cy="536.4" r="1.36"/>
<circle cx="452.9" cy="537.3" r="0.99"/>
<circle cx="456.2" cy="537.2" r="1.25"/>
<circle cx="460.0" cy="536.5" r="1.07"/>
<circle cx="461.6" cy="537.7" r="1.45"/>
<circle cx="466.0" cy="536.1" r="1.39"/>
<circle cx="469.5" cy="536.9" r="1.27"/>
<circle cx="473.4" cy="536.4" r="1.26"/>
<circle cx="477.7" cy="537.1" r="1.41"/>
<circle cx="480.0" cy="537.2" r="1.38"/>
<circle cx="483.7" cy="537.0" r="1.35"/>
<circle cx="262.1" cy="539.2" r="1.11"/>
<circle cx="264.5" cy="540.0" r="1.43"/>
<circle cx="268.7" cy="539.5" r="1.52"/>
<circle cx="271.6" cy="539.7" r="1.13"/>
<circle cx="275.7" cy="540.7" r="0.96"/>
<circle cx="280.0" cy="540.8" r="0.99"/>
<circle cx="284.0" cy="540.7" r="1.54"/>
<circle cx="287.5" cy="539.4" r="1.06"/>
<circle cx="291.0" cy="540.4" r="1.11"/>
<circle cx="295.0" cy="539.3" r="1.33"/>
<circle cx="298.3" cy="539.5" r="1.28"/>
<circle cx="302.6" cy="539.7" r="1.17"/>
<circle cx="306.2" cy="540.1" r="0.70"/>
<circle cx="307.8" cy="540.4" r="1.21"/>
<circle cx="311.5" cy="540.0" r="1.28"/>
<circle cx="316.0" cy="539.3" r="1.54"/>
<circle cx="320.8" cy="539.5" r="0.97"/>
<circle cx="322.4" cy="539.9" r="1.29"/>
<circle cx="328.1" cy="540.5" r="0.70"/>
<circle cx="331.5" cy="539.8" r="1.49"/>
<circle cx="335.1" cy="539.2" r="1.37"/>
<circle cx="337.9" cy="540.5" r="0.98"/>
<circle cx="340.9" cy="539.6" r="0.96"/>
<circle cx="345.4" cy="538.9" r="1.19"/>
<circle cx="348.1" cy="539.5" r="1.50"/>
<circle cx="353.3" cy="539.4" r="1.52"/>
<circle cx="355.1" cy="539.0" r="1.16"/>
<circle cx="360.5" cy="540.9" r="1.24"/>
<circle cx="363.1" cy="540.1" r="0.70"/>
<circle cx="366.2" cy="540.9" r="1.15"/>
<circle cx="369.4" cy="540.7" r="1.43"/>
<circle cx="373.6" cy="539.6" r="1.21"/>
<circle cx="378.0" cy="539.1" r="1.43"/>
<circle cx="380.9" cy="539.7" r="1.16"/>
<circle cx="384.6" cy="540.6" r="1.33"/>
<circle cx="389.0" cy="539.6" r="1.27"/>
<circle cx="392.3" cy="540.6" r="1.13"/>
<circle cx="395.2" cy="540.0" r="1.07"/>
<circle cx="400.4" cy="539.3" r="1.28"/>
<circle cx="403.1" cy="539.7" r="1.33"/>
<circle cx="406.5" cy="540.6" r="1.08"/>
<circle cx="410.0" cy="540.4" r="1.06"/>
<circle cx="414.7" cy="539.3" r="0.70"/>
<circle cx="417.8" cy="540.5" r="1.51"/>
<circle cx="421.8" cy="540.5" r="1.52"/>
<circle cx="423.7" cy="540.6" r="1.20"/>
<circle cx="428.9" cy="539.2" r="0.70"/>
<circle cx="431.5" cy="539.7" r="1.29"/>
<circle cx="436.7" cy="540.5" r="1.45"/>
<circle cx="438.9" cy="540.9" r="1.28"/>
<circle cx="442.2" cy="540.7" r="1.04"/>
<circle cx="445.5" cy="540.1" r="1.34"/>
<circle cx="449.2" cy="540.6" r="1.41"/>
<circle cx="453.1" cy="539.8" r="1.41"/>
<circle cx="458.1" cy="540.8" r="1.50"/>
<circle cx="460.7" cy="539.6" r="1.52"/>
<circle cx="464.3" cy="539.9" r="1.02"/>
<circle cx="468.3" cy="539.1" r="1.00"/>
<circle cx="471.9" cy="539.0" r="1.43"/>
<circle cx="475.3" cy="538.9" r="1.00"/>
<circle cx="478.3" cy="540.6" r="1.53"/>
<circle cx="482.3" cy="540.7" r="1.35"/>
<circle cx="260.6" cy="544.1" r="1.52"/>
<circle cx="263.8" cy="543.7" r="1.17"/>
<circle cx="267.3" cy="543.0" r="1.13"/>
<circle cx="271.7" cy="542.2" r="1.23"/>
<circle cx="274.9" cy="544.2" r="1.46"/>
<circle cx="277.9" cy="542.6" r="1.48"/>
<circle cx="280.8" cy="543.2" r="1.15"/>
<circle cx="285.8" cy="542.7" r="1.27"/>
<circle cx="288.2" cy="543.6" r="1.16"/>
<circle cx="292.0" cy="542.4" r="1.44"/>
<circle cx="295.8" cy="543.5" r="1.26"/>
<circle cx="300.2" cy="542.8" r="1.21"/>
<circle cx="302.9" cy="543.2" r="1.53"/>
<circle cx="306.1" cy="543.7" r="1.43"/>
<circle cx="310.2" cy="543.5" r="1.35"/>
<circle cx="314.3" cy="542.6" r="1.44"/>
<circle cx="317.9" cy="542.9" r="1.08"/>
<circle cx="321.0" cy="542.9" r="1.11"/>
<circle cx="325.9" cy="543.9" r="1.07"/>
<circle cx="329.5" cy="542.4" r="1.32"/>
<circle cx="331.5" cy="542.5" r="1.30"/>
<circle cx="336.2" cy="542.7" r="1.14"/>
<circle cx="338.9" cy="542.7" r="1.22"/>
<circle cx="342.9" cy="543.2" r="1.13"/>
<circle cx="348.0" cy="543.7" r="1.50"/>
<circle cx="350.3" cy="542.5" r="1.01"/>
<circle cx="355.1" cy="544.1" r="1.13"/>
<circle cx="358.3" cy="542.4" r="1.18"/>
<circle cx="361.8" cy="543.6" r="1.36"/>
<circle cx="365.4" cy="542.3" r="1.49"/>
<circle cx="369.4" cy="543.2" r="1.39"/>
<circle cx="372.9" cy="543.0" r="1.20"/>
<circle cx="376.3" cy="542.9" r="1.17"/>
<circle cx="380.0" cy="542.8" r="1.19"/>
<circle cx="382.5" cy="543.5" r="1.18"/>
<circle cx="387.7" cy="542.5" r="1.54"/>
<circle cx="390.8" cy="543.0" r="1.08"/>
<circle cx="393.2" cy="543.1" r="1.08"/>
<circle cx="397.3" cy="544.2" r="1.47"/>
<circle cx="400.6" cy="542.4" r="1.50"/>
<circle cx="405.2" cy="543.5" r="1.28"/>
<circle cx="408.8" cy="542.6" r="0.99"/>
<circle cx="411.8" cy="544.1" r="1.10"/>
<circle cx="415.1" cy="542.1" r="0.99"/>
<circle cx="419.7" cy="543.5" r="1.53"/>
<circle cx="423.8" cy="542.2" r="1.20"/>
<circle cx="427.2" cy="542.3" r="1.38"/>
<circle cx="430.7" cy="544.0" r="1.31"/>
<circle cx="434.8" cy="544.1" r="1.43"/>
<circle cx="437.1" cy="543.3" r="1.11"/>
<circle cx="441.8" cy="543.6" r="1.31"/>
<circle cx="444.9" cy="543.6" r="1.37"/>
<circle cx="447.3" cy="542.1" r="1.07"/>
<circle cx="452.2" cy="543.6" r="1.02"/>
<circle cx="455.4" cy="542.6" r="1.33"/>
<circle cx="458.1" cy="543.8" r="1.30"/>
<circle cx="462.1" cy="542.7" r="1.09"/>
<circle cx="465.3" cy="542.8" r="1.49"/>
<circle cx="469.1" cy="543.2" r="1.41"/>
<circle cx="473.5" cy="543.3" r="1.09"/>
<circle cx="476.5" cy="543.3" r="1.53"/>
<circle cx="480.3" cy="543.3" r="1.18"/>
<circle cx="484.7" cy="542.5" r="1.41"/>
<circle cx="262.0" cy="545.8" r="1.42"/>
<circle cx="264.6" cy="545.9" r="0.99"/>
<circle cx="269.4" cy="546.9" r="1.02"/>
<circle cx="273.1" cy="546.7" r="1.28"/>
<circle cx="276.5" cy="545.3" r="1.50"/>
<circle cx="279.5" cy="546.7" r="1.18"/>
<circle cx="283.3" cy="546.3" r="1.53"/>
<circle cx="286.3" cy="545.7" r="1.39"/>
<circle cx="291.6" cy="546.3" r="1.47"/>
<circle cx="295.5" cy="546.6" r="1.51"/>
<circle cx="298.9" cy="547.0" r="1.34"/>
<circle cx="302.0" cy="547.3" r="1.14"/>
<circle cx="306.0" cy="547.1" r="1.44"/>
<circle cx="309.3" cy="546.0" r="1.32"/>
<circle cx="311.6" cy="546.4" r="1.05"/>
<circle cx="317.0" cy="546.3" r="1.20"/>
<circle cx="320.0" cy="546.2" r="1.36"/>
<circle cx="324.4" cy="546.2" r="0.95"/>
<circle cx="326.6" cy="547.1" r="1.11"/>
<circle cx="330.0" cy="545.6" r="1.03"/>
<circle cx="334.6" cy="546.8" r="1.00"/>
<circle cx="338.4" cy="546.1" r="1.51"/>
<circle cx="342.1" cy="545.7" r="1.28"/>
<circle cx="345.3" cy="545.8" r="1.16"/>
<circle cx="348.3" cy="545.6" r="1.12"/>
<circle cx="352.1" cy="547.1" r="1.27"/>
<circle cx="356.7" cy="547.0" r="1.31"/>
<circle cx="360.6" cy="547.3" r="1.46"/>
<circle cx="364.0" cy="545.8" r="1.38"/>
<circle cx="366.7" cy="547.0" r="1.32"/>
<circle cx="371.2" cy="545.8" r="1.08"/>
<circle cx="375.0" cy="546.2" r="1.34"/>
<circle cx="378.6" cy="546.9" r="1.39"/>
<circle cx="382.3" cy="546.6" r="1.22"/>
<circle cx="385.3" cy="546.7" r="1.22"/>
<circle cx="388.3" cy="546.4" r="1.00"/>
<circle cx="391.6" cy="545.8" r="1.30"/>
<circle cx="395.6" cy="547.3" r="1.16"/>
<circle cx="400.3" cy="545.6" r="1.16"/>
<circle cx="403.5" cy="545.5" r="1.12"/>
<circle cx="406.2" cy="546.3" r="1.52"/>
<circle cx="410.1" cy="546.5" r="1.27"/>
<circle cx="412.8" cy="545.4" r="1.01"/>
<circle cx="416.7" cy="546.6" r="1.18"/>
<circle cx="422.1" cy="547.2" r="1.14"/>
<circle cx="424.7" cy="547.3" r="1.43"/>
<circle cx="427.9" cy="545.5" r="1.46"/>
<circle cx="431.6" cy="546.8" r="0.99"/>
<circle cx="436.5" cy="546.6" r="1.52"/>
<circle cx="438.5" cy="545.7" r="0.70"/>
<circle cx="443.8" cy="545.4" r="1.53"/>
<circle cx="447.4" cy="546.1" r="1.36"/>
<circle cx="450.7" cy="546.6" r="1.14"/>
<circle cx="453.1" cy="545.4" r="1.11"/>
<circle cx="456.7" cy="545.5" r="1.26"/>
<circle cx="459.8" cy="546.7" r="1.16"/>
<circle cx="463.8" cy="546.7" r="1.43"/>
<circle cx="468.2" cy="545.5" r="1.38"/>
<circle cx="471.8" cy="545.9" r="1.20"/>
<circle cx="474.7" cy="546.3" r="1.36"/>
<circle cx="480.0" cy="545.6" r="1.48"/>
<circle cx="483.4" cy="545.4" r="1.36"/>
<circle cx="259.6" cy="549.8" r="1.23"/>
<circle cx="262.9" cy="549.4" r="1.04"/>
<circle cx="266.7" cy="549.3" r="1.45"/>
<circle cx="271.4" cy="548.6" r="1.51"/>
<circle cx="273.4" cy="550.4" r="1.23"/>
<circle cx="277.8" cy="550.3" r="1.40"/>
<circle cx="281.8" cy="549.5" r="1.43"/>
<circle cx="285.8" cy="550.1" r="1.44"/>
<circle cx="288.2" cy="550.2" r="1.31"/>
<circle cx="292.5" cy="550.3" r="0.96"/>
<circle cx="296.7" cy="548.6" r="1.36"/>
<circle cx="300.5" cy="549.7" r="1.53"/>
<circle cx="303.2" cy="548.8" r="1.16"/>
<circle cx="306.9" cy="549.4" r="1.42"/>
<circle cx="310.3" cy="548.6" r="1.46"/>
<circle cx="313.9" cy="549.9" r="1.34"/>
<circle cx="318.8" cy="549.3" r="1.35"/>
<circle cx="322.6" cy="549.5" r="1.13"/>
<circle cx="324.6" cy="548.8" r="1.35"/>
<circle cx="329.4" cy="548.9" r="1.05"/>
<circle cx="332.8" cy="548.7" r="1.24"/>
<circle cx="336.3" cy="549.4" r="1.39"/>
<circle cx="338.8" cy="549.6" r="1.41"/>
<circle cx="342.9" cy="549.9" r="1.44"/>
<circle cx="346.3" cy="550.4" r="1.23"/>
<circle cx="350.9" cy="550.0" r="1.19"/>
<circle cx="354.8" cy="548.4" r="1.02"/>
<circle cx="358.4" cy="548.7" r="0.99"/>
<circle cx="362.1" cy="549.1" r="1.28"/>
<circle cx="365.1" cy="549.8" r="1.44"/>
<circle cx="368.6" cy="549.8" r="1.01"/>
<circle cx="373.0" cy="549.6" r="1.13"/>
<circle cx="376.8" cy="549.7" r="1.42"/>
<circle cx="379.0" cy="548.9" r="1.42"/>
<circle cx="382.2" cy="548.7" r="1.45"/>
<circle cx="385.6" cy="549.0" r="1.07"/>
<circle cx="390.0" cy="548.9" r="1.31"/>
<circle cx="394.3" cy="549.7" r="1.03"/>
<circle cx="397.6" cy="549.5" r="1.52"/>
<circle cx="400.6" cy="549.9" r="1.34"/>
<circle cx="404.4" cy="549.4" r="0.95"/>
<circle cx="409.2" cy="548.6" r="1.46"/>
<circle cx="411.7" cy="549.6" r="1.17"/>
<circle cx="415.6" cy="549.2" r="1.47"/>
<circle cx="418.5" cy="550.4" r="1.23"/>
<circle cx="422.6" cy="548.9" r="1.18"/>
<circle cx="425.8" cy="549.7" r="1.42"/>
<circle cx="429.3" cy="550.5" r="1.24"/>
<circle cx="434.3" cy="549.1" r="1.14"/>
<circle cx="436.7" cy="548.5" r="1.46"/>
<circle cx="440.7" cy="549.9" r="1.16"/>
<circle cx="445.1" cy="550.5" r="1.47"/>
<circle cx="447.4" cy="549.4" r="1.00"/>
<circle cx="452.8" cy="549.8" r="1.25"/>
<circle cx="454.7" cy="549.8" r="1.30"/>
<circle cx="459.2" cy="550.5" r="1.46"/>
<circle cx="463.0" cy="549.8" r="1.53"/>
<circle cx="465.6" cy="549.1" r="1.21"/>
<circle cx="470.1" cy="548.6" r="1.00"/>
<circle cx="474.2" cy="550.3" r="1.25"/>
<circle cx="476.6" cy="548.7" r="1.53"/>
<circle cx="480.0" cy="549.4" r="1.12"/>
<circle cx="485.2" cy="550.4" r="1.09"/>
<circle cx="262.7" cy="552.9" r="1.31"/>
<circle cx="265.3" cy="552.7" r="1.28"/>
<circle cx="268.4" cy="553.4" r="1.39"/>
<circle cx="271.9" cy="551.8" r="1.32"/>
<circle cx="276.9" cy="552.0" r="1.44"/>
<circle cx="281.0" cy="553.3" r="1.24"/>
<circle cx="283.6" cy="553.1" r="1.51"/>
<circle cx="287.2" cy="551.5" r="1.43"/>
<circle cx="291.6" cy="553.6" r="1.19"/>
<circle cx="294.1" cy="553.3" r="1.08"/>
<circle cx="297.2" cy="552.6" r="1.19"/>
<circle cx="302.6" cy="552.9" r="1.28"/>
<circle cx="305.0" cy="552.9" r="1.47"/>
<circle cx="309.5" cy="552.2" r="1.43"/>
<circle cx="311.8" cy="552.2" r="1.25"/>
<circle cx="316.6" cy="553.1" r="1.50"/>
<circle cx="319.9" cy="553.4" r="1.40"/>
<circle cx="322.6" cy="552.7" r="1.29"/>
<circle cx="327.9" cy="551.5" r="1.25"/>
<circle cx="331.5" cy="552.4" r="1.23"/>
<circle cx="333.6" cy="552.4" r="1.54"/>
<circle cx="337.4" cy="553.4" r="1.37"/>
<circle cx="341.2" cy="553.6" r="1.34"/>
<circle cx="345.7" cy="552.3" r="0.70"/>
<circle cx="349.3" cy="551.8" r="1.32"/>
<circle cx="353.0" cy="552.5" r="1.02"/>
<circle cx="355.5" cy="553.1" r="1.04"/>
<circle cx="359.4" cy="552.8" r="1.49"/>
<circle cx="362.4" cy="553.0" r="0.70"/>
<circle cx="367.5" cy="552.1" r="1.07"/>
<circle cx="371.2" cy="551.5" r="1.38"/>
<circle cx="373.9" cy="551.9" r="1.44"/>
<circle cx="377.7" cy="553.6" r="1.30"/>
<circle cx="381.6" cy="551.9" r="1.29"/>
<circle cx="385.9" cy="551.7" r="1.38"/>
<circle cx="388.8" cy="552.3" r="1.47"/>
<circle cx="392.6" cy="552.2" r="1.22"/>
<circle cx="396.7" cy="552.4" r="1.00"/>
<circle cx="398.9" cy="553.6" r="1.20"/>
<circle cx="402.7" cy="551.4" r="1.31"/>
<circle cx="405.9" cy="551.9" r="0.70"/>
<circle cx="409.2" cy="553.1" r="0.98"/>
<circle cx="413.4" cy="552.6" r="1.25"/>
<circle cx="417.6" cy="551.7" r="1.42"/>
<circle cx="422.1" cy="552.1" r="1.16"/>
<circle cx="425.1" cy="552.2" r="1.06"/>
<circle cx="429.0" cy="552.2" r="1.44"/>
<circle cx="431.3" cy="553.0" r="1.06"/>
<circle cx="436.3" cy="552.6" r="1.22"/>
<circle cx="439.2" cy="553.0" r="1.09"/>
<circle cx="442.2" cy="551.5" r="1.53"/>
<circle cx="447.1" cy="553.4" r="1.52"/>
<circle cx="450.1" cy="552.7" r="1.19"/>
<circle cx="452.7" cy="551.7" r="1.51"/>
<circle cx="457.8" cy="553.1" r="1.21"/>
<circle cx="461.6" cy="552.7" r="1.41"/>
<circle cx="463.6" cy="552.2" r="1.25"/>
<circle cx="467.4" cy="551.7" r="1.24"/>
<circle cx="472.3" cy="553.2" r="1.27"/>
<circle cx="474.9" cy="552.9" r="1.22"/>
<circle cx="478.1" cy="551.5" r="1.34"/>
<circle cx="483.7" cy="553.0" r="0.97"/>
<circle cx="259.5" cy="555.6" r="1.35"/>
<circle cx="264.7" cy="555.9" r="1.24"/>
<circle cx="267.8" cy="555.7" r="1.06"/>
<circle cx="271.9" cy="556.7" r="1.31"/>
<circle cx="274.2" cy="555.3" r="1.15"/>
<circle cx="279.0" cy="556.0" r="0.98"/>
<circle cx="281.6" cy="556.1" r="1.51"/>
<circle cx="285.5" cy="555.7" r="1.42"/>
<circle cx="288.5" cy="555.0" r="1.34"/>
<circle cx="292.5" cy="556.5" r="1.51"/>
<circle cx="296.1" cy="555.1" r="1.09"/>
<circle cx="299.8" cy="555.8" r="1.24"/>
<circle cx="302.6" cy="555.7" r="1.35"/>
<circle cx="306.6" cy="555.9" r="1.32"/>
<circle cx="311.1" cy="556.5" r="1.02"/>
<circle cx="313.4" cy="554.6" r="0.70"/>
<circle cx="317.3" cy="556.0" r="1.28"/>
<circle cx="321.8" cy="555.1" r="1.01"/>
<circle cx="324.9" cy="555.2" r="1.54"/>
<circle cx="329.3" cy="556.7" r="1.42"/>
<circle cx="332.2" cy="555.4" r="1.29"/>
<circle cx="336.2" cy="555.5" r="1.08"/>
<circle cx="340.1" cy="556.4" r="1.51"/>
<circle cx="342.7" cy="556.2" r="1.49"/>
<circle cx="346.7" cy="555.0" r="1.53"/>
<circle cx="349.5" cy="556.3" r="0.99"/>
<circle cx="354.8" cy="555.4" r="1.44"/>
<circle cx="357.5" cy="554.6" r="1.25"/>
<circle cx="362.2" cy="555.3" r="1.18"/>
<circle cx="364.6" cy="556.1" r="0.97"/>
<circle cx="369.1" cy="554.8" r="1.06"/>
<circle cx="372.7" cy="555.0" r="1.17"/>
<circle cx="376.1" cy="556.1" r="1.05"/>
<circle cx="378.6" cy="555.3" r="1.02"/>
<circle cx="383.1" cy="554.8" r="0.99"/>
<circle cx="387.4" cy="555.5" r="1.48"/>
<circle cx="390.2" cy="556.7" r="1.35"/>
<circle cx="395.0" cy="555.9" r="1.19"/>
<circle cx="396.6" cy="554.7" r="1.48"/>
<circle cx="401.4" cy="556.1" r="1.37"/>
<circle cx="404.6" cy="556.5" r="1.03"/>
<circle cx="408.6" cy="555.5" r="1.16"/>
<circle cx="411.9" cy="556.1" r="1.38"/>
<circle cx="416.4" cy="554.9" r="1.34"/>
<circle cx="420.3" cy="554.7" r="1.17"/>
<circle cx="423.7" cy="555.9" r="1.08"/>
<circle cx="427.6" cy="556.0" r="0.98"/>
<circle cx="429.9" cy="554.8" r="1.17"/>
<circle cx="434.8" cy="556.2" r="0.97"/>
<circle cx="437.3" cy="555.8" r="1.29"/>
<circle cx="440.0" cy="554.6" r="0.99"/>
<circle cx="445.7" cy="554.6" r="1.29"/>
<circle cx="448.8" cy="556.5" r="1.15"/>
<circle cx="452.6" cy="556.2" r="1.53"/>
<circle cx="455.0" cy="554.9" r="1.52"/>
<circle cx="459.2" cy="555.4" r="1.11"/>
<circle cx="463.8" cy="554.7" r="1.12"/>
<circle cx="465.2" cy="555.2" r="0.70"/>
<circle cx="470.1" cy="555.2" r="0.70"/>
<circle cx="472.5" cy="556.7" r="1.11"/>
<circle cx="477.2" cy="555.5" r="0.96"/>
<circle cx="481.4" cy="555.0" r="1.02"/>
<circle cx="484.3" cy="554.8" r="1.51"/>
<circle cx="262.5" cy="558.2" r="1.25"/>
<circle cx="264.4" cy="559.0" r="0.99"/>
<circle cx="268.7" cy="559.8" r="1.46"/>
<circle cx="272.7" cy="558.2" r="1.30"/>
<circle cx="277.2" cy="559.1" r="0.70"/>
<circle cx="280.0" cy="558.6" r="1.44"/>
<circle cx="283.5" cy="557.8" r="1.46"/>
<circle cx="288.0" cy="559.1" r="1.02"/>
<circle cx="290.1" cy="558.0" r="0.96"/>
<circle cx="293.4" cy="559.8" r="1.29"/>
<circle cx="298.9" cy="557.9" r="0.99"/>
<circle cx="300.9" cy="559.4" r="1.03"/>
<circle cx="305.9" cy="559.5" r="0.70"/>
<circle cx="309.1" cy="559.2" r="1.37"/>
<circle cx="312.2" cy="559.8" r="1.51"/>
<circle cx="315.5" cy="558.0" r="1.17"/>
<circle cx="319.7" cy="559.7" r="1.46"/>
<circle cx="323.6" cy="559.7" r="1.32"/>
<circle cx="327.8" cy="559.6" r="1.31"/>
<circle cx="330.3" cy="559.3" r="1.16"/>
<circle cx="334.3" cy="559.2" r="1.06"/>
<circle cx="338.0" cy="558.0" r="1.14"/>
<circle cx="341.7" cy="558.8" r="1.11"/>
<circle cx="344.7" cy="559.1" r="1.22"/>
<circle cx="349.0" cy="558.7" r="1.02"/>
<circle cx="352.1" cy="558.3" r="1.33"/>
<circle cx="355.2" cy="558.2" r="0.70"/>
<circle cx="359.1" cy="558.8" r="0.70"/>
<circle cx="362.8" cy="559.4" r="1.55"/>
<circle cx="366.1" cy="559.2" r="1.47"/>
<circle cx="369.9" cy="559.2" r="1.02"/>
<circle cx="374.3" cy="558.5" r="1.29"/>
<circle cx="377.4" cy="559.1" r="0.95"/>
<circle cx="382.1" cy="559.0" r="1.05"/>
<circle cx="385.5" cy="558.9" r="1.18"/>
<circle cx="389.5" cy="558.1" r="1.34"/>
<circle cx="393.2" cy="559.5" r="1.53"/>
<circle cx="395.3" cy="559.8" r="1.21"/>
<circle cx="399.8" cy="559.7" r="1.43"/>
<circle cx="403.9" cy="559.7" r="1.21"/>
<circle cx="407.3" cy="558.9" r="1.01"/>
<circle cx="409.6" cy="559.4" r="1.06"/>
<circle cx="413.9" cy="557.8" r="1.05"/>
<circle cx="417.3" cy="558.2" r="1.50"/>
<circle cx="422.1" cy="559.9" r="1.47"/>
<circle cx="424.9" cy="557.9" r="1.22"/>
<circle cx="428.5" cy="558.1" r="1.54"/>
<circle cx="432.3" cy="558.1" r="1.50"/>
<circle cx="435.3" cy="559.7" r="1.35"/>
<circle cx="439.8" cy="558.4" r="1.09"/>
<circle cx="443.2" cy="558.6" r="0.96"/>
<circle cx="446.7" cy="559.6" r="0.95"/>
<circle cx="449.1" cy="558.3" r="1.10"/>
<circle cx="453.2" cy="559.6" r="1.11"/>
<circle cx="457.2" cy="559.3" r="1.52"/>
<circle cx="460.5" cy="559.5" r="1.24"/>
<circle cx="464.1" cy="559.0" r="1.32"/>
<circle cx="467.5" cy="559.9" r="1.19"/>
<circle cx="472.2" cy="558.2" r="1.11"/>
<circle cx="474.8" cy="559.6" r="1.14"/>
<circle cx="478.9" cy="558.9" r="1.33"/>
<circle cx="481.7" cy="559.0" r="1.36"/>
<circle cx="259.4" cy="561.8" r="1.49"/>
<circle cx="263.1" cy="562.7" r="0.70"/>
<circle cx="267.4" cy="561.5" r="1.02"/>
<circle cx="269.8" cy="561.0" r="1.15"/>
<circle cx="274.4" cy="562.6" r="1.03"/>
<circle cx="277.7" cy="562.6" r="1.26"/>
<circle cx="281.2" cy="560.9" r="1.08"/>
<circle cx="286.1" cy="562.8" r="0.99"/>
<circle cx="289.6" cy="560.9" r="1.43"/>
<circle cx="292.6" cy="561.0" r="1.14"/>
<circle cx="296.8" cy="561.0" r="1.09"/>
<circle cx="298.9" cy="560.8" r="1.40"/>
<circle cx="303.7" cy="562.9" r="1.43"/>
<circle cx="307.7" cy="561.8" r="1.54"/>
<circle cx="311.3" cy="562.7" r="1.24"/>
<circle cx="314.8" cy="562.1" r="0.70"/>
<circle cx="316.9" cy="562.6" r="0.95"/>
<circle cx="321.8" cy="561.5" r="1.44"/>
<circle cx="324.1" cy="561.0" r="1.02"/>
<circle cx="328.0" cy="562.8" r="1.28"/>
<circle cx="333.5" cy="561.4" r="1.15"/>
<circle cx="335.8" cy="562.0" r="1.20"/>
<circle cx="338.7" cy="561.2" r="0.98"/>
<circle cx="343.2" cy="562.7" r="0.97"/>
<circle cx="347.4" cy="562.8" r="1.54"/>
<circle cx="349.8" cy="562.9" r="1.41"/>
<circle cx="354.1" cy="562.4" r="1.33"/>
<circle cx="356.8" cy="561.9" r="1.11"/>
<circle cx="360.4" cy="562.3" r="1.44"/>
<circle cx="365.9" cy="562.4" r="1.10"/>
<circle cx="369.0" cy="561.8" r="1.50"/>
<circle cx="372.3" cy="562.5" r="1.35"/>
<circle cx="375.3" cy="561.9" r="1.52"/>
<circle cx="379.5" cy="562.7" r="1.07"/>
<circle cx="383.4" cy="561.7" r="1.26"/>
<circle cx="386.9" cy="562.3" r="1.55"/>
<circle cx="390.9" cy="561.5" r="1.41"/>
<circle cx="394.7" cy="561.0" r="1.52"/>
<circle cx="397.5" cy="562.6" r="0.98"/>
<circle cx="400.3" cy="561.0" r="1.18"/>
<circle cx="405.7" cy="561.0" r="1.05"/>
<circle cx="408.7" cy="561.6" r="1.11"/>
<circle cx="412.4" cy="561.2" r="1.05"/>
<circle cx="416.6" cy="562.8" r="1.29"/>
<circle cx="418.4" cy="561.7" r="1.08"/>
<circle cx="423.2" cy="561.6" r="1.51"/>
<circle cx="425.6" cy="562.2" r="1.00"/>
<circle cx="431.2" cy="562.4" r="1.20"/>
<circle cx="433.7" cy="561.5" r="1.52"/>
<circle cx="437.8" cy="561.6" r="0.70"/>
<circle cx="440.9" cy="561.0" r="0.98"/>
<circle cx="443.6" cy="562.5" r="1.36"/>
<circle cx="447.3" cy="563.0" r="1.20"/>
<circle cx="451.4" cy="563.0" r="1.13"/>
<circle cx="455.3" cy="561.9" r="1.44"/>
<circle cx="459.1" cy="562.2" r="1.21"/>
<circle cx="462.0" cy="560.9" r="1.32"/>
<circle cx="465.4" cy="562.7" r="1.21"/>
<circle cx="469.7" cy="561.3" r="1.40"/>
<circle cx="474.4" cy="560.9" r="1.24"/>
<circle cx="478.2" cy="562.1" r="0.70"/>
<circle cx="481.6" cy="562.5" r="1.54"/>
<circle cx="485.0" cy="561.3" r="1.00"/>
<circle cx="261.0" cy="564.3" r="1.28"/>
<circle cx="264.5" cy="564.4" r="1.36"/>
<circle cx="269.3" cy="565.3" r="1.37"/>
<circle cx="273.4" cy="564.0" r="1.27"/>
<circle cx="277.2" cy="566.0" r="1.16"/>
<circle cx="279.7" cy="565.6" r="1.50"/>
<circle cx="284.1" cy="564.6" r="1.18"/>
<circle cx="287.6" cy="565.0" r="1.44"/>
<circle cx="289.8" cy="564.4" r="0.70"/>
<circle cx="293.7" cy="566.0" r="1.45"/>
<circle cx="298.3" cy="564.7" r="1.53"/>
<circle cx="300.8" cy="565.1" r="1.03"/>
<circle cx="306.3" cy="565.1" r="1.19"/>
<circle cx="308.6" cy="564.1" r="1.17"/>
<circle cx="313.2" cy="565.2" r="1.45"/>
<circle cx="317.2" cy="564.5" r="1.45"/>
<circle cx="320.2" cy="566.0" r="1.40"/>
<circle cx="323.2" cy="564.4" r="1.19"/>
<circle cx="327.8" cy="565.1" r="1.12"/>
<circle cx="329.5" cy="565.5" r="1.33"/>
<circle cx="335.1" cy="565.8" r="1.07"/>
<circle cx="338.3" cy="564.4" r="1.55"/>
<circle cx="342.1" cy="564.5" r="1.32"/>
<circle cx="346.0" cy="566.1" r="1.33"/>
<circle cx="348.9" cy="564.6" r="1.36"/>
<circle cx="351.4" cy="565.4" r="1.15"/>
<circle cx="356.4" cy="565.3" r="1.35"/>
<circle cx="358.5" cy="564.4" r="1.54"/>
<circle cx="363.6" cy="565.9" r="1.22"/>
<circle cx="366.0" cy="564.2" r="1.06"/>
<circle cx="370.5" cy="565.4" r="1.22"/>
<circle cx="373.6" cy="565.3" r="0.98"/>
<circle cx="378.7" cy="565.4" r="1.08"/>
<circle cx="382.2" cy="564.1" r="1.21"/>
<circle cx="384.3" cy="564.9" r="0.97"/>
<circle cx="387.9" cy="564.4" r="1.04"/>
<circle cx="392.1" cy="564.2" r="0.70"/>
<circle cx="394.9" cy="564.8" r="0.96"/>
<circle cx="400.3" cy="565.4" r="1.04"/>
<circle cx="401.9" cy="565.9" r="0.70"/>
<circle cx="407.1" cy="564.4" r="1.49"/>
<circle cx="410.1" cy="564.7" r="1.47"/>
<circle cx="413.4" cy="565.7" r="1.15"/>
<circle cx="417.4" cy="566.0" r="1.20"/>
<circle cx="421.4" cy="564.2" r="1.22"/>
<circle cx="424.1" cy="565.7" r="1.09"/>
<circle cx="429.3" cy="565.9" r="1.18"/>
<circle cx="431.5" cy="564.1" r="1.09"/>
<circle cx="434.7" cy="564.6" r="1.07"/>
<circle cx="438.3" cy="564.6" r="1.35"/>
<circle cx="442.6" cy="564.1" r="0.99"/>
<circle cx="446.4" cy="565.0" r="1.29"/>
<circle cx="450.3" cy="565.9" r="1.30"/>
<circle cx="453.2" cy="564.4" r="1.50"/>
<circle cx="457.3" cy="564.5" r="0.70"/>
<circle cx="461.3" cy="564.5" r="1.42"/>
<circle cx="463.5" cy="565.5" r="1.09"/>
<circle cx="469.2" cy="565.0" r="1.36"/>
<circle cx="472.6" cy="565.1" r="1.39"/>
<circle cx="475.9" cy="564.1" r="1.23"/>
<circle cx="479.5" cy="564.1" r="1.55"/>
<circle cx="482.1" cy="564.1" r="1.12"/>
<circle cx="260.8" cy="568.8" r="1.03"/>
<circle cx="264.2" cy="568.1" r="1.23"/>
<circle cx="267.2" cy="569.3" r="1.35"/>
<circle cx="270.7" cy="568.2" r="0.97"/>
<circle cx="273.9" cy="567.7" r="1.22"/>
<circle cx="278.8" cy="567.1" r="1.11"/>
<circle cx="282.7" cy="568.1" r="0.98"/>
<circle cx="286.4" cy="568.6" r="1.48"/>
<circle cx="288.7" cy="567.9" r="1.18"/>
<circle cx="291.6" cy="569.1" r="1.44"/>
<circle cx="297.1" cy="567.2" r="1.53"/>
<circle cx="300.8" cy="569.3" r="1.02"/>
<circle cx="303.8" cy="568.1" r="0.97"/>
<circle cx="306.7" cy="569.2" r="1.04"/>
<circle cx="311.4" cy="567.7" r="1.40"/>
<circle cx="314.1" cy="569.1" r="1.47"/>
<circle cx="318.2" cy="569.1" r="0.70"/>
<circle cx="320.8" cy="569.2" r="0.70"/>
<circle cx="324.4" cy="568.0" r="0.70"/>
<circle cx="328.6" cy="567.5" r="1.15"/>
<circle cx="333.5" cy="569.2" r="0.95"/>
<circle cx="336.9" cy="568.1" r="1.22"/>
<circle cx="339.6" cy="568.7" r="1.38"/>
<circle cx="343.8" cy="568.4" r="0.97"/>
<circle cx="347.4" cy="568.5" r="1.24"/>
<circle cx="349.4" cy="568.1" r="1.42"/>
<circle cx="355.0" cy="568.7" r="0.70"/>
<circle cx="357.4" cy="568.3" r="1.13"/>
<circle cx="361.0" cy="567.4" r="1.24"/>
<circle cx="365.1" cy="568.4" r="1.05"/>
<circle cx="369.3" cy="568.5" r="0.70"/>
<circle cx="372.6" cy="567.6" r="1.10"/>
<circle cx="376.2" cy="569.2" r="1.25"/>
<circle cx="380.1" cy="569.0" r="1.36"/>
<circle cx="383.8" cy="568.8" r="1.37"/>
<circle cx="387.6" cy="568.9" r="1.35"/>
<circle cx="389.3" cy="568.1" r="1.41"/>
<circle cx="393.2" cy="568.2" r="1.34"/>
<circle cx="398.2" cy="569.0" r="1.32"/>
<circle cx="401.5" cy="569.2" r="1.19"/>
<circle cx="405.0" cy="568.3" r="1.45"/>
<circle cx="408.6" cy="568.1" r="0.98"/>
<circle cx="412.8" cy="567.9" r="1.50"/>
<circle cx="416.0" cy="567.1" r="1.19"/>
<circle cx="418.7" cy="568.2" r="0.70"/>
<circle cx="422.1" cy="568.6" r="0.95"/>
<circle cx="426.6" cy="568.8" r="0.70"/>
<circle cx="431.1" cy="567.9" r="1.28"/>
<circle cx="434.8" cy="567.3" r="1.24"/>
<circle cx="438.1" cy="568.3" r="1.40"/>
<circle cx="441.5" cy="569.1" r="1.37"/>
<circle cx="443.7" cy="567.4" r="1.45"/>
<circle cx="449.1" cy="568.1" r="1.54"/>
<circle cx="451.1" cy="568.4" r="1.18"/>
<circle cx="454.5" cy="567.5" r="1.02"/>
<circle cx="458.3" cy="568.1" r="1.22"/>
<circle cx="461.6" cy="567.5" r="1.17"/>
<circle cx="466.2" cy="569.0" r="1.31"/>
<circle cx="469.3" cy="567.5" r="1.11"/>
<circle cx="473.7" cy="568.6" r="0.96"/>
<circle cx="476.9" cy="568.6" r="1.31"/>
<circle cx="480.6" cy="568.6" r="1.44"/>
<circle cx="484.6" cy="568.4" r="1.36"/>
<circle cx="261.5" cy="571.9" r="0.70"/>
<circle cx="264.6" cy="570.5" r="1.10"/>
<circle cx="270.1" cy="570.3" r="1.17"/>
<circle cx="273.0" cy="571.3" r="1.11"/>
<circle cx="275.8" cy="572.0" r="0.70"/>
<circle cx="280.1" cy="571.3" r="1.10"/>
<circle cx="284.6" cy="572.2" r="1.35"/>
<circle cx="286.9" cy="571.6" r="1.30"/>
<circle cx="290.7" cy="570.7" r="1.09"/>
<circle cx="295.4" cy="571.2" r="1.16"/>
<circle cx="298.5" cy="572.2" r="1.50"/>
<circle cx="302.7" cy="572.2" r="1.05"/>
<circle cx="306.3" cy="572.4" r="1.18"/>
<circle cx="309.3" cy="571.5" r="1.51"/>
<circle cx="312.1" cy="570.5" r="1.23"/>
<circle cx="316.1" cy="571.2" r="1.29"/>
<circle cx="320.0" cy="572.2" r="1.42"/>
<circle cx="323.7" cy="570.8" r="1.43"/>
<circle cx="327.8" cy="571.8" r="1.31"/>
<circle cx="331.6" cy="571.7" r="1.48"/>
<circle cx="333.7" cy="570.8" r="1.09"/>
<circle cx="338.2" cy="572.4" r="1.27"/>
<circle cx="340.5" cy="570.7" r="1.40"/>
<circle cx="344.1" cy="571.6" r="1.53"/>
<circle cx="348.7" cy="572.1" r="1.54"/>
<circle cx="353.1" cy="570.7" r="1.30"/>
<circle cx="356.6" cy="572.1" r="1.34"/>
<circle cx="359.4" cy="571.8" r="1.03"/>
<circle cx="364.1" cy="572.2" r="1.04"/>
<circle cx="366.5" cy="571.2" r="1.50"/>
<circle cx="369.9" cy="572.4" r="1.32"/>
<circle cx="374.5" cy="570.4" r="1.10"/>
<circle cx="377.2" cy="571.8" r="0.99"/>
<circle cx="382.2" cy="571.2" r="1.14"/>
<circle cx="384.1" cy="570.6" r="0.97"/>
<circle cx="388.4" cy="571.2" r="1.23"/>
<circle cx="392.5" cy="570.8" r="1.52"/>
<circle cx="395.6" cy="570.3" r="1.07"/>
<circle cx="399.3" cy="571.2" r="1.53"/>
<circle cx="403.0" cy="570.7" r="1.24"/>
<circle cx="407.0" cy="571.1" r="0.97"/>
<circle cx="411.1" cy="571.7" r="1.27"/>
<circle cx="413.5" cy="571.8" r="1.27"/>
<circle cx="416.5" cy="571.9" r="1.45"/>
<circle cx="420.8" cy="571.3" r="1.14"/>
<circle cx="424.6" cy="571.0" r="0.99"/>
<circle cx="428.0" cy="571.8" r="1.45"/>
<circle cx="434.9" cy="570.8" r="1.52"/>
<circle cx="446.0" cy="570.4" r="1.02"/>
<circle cx="449.2" cy="570.6" r="1.39"/>
<circle cx="454.4" cy="570.6" r="1.20"/>
<circle cx="459.9" cy="570.7" r="1.42"/>
<circle cx="468.4" cy="570.6" r="1.21"/>
<circle cx="474.9" cy="570.3" r="1.48"/>
<circle cx="481.6" cy="570.8" r="1.32"/>
<circle cx="260.0" cy="574.2" r="1.47"/>
<circle cx="262.8" cy="574.5" r="1.40"/>
<circle cx="267.6" cy="573.7" r="1.42"/>
<circle cx="271.5" cy="573.8" r="1.25"/>
<circle cx="275.5" cy="573.9" r="1.25"/>
<circle cx="278.3" cy="574.8" r="0.70"/>
<circle cx="281.5" cy="575.3" r="1.54"/>
<circle cx="285.5" cy="574.1" r="1.36"/>
<circle cx="289.4" cy="573.5" r="1.36"/>
<circle cx="292.3" cy="573.8" r="1.48"/>
<circle cx="295.3" cy="573.6" r="1.45"/>
<circle cx="300.2" cy="575.0" r="1.05"/>
<circle cx="303.4" cy="574.2" r="1.44"/>
<circle cx="307.2" cy="574.0" r="1.52"/>
<circle cx="310.5" cy="574.2" r="1.23"/>
<circle cx="313.6" cy="573.5" r="1.55"/>
<circle cx="317.6" cy="574.8" r="1.37"/>
<circle cx="322.3" cy="574.0" r="1.19"/>
<circle cx="325.1" cy="573.8" r="1.05"/>
<circle cx="328.7" cy="574.6" r="1.09"/>
<circle cx="332.2" cy="573.7" r="1.31"/>
<circle cx="336.9" cy="573.6" r="1.07"/>
<circle cx="339.5" cy="574.2" r="1.32"/>
<circle cx="342.3" cy="573.7" r="0.70"/>
<circle cx="345.9" cy="574.8" r="1.24"/>
<circle cx="349.5" cy="574.5" r="1.47"/>
<circle cx="354.2" cy="573.7" r="1.52"/>
<circle cx="358.4" cy="575.0" r="1.15"/>
<circle cx="361.3" cy="574.6" r="1.51"/>
<circle cx="364.4" cy="573.5" r="1.06"/>
<circle cx="368.9" cy="573.8" r="1.07"/>
<circle cx="373.3" cy="575.5" r="1.11"/>
<circle cx="376.3" cy="574.4" r="0.70"/>
<circle cx="379.7" cy="575.3" r="1.11"/>
<circle cx="382.9" cy="574.1" r="1.12"/>
<circle cx="386.4" cy="575.2" r="1.50"/>
<circle cx="390.3" cy="575.1" r="1.18"/>
<circle cx="393.6" cy="573.6" r="1.24"/>
<circle cx="398.5" cy="575.1" r="1.03"/>
<circle cx="402.0" cy="575.0" r="1.30"/>
<circle cx="403.8" cy="573.5" r="1.06"/>
<circle cx="408.8" cy="575.5" r="1.07"/>
<circle cx="411.5" cy="573.9" r="1.14"/>
<circle cx="414.6" cy="573.4" r="0.99"/>
<circle cx="419.9" cy="575.1" r="1.34"/>
<circle cx="422.3" cy="573.9" r="1.46"/>
<circle cx="425.7" cy="573.9" r="1.27"/>
<circle cx="429.3" cy="574.6" r="1.51"/>
<circle cx="484.4" cy="573.6" r="1.09"/>
<circle cx="262.5" cy="577.1" r="1.11"/>
<circle cx="265.3" cy="577.8" r="1.11"/>
<circle cx="270.1" cy="576.6" r="1.00"/>
<circle cx="272.1" cy="578.5" r="0.95"/>
<circle cx="276.1" cy="576.9" r="1.44"/>
<circle cx="279.4" cy="576.5" r="1.41"/>
<circle cx="283.8" cy="577.2" r="1.13"/>
<circle cx="286.8" cy="577.9" r="0.99"/>
<circle cx="290.9" cy="577.3" r="1.08"/>
<circle cx="295.0" cy="578.7" r="1.22"/>
<circle cx="299.0" cy="577.2" r="1.54"/>
<circle cx="300.7" cy="577.5" r="1.40"/>
<circle cx="305.6" cy="576.8" r="0.96"/>
<circle cx="309.3" cy="577.1" r="1.41"/>
<circle cx="311.9" cy="578.6" r="1.39"/>
<circle cx="316.9" cy="578.5" r="1.05"/>
<circle cx="320.3" cy="578.3" r="1.26"/>
<circle cx="323.3" cy="577.1" r="1.01"/>
<circle cx="326.9" cy="577.8" r="1.42"/>
<circle cx="330.2" cy="576.9" r="1.46"/>
<circle cx="334.0" cy="577.9" r="1.50"/>
<circle cx="337.5" cy="577.7" r="1.43"/>
<circle cx="342.4" cy="578.4" r="1.34"/>
<circle cx="345.1" cy="576.7" r="1.28"/>
<circle cx="348.6" cy="578.6" r="1.10"/>
<circle cx="352.6" cy="578.1" r="0.70"/>
<circle cx="355.7" cy="578.0" r="1.35"/>
<circle cx="359.5" cy="577.6" r="1.06"/>
<circle cx="362.8" cy="578.5" r="1.27"/>
<circle cx="367.7" cy="578.0" r="1.33"/>
<circle cx="371.3" cy="576.6" r="1.17"/>
<circle cx="374.6" cy="578.7" r="1.05"/>
<circle cx="378.0" cy="577.3" r="0.98"/>
<circle cx="380.9" cy="577.6" r="1.02"/>
<circle cx="384.5" cy="578.1" r="1.29"/>
<circle cx="387.8" cy="577.3" r="1.20"/>
<circle cx="391.1" cy="577.2" r="1.11"/>
<circle cx="396.5" cy="577.8" r="1.30"/>
<circle cx="399.9" cy="578.4" r="1.39"/>
<circle cx="402.4" cy="577.2" r="1.30"/>
<circle cx="406.5" cy="578.6" r="1.08"/>
<circle cx="411.2" cy="576.7" r="1.05"/>
<circle cx="414.0" cy="578.0" r="1.19"/>
<circle cx="418.4" cy="577.1" r="1.05"/>
<circle cx="420.5" cy="577.9" r="1.51"/>
<circle cx="425.2" cy="577.0" r="0.98"/>
<circle cx="428.3" cy="577.2" r="1.11"/>
<circle cx="259.6" cy="581.2" r="1.22"/>
<circle cx="263.6" cy="579.9" r="1.48"/>
<circle cx="266.3" cy="581.2" r="1.41"/>
<circle cx="270.0" cy="580.8" r="1.54"/>
<circle cx="274.7" cy="580.0" r="1.06"/>
<circle cx="277.5" cy="581.6" r="0.99"/>
<circle cx="281.2" cy="581.2" r="1.39"/>
<circle cx="284.3" cy="579.8" r="1.25"/>
<circle cx="288.1" cy="579.9" r="0.96"/>
<circle cx="292.1" cy="581.2" r="1.08"/>
<circle cx="295.2" cy="580.1" r="1.04"/>
<circle cx="299.6" cy="580.8" r="1.53"/>
<circle cx="303.8" cy="581.5" r="1.07"/>
<circle cx="306.6" cy="580.9" r="0.70"/>
<circle cx="311.3" cy="580.0" r="1.44"/>
<circle cx="313.3" cy="581.5" r="0.97"/>
<circle cx="317.9" cy="581.4" r="1.16"/>
<circle cx="322.3" cy="581.8" r="1.42"/>
<circle cx="325.6" cy="580.5" r="1.06"/>
<circle cx="329.0" cy="579.9" r="0.95"/>
<circle cx="332.7" cy="580.5" r="1.44"/>
<circle cx="335.7" cy="581.2" r="1.31"/>
<circle cx="339.0" cy="581.4" r="1.05"/>
<circle cx="344.1" cy="579.9" r="1.23"/>
<circle cx="347.6" cy="579.7" r="1.05"/>
<circle cx="349.5" cy="579.7" r="1.13"/>
<circle cx="353.3" cy="581.0" r="1.07"/>
<circle cx="357.4" cy="579.9" r="1.53"/>
<circle cx="360.8" cy="581.4" r="1.40"/>
<circle cx="365.4" cy="579.9" r="1.50"/>
<circle cx="367.8" cy="579.9" r="1.47"/>
<circle cx="371.9" cy="581.0" r="0.98"/>
<circle cx="375.3" cy="581.2" r="1.51"/>
<circle cx="378.4" cy="580.3" r="1.52"/>
<circle cx="383.5" cy="581.6" r="1.17"/>
<circle cx="385.8" cy="579.9" r="1.13"/>
<circle cx="391.3" cy="580.4" r="1.47"/>
<circle cx="392.9" cy="579.7" r="1.53"/>
<circle cx="396.5" cy="581.2" r="1.25"/>
<circle cx="402.3" cy="580.1" r="1.35"/>
<circle cx="403.8" cy="579.8" r="1.06"/>
<circle cx="409.0" cy="580.6" r="0.98"/>
<circle cx="412.3" cy="581.6" r="1.44"/>
<circle cx="415.4" cy="580.3" r="1.20"/>
<circle cx="419.4" cy="580.0" r="1.04"/>
<circle cx="422.4" cy="580.3" r="1.50"/>
<circle cx="427.1" cy="580.7" r="1.15"/>
<circle cx="483.9" cy="580.3" r="1.46"/>
<circle cx="261.9" cy="582.9" r="1.52"/>
<circle cx="265.9" cy="584.5" r="1.39"/>
<circle cx="269.7" cy="583.2" r="1.54"/>
<circle cx="271.9" cy="584.1" r="1.24"/>
<circle cx="275.5" cy="582.9" r="1.52"/>
<circle cx="279.5" cy="583.0" r="1.31"/>
<circle cx="284.0" cy="584.7" r="1.07"/>
<circle cx="287.3" cy="584.7" r="1.18"/>
<circle cx="289.8" cy="584.5" r="1.23"/>
<circle cx="294.5" cy="584.4" r="0.96"/>
<circle cx="297.2" cy="582.8" r="1.11"/>
<circle cx="301.9" cy="584.0" r="1.09"/>
<circle cx="305.8" cy="584.9" r="1.28"/>
<circle cx="308.8" cy="583.1" r="1.08"/>
<circle cx="313.4" cy="584.5" r="1.30"/>
<circle cx="316.0" cy="584.7" r="1.43"/>
<circle cx="320.0" cy="583.8" r="1.47"/>
<circle cx="324.2" cy="584.7" r="1.01"/>
<circle cx="328.0" cy="583.9" r="1.49"/>
<circle cx="331.7" cy="584.4" r="1.51"/>
<circle cx="333.7" cy="584.4" r="1.40"/>
<circle cx="338.8" cy="583.7" r="1.07"/>
<circle cx="342.0" cy="582.8" r="1.34"/>
<circle cx="346.1" cy="583.8" r="1.30"/>
<circle cx="347.8" cy="583.8" r="1.44"/>
<circle cx="352.5" cy="584.0" r="1.37"/>
<circle cx="355.5" cy="582.9" r="1.52"/>
<circle cx="358.9" cy="584.5" r="1.43"/>
<circle cx="362.1" cy="583.8" r="1.31"/>
<circle cx="366.0" cy="584.0" r="1.04"/>
<circle cx="371.4" cy="582.9" r="1.06"/>
<circle cx="373.6" cy="583.9" r="1.46"/>
<circle cx="378.5" cy="583.0" r="1.27"/>
<circle cx="381.1" cy="584.7" r="1.08"/>
<circle cx="384.6" cy="583.8" r="1.54"/>
<circle cx="387.9" cy="583.5" r="1.44"/>
<circle cx="391.3" cy="584.6" r="1.43"/>
<circle cx="395.8" cy="585.0" r="1.02"/>
<circle cx="400.0" cy="584.7" r="1.50"/>
<circle cx="402.1" cy="584.6" r="1.35"/>
<circle cx="405.7" cy="584.1" r="1.45"/>
<circle cx="409.4" cy="583.0" r="1.44"/>
<circle cx="414.9" cy="584.7" r="1.20"/>
<circle cx="416.6" cy="583.9" r="1.17"/>
<circle cx="420.9" cy="583.6" r="1.27"/>
<circle cx="424.4" cy="584.2" r="1.27"/>
<circle cx="427.7" cy="583.1" r="1.25"/>
<circle cx="483.0" cy="583.9" r="1.48"/>
<circle cx="259.9" cy="586.9" r="1.17"/>
<circle cx="263.7" cy="586.9" r="1.03"/>
<circle cx="267.9" cy="587.8" r="0.99"/>
<circle cx="270.9" cy="586.8" r="1.53"/>
<circle cx="273.5" cy="587.9" r="0.70"/>
<circle cx="277.1" cy="586.6" r="0.70"/>
<circle cx="281.8" cy="586.8" r="1.20"/>
<circle cx="285.1" cy="587.1" r="0.98"/>
<circle cx="288.1" cy="587.4" r="1.48"/>
<circle cx="292.6" cy="587.0" r="0.70"/>
<circle cx="296.4" cy="586.7" r="1.37"/>
<circle cx="300.1" cy="587.6" r="1.25"/>
<circle cx="302.5" cy="586.6" r="0.70"/>
<circle cx="306.5" cy="586.7" r="1.43"/>
<circle cx="311.2" cy="588.1" r="0.70"/>
<circle cx="313.5" cy="587.5" r="1.11"/>
<circle cx="317.3" cy="588.0" r="1.51"/>
<circle cx="322.3" cy="586.2" r="1.18"/>
<circle cx="325.0" cy="587.8" r="1.16"/>
<circle cx="327.7" cy="588.1" r="1.49"/>
<circle cx="332.7" cy="586.5" r="1.16"/>
<circle cx="335.3" cy="586.7" r="1.38"/>
<circle cx="339.7" cy="586.6" r="1.33"/>
<circle cx="343.7" cy="587.4" r="1.15"/>
<circle cx="346.8" cy="586.7" r="1.13"/>
<circle cx="350.6" cy="586.9" r="1.05"/>
<circle cx="353.8" cy="586.8" r="1.01"/>
<circle cx="357.0" cy="586.4" r="1.47"/>
<circle cx="362.4" cy="587.6" r="1.14"/>
<circle cx="365.2" cy="587.8" r="0.95"/>
<circle cx="368.2" cy="586.5" r="1.35"/>
<circle cx="371.1" cy="586.7" r="1.19"/>
<circle cx="375.5" cy="586.4" r="1.51"/>
<circle cx="378.6" cy="587.0" r="1.46"/>
<circle cx="382.7" cy="586.4" r="1.30"/>
<circle cx="385.9" cy="586.0" r="1.26"/>
<circle cx="390.8" cy="587.5" r="0.95"/>
<circle cx="393.8" cy="587.4" r="1.50"/>
<circle cx="397.2" cy="587.5" r="1.18"/>
<circle cx="400.7" cy="586.4" r="1.15"/>
<circle cx="405.4" cy="586.8" r="1.49"/>
<circle cx="408.2" cy="587.5" r="1.24"/>
<circle cx="412.7" cy="586.8" r="0.70"/>
<circle cx="415.8" cy="586.6" r="1.02"/>
<circle cx="418.5" cy="587.5" r="1.18"/>
<circle cx="422.5" cy="587.2" r="1.16"/>
<circle cx="426.8" cy="587.4" r="1.36"/>
<circle cx="483.4" cy="588.0" r="1.24"/>
<circle cx="262.7" cy="590.6" r="0.70"/>
<circle cx="265.0" cy="589.5" r="0.70"/>
<circle cx="269.0" cy="590.4" r="0.70"/>
<circle cx="273.2" cy="590.4" r="1.44"/>
<circle cx="275.8" cy="589.7" r="0.98"/>
<circle cx="280.1" cy="589.8" r="0.70"/>
<circle cx="284.4" cy="590.1" r="1.12"/>
<circle cx="286.1" cy="589.6" r="1.02"/>
<circle cx="291.4" cy="589.1" r="1.27"/>
<circle cx="293.8" cy="590.5" r="1.19"/>
<circle cx="298.8" cy="589.7" r="1.08"/>
<circle cx="302.4" cy="591.2" r="1.07"/>
<circle cx="304.5" cy="589.2" r="1.31"/>
<circle cx="308.9" cy="589.5" r="1.44"/>
<circle cx="313.5" cy="590.9" r="1.16"/>
<circle cx="316.0" cy="590.7" r="1.44"/>
<circle cx="320.6" cy="589.9" r="1.49"/>
<circle cx="324.2" cy="590.2" r="1.08"/>
<circle cx="326.4" cy="589.4" r="1.30"/>
<circle cx="330.8" cy="591.2" r="1.27"/>
<circle cx="334.8" cy="590.4" r="1.07"/>
<circle cx="337.6" cy="589.9" r="1.50"/>
<circle cx="340.6" cy="589.6" r="1.17"/>
<circle cx="345.8" cy="590.1" r="1.48"/>
<circle cx="348.2" cy="589.1" r="1.33"/>
<circle cx="352.8" cy="590.9" r="1.26"/>
<circle cx="356.3" cy="590.7" r="0.70"/>
<circle cx="359.5" cy="590.3" r="1.40"/>
<circle cx="362.8" cy="589.7" r="1.19"/>
<circle cx="366.3" cy="590.4" r="1.02"/>
<circle cx="371.0" cy="590.7" r="1.38"/>
<circle cx="373.5" cy="589.7" r="1.43"/>
<circle cx="378.1" cy="589.8" r="1.20"/>
<circle cx="381.3" cy="590.1" r="1.10"/>
<circle cx="384.1" cy="590.9" r="0.99"/>
<circle cx="387.6" cy="590.3" r="1.37"/>
<circle cx="392.8" cy="589.2" r="0.70"/>
<circle cx="395.1" cy="591.0" r="1.45"/>
<circle cx="398.7" cy="589.3" r="1.37"/>
<circle cx="402.6" cy="590.1" r="0.96"/>
<circle cx="407.1" cy="590.5" r="0.99"/>
<circle cx="410.4" cy="589.7" r="1.49"/>
<circle cx="412.8" cy="589.9" r="1.32"/>
<circle cx="417.2" cy="590.9" r="1.30"/>
<circle cx="421.3" cy="591.2" r="1.25"/>
<circle cx="424.5" cy="590.1" r="1.29"/>
<circle cx="428.8" cy="590.1" r="1.14"/>
<circle cx="260.1" cy="593.7" r="1.46"/>
<circle cx="263.8" cy="593.3" r="1.32"/>
<circle cx="267.7" cy="593.6" r="1.19"/>
<circle cx="271.7" cy="593.9" r="1.48"/>
<circle cx="274.7" cy="592.7" r="1.09"/>
<circle cx="277.0" cy="593.0" r="1.04"/>
<circle cx="281.1" cy="593.5" r="1.17"/>
<circle cx="284.7" cy="593.7" r="1.20"/>
<circle cx="288.1" cy="594.2" r="0.99"/>
<circle cx="293.5" cy="593.4" r="1.05"/>
<circle cx="295.8" cy="593.3" r="1.48"/>
<circle cx="300.9" cy="594.0" r="1.00"/>
<circle cx="302.6" cy="593.1" r="1.14"/>
<circle cx="306.5" cy="593.7" r="1.24"/>
<circle cx="311.0" cy="592.7" r="1.04"/>
<circle cx="313.7" cy="593.3" r="1.15"/>
<circle cx="318.2" cy="594.1" r="1.07"/>
<circle cx="321.4" cy="592.8" r="1.14"/>
<circle cx="324.5" cy="593.7" r="1.28"/>
<circle cx="328.1" cy="594.4" r="1.21"/>
<circle cx="332.7" cy="592.8" r="1.44"/>
<circle cx="336.5" cy="592.3" r="1.28"/>
<circle cx="338.9" cy="592.7" r="1.23"/>
<circle cx="342.6" cy="594.3" r="1.46"/>
<circle cx="347.6" cy="593.3" r="1.31"/>
<circle cx="351.1" cy="593.0" r="1.41"/>
<circle cx="354.7" cy="592.9" r="1.25"/>
<circle cx="357.7" cy="594.4" r="1.26"/>
<circle cx="360.6" cy="593.3" r="1.21"/>
<circle cx="363.9" cy="592.2" r="1.09"/>
<circle cx="368.0" cy="594.1" r="0.97"/>
<circle cx="372.4" cy="593.1" r="1.19"/>
<circle cx="376.1" cy="593.9" r="1.54"/>
<circle cx="379.2" cy="593.1" r="1.53"/>
<circle cx="383.4" cy="592.9" r="0.97"/>
<circle cx="385.8" cy="592.4" r="1.40"/>
<circle cx="391.2" cy="593.5" r="1.02"/>
<circle cx="394.0" cy="593.5" r="1.16"/>
<circle cx="397.6" cy="593.5" r="1.50"/>
<circle cx="400.5" cy="594.3" r="1.40"/>
<circle cx="405.4" cy="592.5" r="1.01"/>
<circle cx="409.2" cy="592.8" r="1.50"/>
<circle cx="412.2" cy="593.3" r="1.16"/>
<circle cx="415.2" cy="592.6" r="1.24"/>
<circle cx="418.2" cy="593.4" r="1.20"/>
<circle cx="422.4" cy="593.9" r="1.51"/>
<circle cx="427.5" cy="593.8" r="1.40"/>
<circle cx="429.7" cy="593.9" r="1.25"/>
<circle cx="484.1" cy="593.8" r="1.39"/>
<circle cx="261.5" cy="597.1" r="1.25"/>
<circle cx="265.6" cy="595.6" r="1.22"/>
<circle cx="270.1" cy="596.9" r="1.03"/>
<circle cx="272.7" cy="597.4" r="1.55"/>
<circle cx="277.0" cy="595.5" r="1.40"/>
<circle cx="279.9" cy="596.7" r="0.70"/>
<circle cx="283.3" cy="596.8" r="1.33"/>
<circle cx="287.9" cy="596.7" r="1.09"/>
<circle cx="290.4" cy="595.7" r="1.40"/>
<circle cx="295.5" cy="596.1" r="0.96"/>
<circle cx="297.1" cy="597.0" r="1.13"/>
<circle cx="301.9" cy="595.5" r="1.50"/>
<circle cx="306.3" cy="596.0" r="1.44"/>
<circle cx="308.7" cy="596.8" r="1.37"/>
<circle cx="313.2" cy="595.8" r="1.44"/>
<circle cx="315.5" cy="596.7" r="1.36"/>
<circle cx="318.9" cy="596.4" r="1.23"/>
<circle cx="323.4" cy="595.4" r="1.23"/>
<circle cx="326.0" cy="596.5" r="1.43"/>
<circle cx="330.4" cy="596.6" r="1.02"/>
<circle cx="333.3" cy="595.7" r="1.53"/>
<circle cx="338.0" cy="595.3" r="1.03"/>
<circle cx="341.2" cy="596.2" r="0.96"/>
<circle cx="345.9" cy="595.5" r="1.35"/>
<circle cx="348.9" cy="595.3" r="1.31"/>
<circle cx="351.8" cy="595.4" r="1.21"/>
<circle cx="355.4" cy="596.4" r="1.23"/>
<circle cx="360.5" cy="597.0" r="1.28"/>
<circle cx="363.0" cy="595.5" r="1.07"/>
<circle cx="366.4" cy="596.4" r="0.70"/>
<circle cx="370.2" cy="596.9" r="1.09"/>
<circle cx="374.7" cy="597.1" r="0.70"/>
<circle cx="378.7" cy="596.9" r="0.96"/>
<circle cx="381.0" cy="596.8" r="1.05"/>
<circle cx="385.9" cy="596.2" r="0.70"/>
<circle cx="387.5" cy="597.5" r="1.39"/>
<circle cx="392.9" cy="596.3" r="1.46"/>
<circle cx="394.9" cy="595.4" r="1.26"/>
<circle cx="398.3" cy="597.4" r="1.20"/>
<circle cx="402.3" cy="597.3" r="1.27"/>
<circle cx="407.0" cy="596.7" r="1.17"/>
<circle cx="410.5" cy="596.0" r="1.19"/>
<circle cx="414.2" cy="595.6" r="1.10"/>
<circle cx="418.1" cy="595.3" r="1.12"/>
<circle cx="421.9" cy="597.3" r="1.26"/>
<circle cx="424.7" cy="595.4" r="1.42"/>
<circle cx="429.1" cy="597.5" r="1.49"/>
<circle cx="259.5" cy="600.5" r="1.41"/>
<circle cx="262.7" cy="598.9" r="1.31"/>
<circle cx="267.2" cy="599.9" r="1.07"/>
<circle cx="271.8" cy="599.5" r="1.03"/>
<circle cx="275.3" cy="599.7" r="1.25"/>
<circle cx="278.8" cy="599.4" r="1.20"/>
<circle cx="281.5" cy="599.9" r="1.27"/>
<circle cx="284.9" cy="600.5" r="1.00"/>
<circle cx="289.8" cy="599.8" r="1.13"/>
<circle cx="292.1" cy="600.5" r="1.31"/>
<circle cx="297.0" cy="600.2" r="1.51"/>
<circle cx="299.2" cy="599.8" r="1.05"/>
<circle cx="304.0" cy="599.2" r="1.45"/>
<circle cx="306.4" cy="599.6" r="1.39"/>
<circle cx="311.8" cy="600.4" r="1.17"/>
<circle cx="313.6" cy="600.6" r="0.97"/>
<circle cx="317.6" cy="600.5" r="1.26"/>
<circle cx="321.5" cy="598.5" r="1.34"/>
<circle cx="325.7" cy="600.1" r="1.13"/>
<circle cx="329.6" cy="599.9" r="1.45"/>
<circle cx="331.6" cy="599.8" r="1.25"/>
<circle cx="337.1" cy="598.6" r="1.46"/>
<circle cx="339.1" cy="598.6" r="0.96"/>
<circle cx="343.0" cy="599.2" r="1.07"/>
<circle cx="347.3" cy="599.8" r="1.23"/>
<circle cx="349.5" cy="599.3" r="1.49"/>
<circle cx="353.1" cy="599.7" r="1.31"/>
<circle cx="357.9" cy="599.3" r="1.04"/>
<circle cx="360.9" cy="599.1" r="1.29"/>
<circle cx="364.0" cy="600.5" r="1.24"/>
<circle cx="368.7" cy="599.5" r="0.96"/>
<circle cx="372.5" cy="600.2" r="0.97"/>
<circle cx="376.0" cy="598.5" r="1.00"/>
<circle cx="380.5" cy="600.3" r="0.98"/>
<circle cx="383.8" cy="598.8" r="1.10"/>
<circle cx="385.7" cy="598.7" r="1.12"/>
<circle cx="389.9" cy="600.2" r="1.14"/>
<circle cx="394.0" cy="600.2" r="1.25"/>
<circle cx="397.8" cy="599.0" r="1.00"/>
<circle cx="400.5" cy="598.5" r="1.52"/>
<circle cx="403.9" cy="600.3" r="1.09"/>
<circle cx="408.5" cy="599.4" r="1.04"/>
<circle cx="411.6" cy="599.7" r="1.42"/>
<circle cx="416.5" cy="598.6" r="1.19"/>
<circle cx="418.8" cy="599.2" r="1.23"/>
<circle cx="422.8" cy="598.8" r="1.53"/>
<circle cx="425.4" cy="599.8" r="1.16"/>
<circle cx="429.4" cy="599.6" r="1.26"/>
<circle cx="440.7" cy="600.3" r="1.14"/>
<circle cx="445.4" cy="600.4" r="0.98"/>
<circle cx="447.9" cy="600.2" r="0.97"/>
<circle cx="458.9" cy="599.9" r="1.42"/>
<circle cx="466.5" cy="599.9" r="1.54"/>
<circle cx="472.6" cy="600.4" r="0.97"/>
<circle cx="476.7" cy="599.9" r="1.46"/>
<circle cx="483.6" cy="599.9" r="1.18"/>
</g></g></g>
<rect x="262.8" y="426.8" width="33.8" height="18.2" fill="#fff"/>
<text x="278.80" y="442.10" font-size="12.2" text-anchor="middle" font-weight="bold" stroke="#111" stroke-width="0.45">A4</text>
<rect x="430.2" y="571.2" width="50.9" height="27.3" fill="#fff"/>
<text x="435.20" y="586.30" font-size="13.0" font-weight="bold" stroke="#111" stroke-width="0.4">10 µm</text>
<rect x="435.7" y="591.5" width="41.0" height="3.3" fill="#0a0a0a"/>
<text x="490.60" y="262.00" font-size="28.6" font-weight="bold" fill="#000">e</text>
<rect x="549.10" y="383.84" width="31.00" height="5.36" fill="#b68c3a" stroke="#6f5620" stroke-width="0.8"/>
<rect x="586.90" y="343.53" width="29.80" height="45.67" fill="#b68c3a" stroke="#6f5620" stroke-width="0.8"/>
<rect x="624.20" y="319.86" width="29.80" height="69.34" fill="#b68c3a" stroke="#6f5620" stroke-width="0.8"/>
<rect x="661.00" y="355.69" width="30.30" height="33.51" fill="#b68c3a" stroke="#6f5620" stroke-width="0.8"/>
<rect x="698.30" y="376.38" width="29.60" height="12.82" fill="#b68c3a" stroke="#6f5620" stroke-width="0.8"/>
<rect x="546.3" y="240.3" width="185.50" height="149.30" fill="none" stroke="#141414" stroke-width="1.5"/>
<line x1="543.10" y1="389.60" x2="546.30" y2="389.60" stroke="#141414" stroke-width="1.3"/>
<text x="541.30" y="393.90" font-size="11.7" text-anchor="end" stroke="#111" stroke-width="0.3">0</text>
<line x1="543.10" y1="368.27" x2="546.30" y2="368.27" stroke="#141414" stroke-width="1.3"/>
<text x="541.30" y="372.57" font-size="11.7" text-anchor="end" stroke="#111" stroke-width="0.3">10</text>
<line x1="543.10" y1="346.94" x2="546.30" y2="346.94" stroke="#141414" stroke-width="1.3"/>
<text x="541.30" y="351.24" font-size="11.7" text-anchor="end" stroke="#111" stroke-width="0.3">20</text>
<line x1="543.10" y1="325.61" x2="546.30" y2="325.61" stroke="#141414" stroke-width="1.3"/>
<text x="541.30" y="329.91" font-size="11.7" text-anchor="end" stroke="#111" stroke-width="0.3">30</text>
<line x1="543.10" y1="304.29" x2="546.30" y2="304.29" stroke="#141414" stroke-width="1.3"/>
<text x="541.30" y="308.59" font-size="11.7" text-anchor="end" stroke="#111" stroke-width="0.3">40</text>
<line x1="543.10" y1="282.96" x2="546.30" y2="282.96" stroke="#141414" stroke-width="1.3"/>
<text x="541.30" y="287.26" font-size="11.7" text-anchor="end" stroke="#111" stroke-width="0.3">50</text>
<line x1="543.10" y1="261.63" x2="546.30" y2="261.63" stroke="#141414" stroke-width="1.3"/>
<text x="541.30" y="265.93" font-size="11.7" text-anchor="end" stroke="#111" stroke-width="0.3">60</text>
<line x1="543.10" y1="240.30" x2="546.30" y2="240.30" stroke="#141414" stroke-width="1.3"/>
<text x="541.30" y="244.60" font-size="11.7" text-anchor="end" stroke="#111" stroke-width="0.3">70</text>
<line x1="546.30" y1="389.60" x2="546.30" y2="392.80" stroke="#141414" stroke-width="1.3"/>
<text x="546.30" y="403.80" font-size="11.7" text-anchor="middle" stroke="#111" stroke-width="0.3">0.0</text>
<line x1="583.40" y1="389.60" x2="583.40" y2="392.80" stroke="#141414" stroke-width="1.3"/>
<text x="583.40" y="403.80" font-size="11.7" text-anchor="middle" stroke="#111" stroke-width="0.3">0.8</text>
<line x1="620.50" y1="389.60" x2="620.50" y2="392.80" stroke="#141414" stroke-width="1.3"/>
<text x="620.50" y="403.80" font-size="11.7" text-anchor="middle" stroke="#111" stroke-width="0.3">1.6</text>
<line x1="657.60" y1="389.60" x2="657.60" y2="392.80" stroke="#141414" stroke-width="1.3"/>
<text x="657.60" y="403.80" font-size="11.7" text-anchor="middle" stroke="#111" stroke-width="0.3">2.4</text>
<line x1="694.70" y1="389.60" x2="694.70" y2="392.80" stroke="#141414" stroke-width="1.3"/>
<text x="694.70" y="403.80" font-size="11.7" text-anchor="middle" stroke="#111" stroke-width="0.3">3.2</text>
<line x1="731.80" y1="389.60" x2="731.80" y2="392.80" stroke="#141414" stroke-width="1.3"/>
<text x="731.80" y="403.80" font-size="11.7" text-anchor="middle" stroke="#111" stroke-width="0.3">4.0</text>
<text x="639.05" y="421.60" font-size="11.7" text-anchor="middle" stroke="#111" stroke-width="0.3">Pore diameter (µm)</text>
<text x="517.00" y="315.25" font-size="11.8" text-anchor="middle" stroke="#111" stroke-width="0.3" transform="rotate(-90 517.00 315.25)">Relative count (%)</text>
<text x="554.30" y="258.70" font-size="13.2" fill="#c0392b" stroke="#c0392b" stroke-width="0.3">A1</text>
<text x="659.50" y="263.20" font-size="9.3" fill="#222" stroke="#222" stroke-width="0.3">Max./ µm</text>
<text x="729.70" y="263.20" font-size="9.3" text-anchor="end" fill="#222" stroke="#222" stroke-width="0.3">39.73</text>
<text x="659.50" y="274.50" font-size="9.3" fill="#222" stroke="#222" stroke-width="0.3">Min./ µm</text>
<text x="724.80" y="274.50" font-size="9.3" text-anchor="end" fill="#222" stroke="#222" stroke-width="0.3">0.50</text>
<text x="659.50" y="285.90" font-size="9.3" fill="#222" stroke="#222" stroke-width="0.3">Mean/ µm</text>
<text x="728.10" y="285.90" font-size="9.3" text-anchor="end" fill="#222" stroke="#222" stroke-width="0.3">4.00</text>
<rect x="646.00" y="248.69" width="12.90" height="58.11" fill="#b68c3a" stroke="#6f5620" stroke-width="0.5"/>
<rect x="661.20" y="303.68" width="12.80" height="3.12" fill="#b68c3a" stroke="#6f5620" stroke-width="0.5"/>
<rect x="676.90" y="298.81" width="12.30" height="8.00" fill="#b68c3a" stroke="#6f5620" stroke-width="0.5"/>
<rect x="692.40" y="299.78" width="12.30" height="7.02" fill="#b68c3a" stroke="#6f5620" stroke-width="0.5"/>
<rect x="708.00" y="303.29" width="12.10" height="3.51" fill="#b68c3a" stroke="#6f5620" stroke-width="0.5"/>
<path d="M644.8,244.4 V306.8 H722.3" fill="none" stroke="#141414" stroke-width="0.8"/>
<line x1="643.20" y1="306.80" x2="644.80" y2="306.80" stroke="#141414" stroke-width="0.6"/>
<text x="642.60" y="308.50" font-size="4.8" text-anchor="end" font-weight="bold" stroke="#111" stroke-width="0.2">0</text>
<line x1="643.20" y1="291.20" x2="644.80" y2="291.20" stroke="#141414" stroke-width="0.6"/>
<text x="642.60" y="292.90" font-size="4.8" text-anchor="end" font-weight="bold" stroke="#111" stroke-width="0.2">4</text>
<line x1="643.20" y1="275.60" x2="644.80" y2="275.60" stroke="#141414" stroke-width="0.6"/>
<text x="642.60" y="277.30" font-size="4.8" text-anchor="end" font-weight="bold" stroke="#111" stroke-width="0.2">8</text>
<line x1="643.20" y1="260.00" x2="644.80" y2="260.00" stroke="#141414" stroke-width="0.6"/>
<text x="642.60" y="261.70" font-size="4.8" text-anchor="end" font-weight="bold" stroke="#111" stroke-width="0.2">12</text>
<line x1="643.20" y1="244.40" x2="644.80" y2="244.40" stroke="#141414" stroke-width="0.6"/>
<text x="642.60" y="246.10" font-size="4.8" text-anchor="end" font-weight="bold" stroke="#111" stroke-width="0.2">16</text>
<line x1="652.40" y1="306.80" x2="652.40" y2="308.30" stroke="#141414" stroke-width="0.6"/>
<text x="652.40" y="313.00" font-size="4.9" text-anchor="middle" font-weight="bold" stroke="#111" stroke-width="0.2">8</text>
<line x1="668.00" y1="306.80" x2="668.00" y2="308.30" stroke="#141414" stroke-width="0.6"/>
<text x="668.00" y="313.00" font-size="4.9" text-anchor="middle" font-weight="bold" stroke="#111" stroke-width="0.2">16</text>
<line x1="683.60" y1="306.80" x2="683.60" y2="308.30" stroke="#141414" stroke-width="0.6"/>
<text x="683.60" y="313.00" font-size="4.9" text-anchor="middle" font-weight="bold" stroke="#111" stroke-width="0.2">24</text>
<line x1="699.00" y1="306.80" x2="699.00" y2="308.30" stroke="#141414" stroke-width="0.6"/>
<text x="699.00" y="313.00" font-size="4.9" text-anchor="middle" font-weight="bold" stroke="#111" stroke-width="0.2">32</text>
<line x1="714.60" y1="306.80" x2="714.60" y2="308.30" stroke="#141414" stroke-width="0.6"/>
<text x="714.60" y="313.00" font-size="4.9" text-anchor="middle" font-weight="bold" stroke="#111" stroke-width="0.2">40</text>
<text x="683.70" y="320.80" font-size="4.95" text-anchor="middle" font-weight="bold" stroke="#111" stroke-width="0.2">Pore diameter (µm)</text>
<text x="632.80" y="276.60" font-size="4.95" text-anchor="middle" font-weight="bold" transform="rotate(-90 632.80 276.60)" stroke="#111" stroke-width="0.2">Relative count (%)</text>
<rect x="792.30" y="385.48" width="29.80" height="4.52" fill="#b68c3a" stroke="#6f5620" stroke-width="0.8"/>
<rect x="829.70" y="326.29" width="29.80" height="63.71" fill="#b68c3a" stroke="#6f5620" stroke-width="0.8"/>
<rect x="866.50" y="323.29" width="30.30" height="66.71" fill="#b68c3a" stroke="#6f5620" stroke-width="0.8"/>
<rect x="903.80" y="358.34" width="30.30" height="31.66" fill="#b68c3a" stroke="#6f5620" stroke-width="0.8"/>
<rect x="941.10" y="373.94" width="30.30" height="16.06" fill="#b68c3a" stroke="#6f5620" stroke-width="0.8"/>
<rect x="789.0" y="240.8" width="186.40" height="149.60" fill="none" stroke="#141414" stroke-width="1.5"/>
<line x1="785.80" y1="390.40" x2="789.00" y2="390.40" stroke="#141414" stroke-width="1.3"/>
<text x="784.00" y="394.70" font-size="11.7" text-anchor="end" stroke="#111" stroke-width="0.3">0</text>
<line x1="785.80" y1="369.03" x2="789.00" y2="369.03" stroke="#141414" stroke-width="1.3"/>
<text x="784.00" y="373.33" font-size="11.7" text-anchor="end" stroke="#111" stroke-width="0.3">10</text>
<line x1="785.80" y1="347.66" x2="789.00" y2="347.66" stroke="#141414" stroke-width="1.3"/>
<text x="784.00" y="351.96" font-size="11.7" text-anchor="end" stroke="#111" stroke-width="0.3">20</text>
<line x1="785.80" y1="326.29" x2="789.00" y2="326.29" stroke="#141414" stroke-width="1.3"/>
<text x="784.00" y="330.59" font-size="11.7" text-anchor="end" stroke="#111" stroke-width="0.3">30</text>
<line x1="785.80" y1="304.91" x2="789.00" y2="304.91" stroke="#141414" stroke-width="1.3"/>
<text x="784.00" y="309.21" font-size="11.7" text-anchor="end" stroke="#111" stroke-width="0.3">40</text>
<line x1="785.80" y1="283.54" x2="789.00" y2="283.54" stroke="#141414" stroke-width="1.3"/>
<text x="784.00" y="287.84" font-size="11.7" text-anchor="end" stroke="#111" stroke-width="0.3">50</text>
<line x1="785.80" y1="262.17" x2="789.00" y2="262.17" stroke="#141414" stroke-width="1.3"/>
<text x="784.00" y="266.47" font-size="11.7" text-anchor="end" stroke="#111" stroke-width="0.3">60</text>
<line x1="785.80" y1="240.80" x2="789.00" y2="240.80" stroke="#141414" stroke-width="1.3"/>
<text x="784.00" y="245.10" font-size="11.7" text-anchor="end" stroke="#111" stroke-width="0.3">70</text>
<line x1="789.00" y1="390.40" x2="789.00" y2="393.60" stroke="#141414" stroke-width="1.3"/>
<text x="789.00" y="404.60" font-size="11.7" text-anchor="middle" stroke="#111" stroke-width="0.3">0.0</text>
<line x1="826.28" y1="390.40" x2="826.28" y2="393.60" stroke="#141414" stroke-width="1.3"/>
<text x="826.28" y="404.60" font-size="11.7" text-anchor="middle" stroke="#111" stroke-width="0.3">0.8</text>
<line x1="863.56" y1="390.40" x2="863.56" y2="393.60" stroke="#141414" stroke-width="1.3"/>
<text x="863.56" y="404.60" font-size="11.7" text-anchor="middle" stroke="#111" stroke-width="0.3">1.6</text>
<line x1="900.84" y1="390.40" x2="900.84" y2="393.60" stroke="#141414" stroke-width="1.3"/>
<text x="900.84" y="404.60" font-size="11.7" text-anchor="middle" stroke="#111" stroke-width="0.3">2.4</text>
<line x1="938.12" y1="390.40" x2="938.12" y2="393.60" stroke="#141414" stroke-width="1.3"/>
<text x="938.12" y="404.60" font-size="11.7" text-anchor="middle" stroke="#111" stroke-width="0.3">3.2</text>
<line x1="975.40" y1="390.40" x2="975.40" y2="393.60" stroke="#141414" stroke-width="1.3"/>
<text x="975.40" y="404.60" font-size="11.7" text-anchor="middle" stroke="#111" stroke-width="0.3">4.0</text>
<text x="882.20" y="421.40" font-size="11.7" text-anchor="middle" stroke="#111" stroke-width="0.3">Pore diameter (µm)</text>
<text x="759.50" y="315.90" font-size="11.8" text-anchor="middle" stroke="#111" stroke-width="0.3" transform="rotate(-90 759.50 315.90)">Relative count (%)</text>
<text x="802.40" y="258.80" font-size="13.2" fill="#c0392b" stroke="#c0392b" stroke-width="0.3">A2</text>
<text x="902.70" y="263.50" font-size="9.3" fill="#222" stroke="#222" stroke-width="0.3">Max./µm</text>
<text x="970.30" y="263.50" font-size="9.3" text-anchor="end" fill="#222" stroke="#222" stroke-width="0.3">10.20</text>
<text x="902.70" y="274.60" font-size="9.3" fill="#222" stroke="#222" stroke-width="0.3">Min./ µm</text>
<text x="970.30" y="274.60" font-size="9.3" text-anchor="end" fill="#222" stroke="#222" stroke-width="0.3">0.52</text>
<text x="902.70" y="286.00" font-size="9.3" fill="#222" stroke="#222" stroke-width="0.3">Mean/ µm</text>
<text x="970.30" y="286.00" font-size="9.3" text-anchor="end" fill="#222" stroke="#222" stroke-width="0.3">2.45</text>
<rect x="887.50" y="255.97" width="11.70" height="50.63" fill="#b68c3a" stroke="#6f5620" stroke-width="0.5"/>
<rect x="902.70" y="294.10" width="12.10" height="12.50" fill="#b68c3a" stroke="#6f5620" stroke-width="0.5"/>
<rect x="918.30" y="294.10" width="11.90" height="12.50" fill="#b68c3a" stroke="#6f5620" stroke-width="0.5"/>
<rect x="933.60" y="303.48" width="12.20" height="3.12" fill="#b68c3a" stroke="#6f5620" stroke-width="0.5"/>
<rect x="949.30" y="305.35" width="12.10" height="1.25" fill="#b68c3a" stroke="#6f5620" stroke-width="0.5"/>
<path d="M885.2,244.1 V306.6 H963.2" fill="none" stroke="#141414" stroke-width="0.8"/>
<line x1="883.60" y1="306.60" x2="885.20" y2="306.60" stroke="#141414" stroke-width="0.6"/>
<text x="883.00" y="308.30" font-size="4.8" text-anchor="end" font-weight="bold" stroke="#111" stroke-width="0.2">0</text>
<line x1="883.60" y1="294.10" x2="885.20" y2="294.10" stroke="#141414" stroke-width="0.6"/>
<text x="883.00" y="295.80" font-size="4.8" text-anchor="end" font-weight="bold" stroke="#111" stroke-width="0.2">2</text>
<line x1="883.60" y1="281.60" x2="885.20" y2="281.60" stroke="#141414" stroke-width="0.6"/>
<text x="883.00" y="283.30" font-size="4.8" text-anchor="end" font-weight="bold" stroke="#111" stroke-width="0.2">4</text>
<line x1="883.60" y1="269.10" x2="885.20" y2="269.10" stroke="#141414" stroke-width="0.6"/>
<text x="883.00" y="270.80" font-size="4.8" text-anchor="end" font-weight="bold" stroke="#111" stroke-width="0.2">6</text>
<line x1="883.60" y1="256.60" x2="885.20" y2="256.60" stroke="#141414" stroke-width="0.6"/>
<text x="883.00" y="258.30" font-size="4.8" text-anchor="end" font-weight="bold" stroke="#111" stroke-width="0.2">8</text>
<line x1="883.60" y1="244.10" x2="885.20" y2="244.10" stroke="#141414" stroke-width="0.6"/>
<text x="883.00" y="245.80" font-size="4.8" text-anchor="end" font-weight="bold" stroke="#111" stroke-width="0.2">10</text>
<line x1="892.90" y1="306.60" x2="892.90" y2="308.10" stroke="#141414" stroke-width="0.6"/>
<text x="892.90" y="312.80" font-size="4.9" text-anchor="middle" font-weight="bold" stroke="#111" stroke-width="0.2">4.7</text>
<line x1="908.50" y1="306.60" x2="908.50" y2="308.10" stroke="#141414" stroke-width="0.6"/>
<text x="908.50" y="312.80" font-size="4.9" text-anchor="middle" font-weight="bold" stroke="#111" stroke-width="0.2">6.1</text>
<line x1="924.10" y1="306.60" x2="924.10" y2="308.10" stroke="#141414" stroke-width="0.6"/>
<text x="924.10" y="312.80" font-size="4.9" text-anchor="middle" font-weight="bold" stroke="#111" stroke-width="0.2">7.5</text>
<line x1="939.50" y1="306.60" x2="939.50" y2="308.10" stroke="#141414" stroke-width="0.6"/>
<text x="939.50" y="312.80" font-size="4.9" text-anchor="middle" font-weight="bold" stroke="#111" stroke-width="0.2">8.9</text>
<line x1="955.10" y1="306.60" x2="955.10" y2="308.10" stroke="#141414" stroke-width="0.6"/>
<text x="955.10" y="312.80" font-size="4.9" text-anchor="middle" font-weight="bold" stroke="#111" stroke-width="0.2">10.3</text>
<text x="924.30" y="320.60" font-size="4.95" text-anchor="middle" font-weight="bold" stroke="#111" stroke-width="0.2">Pore diameter (µm)</text>
<text x="874.00" y="276.35" font-size="4.95" text-anchor="middle" font-weight="bold" transform="rotate(-90 874.00 276.35)" stroke="#111" stroke-width="0.2">Relative count (%)</text>
<rect x="549.30" y="566.99" width="21.10" height="13.01" fill="#b68c3a" stroke="#6f5620" stroke-width="0.8"/>
<rect x="575.70" y="506.27" width="21.60" height="73.73" fill="#b68c3a" stroke="#6f5620" stroke-width="0.8"/>
<rect x="602.10" y="479.08" width="21.60" height="100.92" fill="#b68c3a" stroke="#6f5620" stroke-width="0.8"/>
<rect x="628.50" y="466.41" width="21.60" height="113.59" fill="#b68c3a" stroke="#6f5620" stroke-width="0.8"/>
<rect x="655.30" y="525.64" width="21.10" height="54.36" fill="#b68c3a" stroke="#6f5620" stroke-width="0.8"/>
<rect x="681.70" y="568.48" width="21.10" height="11.52" fill="#b68c3a" stroke="#6f5620" stroke-width="0.8"/>
<rect x="707.60" y="578.54" width="21.60" height="1.46" fill="#b68c3a" stroke="#6f5620" stroke-width="0.8"/>
<rect x="547.0" y="431.4" width="185.00" height="149.00" fill="none" stroke="#141414" stroke-width="1.5"/>
<line x1="543.80" y1="580.40" x2="547.00" y2="580.40" stroke="#141414" stroke-width="1.3"/>
<text x="542.00" y="584.70" font-size="11.7" text-anchor="end" stroke="#111" stroke-width="0.3">0</text>
<line x1="543.80" y1="550.60" x2="547.00" y2="550.60" stroke="#141414" stroke-width="1.3"/>
<text x="542.00" y="554.90" font-size="11.7" text-anchor="end" stroke="#111" stroke-width="0.3">8</text>
<line x1="543.80" y1="520.80" x2="547.00" y2="520.80" stroke="#141414" stroke-width="1.3"/>
<text x="542.00" y="525.10" font-size="11.7" text-anchor="end" stroke="#111" stroke-width="0.3">16</text>
<line x1="543.80" y1="491.00" x2="547.00" y2="491.00" stroke="#141414" stroke-width="1.3"/>
<text x="542.00" y="495.30" font-size="11.7" text-anchor="end" stroke="#111" stroke-width="0.3">24</text>
<line x1="543.80" y1="461.20" x2="547.00" y2="461.20" stroke="#141414" stroke-width="1.3"/>
<text x="542.00" y="465.50" font-size="11.7" text-anchor="end" stroke="#111" stroke-width="0.3">32</text>
<line x1="543.80" y1="431.40" x2="547.00" y2="431.40" stroke="#141414" stroke-width="1.3"/>
<text x="542.00" y="435.70" font-size="11.7" text-anchor="end" stroke="#111" stroke-width="0.3">40</text>
<line x1="547.00" y1="580.40" x2="547.00" y2="583.60" stroke="#141414" stroke-width="1.3"/>
<text x="547.00" y="594.60" font-size="11.7" text-anchor="middle" stroke="#111" stroke-width="0.3">0.5</text>
<line x1="573.43" y1="580.40" x2="573.43" y2="583.60" stroke="#141414" stroke-width="1.3"/>
<text x="573.43" y="594.60" font-size="11.7" text-anchor="middle" stroke="#111" stroke-width="0.3">1.0</text>
<line x1="599.86" y1="580.40" x2="599.86" y2="583.60" stroke="#141414" stroke-width="1.3"/>
<text x="599.86" y="594.60" font-size="11.7" text-anchor="middle" stroke="#111" stroke-width="0.3">1.5</text>
<line x1="626.29" y1="580.40" x2="626.29" y2="583.60" stroke="#141414" stroke-width="1.3"/>
<text x="626.29" y="594.60" font-size="11.7" text-anchor="middle" stroke="#111" stroke-width="0.3">2.0</text>
<line x1="652.71" y1="580.40" x2="652.71" y2="583.60" stroke="#141414" stroke-width="1.3"/>
<text x="652.71" y="594.60" font-size="11.7" text-anchor="middle" stroke="#111" stroke-width="0.3">2.5</text>
<line x1="679.14" y1="580.40" x2="679.14" y2="583.60" stroke="#141414" stroke-width="1.3"/>
<text x="679.14" y="594.60" font-size="11.7" text-anchor="middle" stroke="#111" stroke-width="0.3">3.0</text>
<line x1="705.57" y1="580.40" x2="705.57" y2="583.60" stroke="#141414" stroke-width="1.3"/>
<text x="705.57" y="594.60" font-size="11.7" text-anchor="middle" stroke="#111" stroke-width="0.3">3.5</text>
<line x1="732.00" y1="580.40" x2="732.00" y2="583.60" stroke="#141414" stroke-width="1.3"/>
<text x="732.00" y="594.60" font-size="11.7" text-anchor="middle" stroke="#111" stroke-width="0.3">4.0</text>
<text x="639.50" y="610.90" font-size="11.3" text-anchor="middle" stroke="#111" stroke-width="0.3">Pore diameter (µm)</text>
<text x="517.00" y="508.90" font-size="11.8" text-anchor="middle" stroke="#111" stroke-width="0.3" transform="rotate(-90 517.00 508.90)">Relative count (%)</text>
<text x="555.90" y="448.50" font-size="13.2" fill="#c0392b" stroke="#c0392b" stroke-width="0.3">A3</text>
<text x="658.80" y="449.80" font-size="9.3" fill="#222" stroke="#222" stroke-width="0.3">Max./ µm</text>
<text x="723.60" y="449.80" font-size="9.3" text-anchor="end" fill="#222" stroke="#222" stroke-width="0.3">4.07</text>
<text x="658.80" y="461.50" font-size="9.3" fill="#222" stroke="#222" stroke-width="0.3">Min./ µm</text>
<text x="723.60" y="461.50" font-size="9.3" text-anchor="end" fill="#222" stroke="#222" stroke-width="0.3">0.60</text>
<text x="658.80" y="472.80" font-size="9.3" fill="#222" stroke="#222" stroke-width="0.3">Mean/ µm</text>
<text x="723.60" y="472.80" font-size="9.3" text-anchor="end" fill="#222" stroke="#222" stroke-width="0.3">1.96</text>
<rect x="792.90" y="558.77" width="29.70" height="21.53" fill="#b68c3a" stroke="#6f5620" stroke-width="0.8"/>
<rect x="830.20" y="496.23" width="29.80" height="84.07" fill="#b68c3a" stroke="#6f5620" stroke-width="0.8"/>
<rect x="867.30" y="473.06" width="30.00" height="107.24" fill="#b68c3a" stroke="#6f5620" stroke-width="0.8"/>
<rect x="904.20" y="552.05" width="30.00" height="28.25" fill="#b68c3a" stroke="#6f5620" stroke-width="0.8"/>
<rect x="941.50" y="574.22" width="29.50" height="6.08" fill="#b68c3a" stroke="#6f5620" stroke-width="0.8"/>
<rect x="789.2" y="431.2" width="186.30" height="149.50" fill="none" stroke="#141414" stroke-width="1.5"/>
<line x1="786.00" y1="580.70" x2="789.20" y2="580.70" stroke="#141414" stroke-width="1.3"/>
<text x="784.20" y="585.00" font-size="11.7" text-anchor="end" stroke="#111" stroke-width="0.3">0</text>
<line x1="786.00" y1="555.78" x2="789.20" y2="555.78" stroke="#141414" stroke-width="1.3"/>
<text x="784.20" y="560.08" font-size="11.7" text-anchor="end" stroke="#111" stroke-width="0.3">10</text>
<line x1="786.00" y1="530.87" x2="789.20" y2="530.87" stroke="#141414" stroke-width="1.3"/>
<text x="784.20" y="535.17" font-size="11.7" text-anchor="end" stroke="#111" stroke-width="0.3">20</text>
<line x1="786.00" y1="505.95" x2="789.20" y2="505.95" stroke="#141414" stroke-width="1.3"/>
<text x="784.20" y="510.25" font-size="11.7" text-anchor="end" stroke="#111" stroke-width="0.3">30</text>
<line x1="786.00" y1="481.03" x2="789.20" y2="481.03" stroke="#141414" stroke-width="1.3"/>
<text x="784.20" y="485.33" font-size="11.7" text-anchor="end" stroke="#111" stroke-width="0.3">40</text>
<line x1="786.00" y1="456.12" x2="789.20" y2="456.12" stroke="#141414" stroke-width="1.3"/>
<text x="784.20" y="460.42" font-size="11.7" text-anchor="end" stroke="#111" stroke-width="0.3">50</text>
<line x1="786.00" y1="431.20" x2="789.20" y2="431.20" stroke="#141414" stroke-width="1.3"/>
<text x="784.20" y="435.50" font-size="11.7" text-anchor="end" stroke="#111" stroke-width="0.3">60</text>
<line x1="789.20" y1="580.70" x2="789.20" y2="583.90" stroke="#141414" stroke-width="1.3"/>
<text x="789.20" y="594.90" font-size="11.7" text-anchor="middle" stroke="#111" stroke-width="0.3">0.4</text>
<line x1="826.46" y1="580.70" x2="826.46" y2="583.90" stroke="#141414" stroke-width="1.3"/>
<text x="826.46" y="594.90" font-size="11.7" text-anchor="middle" stroke="#111" stroke-width="0.3">0.6</text>
<line x1="863.72" y1="580.70" x2="863.72" y2="583.90" stroke="#141414" stroke-width="1.3"/>
<text x="863.72" y="594.90" font-size="11.7" text-anchor="middle" stroke="#111" stroke-width="0.3">0.8</text>
<line x1="900.98" y1="580.70" x2="900.98" y2="583.90" stroke="#141414" stroke-width="1.3"/>
<text x="900.98" y="594.90" font-size="11.7" text-anchor="middle" stroke="#111" stroke-width="0.3">1.0</text>
<line x1="938.24" y1="580.70" x2="938.24" y2="583.90" stroke="#141414" stroke-width="1.3"/>
<text x="938.24" y="594.90" font-size="11.7" text-anchor="middle" stroke="#111" stroke-width="0.3">1.2</text>
<line x1="975.50" y1="580.70" x2="975.50" y2="583.90" stroke="#141414" stroke-width="1.3"/>
<text x="975.50" y="594.90" font-size="11.7" text-anchor="middle" stroke="#111" stroke-width="0.3">1.4</text>
<text x="882.35" y="611.60" font-size="11.5" text-anchor="middle" stroke="#111" stroke-width="0.3">Pore diameter (µm)</text>
<text x="759.50" y="508.95" font-size="11.8" text-anchor="middle" stroke="#111" stroke-width="0.3" transform="rotate(-90 759.50 508.95)">Relative count (%)</text>
<text x="799.80" y="448.20" font-size="13.2" fill="#c0392b" stroke="#c0392b" stroke-width="0.3">A4</text>
<text x="902.10" y="450.00" font-size="9.3" fill="#222" stroke="#222" stroke-width="0.3">Max./ µm</text>
<text x="969.60" y="450.00" font-size="9.3" text-anchor="end" fill="#222" stroke="#222" stroke-width="0.3">1.36</text>
<text x="902.10" y="461.80" font-size="9.3" fill="#222" stroke="#222" stroke-width="0.3">Min./ µm</text>
<text x="969.60" y="461.80" font-size="9.3" text-anchor="end" fill="#222" stroke="#222" stroke-width="0.3">0.37</text>
<text x="902.10" y="473.40" font-size="9.3" fill="#222" stroke="#222" stroke-width="0.3">Mean/ µm</text>
<text x="969.60" y="473.40" font-size="9.3" text-anchor="end" fill="#222" stroke="#222" stroke-width="0.3">0.82</text>
</svg>
</body></html>
